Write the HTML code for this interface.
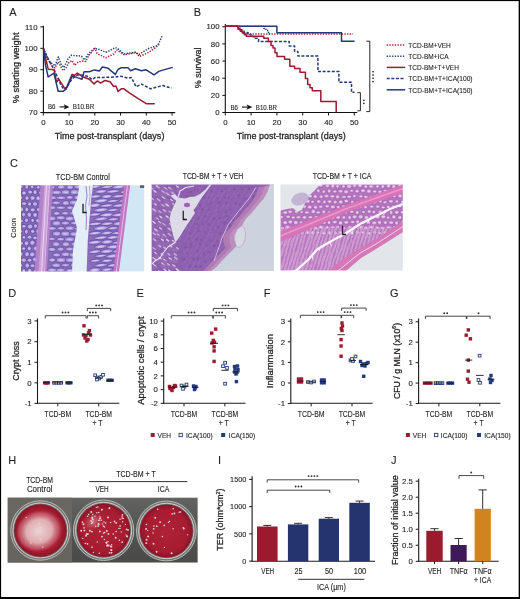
<!DOCTYPE html>
<html><head><meta charset="utf-8"><style>html,body{margin:0;padding:0;background:#fff;}svg{display:block;}</style></head>
<body><svg style="will-change:transform" width="520" height="599" viewBox="0 0 520 599" font-family='"Liberation Sans", sans-serif'>
<style>text{stroke:#231f20;stroke-width:0.12px;}</style>
<rect x="0" y="0" width="520" height="599" fill="#fff"/>
<text x="9.20" y="16.10" font-size="11" text-anchor="start" fill="#231f20" style="stroke-width:0.1px">A</text>
<text x="193.80" y="16.30" font-size="11" text-anchor="start" fill="#231f20" style="stroke-width:0.1px">B</text>
<text x="10.10" y="166.70" font-size="11" text-anchor="start" fill="#231f20" style="stroke-width:0.1px">C</text>
<text x="8.20" y="296.90" font-size="11" text-anchor="start" fill="#231f20" style="stroke-width:0.1px">D</text>
<text x="136.60" y="296.90" font-size="11" text-anchor="start" fill="#231f20" style="stroke-width:0.1px">E</text>
<text x="263.80" y="296.90" font-size="11" text-anchor="start" fill="#231f20" style="stroke-width:0.1px">F</text>
<text x="390.00" y="296.80" font-size="11" text-anchor="start" fill="#231f20" style="stroke-width:0.1px">G</text>
<text x="8.30" y="463.80" font-size="11" text-anchor="start" fill="#231f20" style="stroke-width:0.1px">H</text>
<text x="218.00" y="463.90" font-size="11" text-anchor="start" fill="#231f20" style="stroke-width:0.1px">I</text>
<text x="391.10" y="463.70" font-size="11" text-anchor="start" fill="#231f20" style="stroke-width:0.1px">J</text>
<line x1="43.40" y1="25.80" x2="43.40" y2="113.10" stroke="#111" stroke-width="1.1"/>
<line x1="42.90" y1="112.60" x2="175.20" y2="112.60" stroke="#111" stroke-width="1.1"/>
<line x1="40.30" y1="26.90" x2="43.40" y2="26.90" stroke="#111" stroke-width="1"/>
<text x="37.50" y="29.60" font-size="7.8" text-anchor="end" fill="#231f20">110</text>
<line x1="40.30" y1="48.30" x2="43.40" y2="48.30" stroke="#111" stroke-width="1"/>
<text x="37.50" y="51.00" font-size="7.8" text-anchor="end" fill="#231f20">100</text>
<line x1="40.30" y1="69.70" x2="43.40" y2="69.70" stroke="#111" stroke-width="1"/>
<text x="37.50" y="72.40" font-size="7.8" text-anchor="end" fill="#231f20">90</text>
<line x1="40.30" y1="91.10" x2="43.40" y2="91.10" stroke="#111" stroke-width="1"/>
<text x="37.50" y="93.80" font-size="7.8" text-anchor="end" fill="#231f20">80</text>
<line x1="40.30" y1="112.50" x2="43.40" y2="112.50" stroke="#111" stroke-width="1"/>
<text x="37.50" y="115.20" font-size="7.8" text-anchor="end" fill="#231f20">70</text>
<line x1="43.30" y1="112.60" x2="43.30" y2="115.60" stroke="#111" stroke-width="1"/>
<text x="43.30" y="125.40" font-size="7.8" text-anchor="middle" fill="#231f20">0</text>
<line x1="69.05" y1="112.60" x2="69.05" y2="115.60" stroke="#111" stroke-width="1"/>
<text x="69.05" y="125.40" font-size="7.8" text-anchor="middle" fill="#231f20">10</text>
<line x1="94.80" y1="112.60" x2="94.80" y2="115.60" stroke="#111" stroke-width="1"/>
<text x="94.80" y="125.40" font-size="7.8" text-anchor="middle" fill="#231f20">20</text>
<line x1="120.55" y1="112.60" x2="120.55" y2="115.60" stroke="#111" stroke-width="1"/>
<text x="120.55" y="125.40" font-size="7.8" text-anchor="middle" fill="#231f20">30</text>
<line x1="146.30" y1="112.60" x2="146.30" y2="115.60" stroke="#111" stroke-width="1"/>
<text x="146.30" y="125.40" font-size="7.8" text-anchor="middle" fill="#231f20">40</text>
<line x1="172.05" y1="112.60" x2="172.05" y2="115.60" stroke="#111" stroke-width="1"/>
<text x="172.05" y="125.40" font-size="7.8" text-anchor="middle" fill="#231f20">50</text>
<text x="109.60" y="138.70" font-size="9.4" text-anchor="middle" fill="#231f20" textLength="109.60" lengthAdjust="spacingAndGlyphs" style="stroke-width:0.28px">Time post-transplant (days)</text>
<text transform="translate(19.00,67.90) rotate(-90)" font-size="9.4" text-anchor="middle" fill="#231f20" textLength="70.80" lengthAdjust="spacingAndGlyphs" style="stroke-width:0.28px">% starting weight</text>
<text x="48.00" y="109.30" font-size="7.2" text-anchor="start" fill="#231f20" textLength="7.50" lengthAdjust="spacingAndGlyphs">B6</text>
<path d="M59.6,106.9 H65" stroke="#111" stroke-width="1.1"/><path d="M63.8,104.2 L69.3,106.9 L63.8,109.6 L65,106.9 Z" fill="#111"/>
<text x="72.80" y="109.30" font-size="7.2" text-anchor="start" fill="#231f20" textLength="21.40" lengthAdjust="spacingAndGlyphs">B10.BR</text>
<polyline points="43.50,48.80 47.00,58.00 52.00,66.00 55.00,68.00 58.20,62.00 63.00,70.50 66.00,68.00 69.10,62.20 72.10,60.50 74.70,65.30 78.00,62.20 83.20,60.90 85.80,61.40 88.40,56.20 91.90,51.80 94.90,48.30 97.10,53.50 105.80,57.90 113.60,54.00 117.00,50.00 124.00,54.70 136.00,52.70 139.40,56.50 146.70,53.40 156.10,47.40 160.10,43.40" fill="none" stroke="#9e1a30" stroke-width="1.5" stroke-dasharray="1.3,1.4" stroke-linejoin="round"/>
<polyline points="43.50,48.80 47.00,57.00 50.00,62.00 53.00,64.00 55.00,66.00 58.30,57.00 61.00,64.00 64.00,67.50 68.00,59.00 71.00,55.30 75.00,55.60 78.00,55.70 81.50,56.20 84.10,60.00 88.40,54.00 94.50,48.30 99.70,49.60 105.80,52.20 110.10,50.50 115.30,47.50 118.00,48.80 124.00,54.00 136.00,52.00 138.70,54.70 148.10,48.70 156.10,46.00 158.80,43.40 162.10,36.00" fill="none" stroke="#223a7a" stroke-width="1.5" stroke-dasharray="1.3,1.4" stroke-linejoin="round"/>
<polyline points="43.50,48.80 48.70,60.00 53.90,69.20 57.00,76.00 61.00,85.00 64.00,89.50 67.00,87.00 72.00,79.00 75.00,76.50 78.00,74.80 83.20,75.30 88.40,76.60 91.90,79.60 95.40,77.40 104.00,77.40 115.30,77.00 120.00,76.10 128.00,78.10 131.40,77.40 136.00,86.80 141.40,84.10 150.70,88.80 162.80,85.50 171.50,88.10" fill="none" stroke="#223a7a" stroke-width="1.5" stroke-dasharray="3,1.6" stroke-linejoin="round"/>
<polyline points="43.50,48.80 47.00,64.00 48.20,69.20 52.60,69.60 54.30,70.50 56.50,82.20 58.70,79.20 64.70,88.30 66.50,87.80 72.10,74.40 74.70,75.30 77.30,73.10 83.20,77.00 89.30,79.20 94.00,83.90 97.50,80.90 100.60,83.10 104.90,80.50 110.10,81.80 113.60,86.50 116.00,86.10 118.00,91.50 121.30,88.80 124.00,88.80 129.40,92.80 137.40,98.20 146.70,103.80 154.80,103.80" fill="none" stroke="#9e1a30" stroke-width="1.5" stroke-linejoin="round"/>
<polyline points="43.50,48.80 45.60,65.70 48.20,77.00 53.90,73.10 58.20,91.30 63.00,91.30 66.00,89.10 72.10,76.10 74.70,76.60 78.00,77.90 81.90,79.20 84.10,71.80 89.30,71.80 94.50,69.90 99.30,71.10 102.30,67.00 107.50,67.90 115.30,74.40 118.00,69.50 121.30,67.70 128.00,67.70 130.70,70.80 135.40,68.80 141.40,70.80 146.10,69.80 154.10,74.80 158.80,71.40 165.40,69.40 172.80,67.40" fill="none" stroke="#223a7a" stroke-width="1.5" stroke-linejoin="round"/>
<line x1="225.30" y1="24.00" x2="225.30" y2="113.00" stroke="#111" stroke-width="1.1"/>
<line x1="224.80" y1="112.50" x2="357.30" y2="112.50" stroke="#111" stroke-width="1.1"/>
<line x1="222.30" y1="26.75" x2="225.30" y2="26.75" stroke="#111" stroke-width="1"/>
<text x="219.50" y="29.45" font-size="7.8" text-anchor="end" fill="#231f20">100</text>
<line x1="222.30" y1="43.90" x2="225.30" y2="43.90" stroke="#111" stroke-width="1"/>
<text x="219.50" y="46.60" font-size="7.8" text-anchor="end" fill="#231f20">80</text>
<line x1="222.30" y1="61.05" x2="225.30" y2="61.05" stroke="#111" stroke-width="1"/>
<text x="219.50" y="63.75" font-size="7.8" text-anchor="end" fill="#231f20">60</text>
<line x1="222.30" y1="78.20" x2="225.30" y2="78.20" stroke="#111" stroke-width="1"/>
<text x="219.50" y="80.90" font-size="7.8" text-anchor="end" fill="#231f20">40</text>
<line x1="222.30" y1="95.35" x2="225.30" y2="95.35" stroke="#111" stroke-width="1"/>
<text x="219.50" y="98.05" font-size="7.8" text-anchor="end" fill="#231f20">20</text>
<line x1="222.30" y1="112.50" x2="225.30" y2="112.50" stroke="#111" stroke-width="1"/>
<text x="219.50" y="115.20" font-size="7.8" text-anchor="end" fill="#231f20">0</text>
<line x1="225.30" y1="112.50" x2="225.30" y2="115.50" stroke="#111" stroke-width="1"/>
<text x="225.30" y="125.40" font-size="7.8" text-anchor="middle" fill="#231f20">0</text>
<line x1="251.10" y1="112.50" x2="251.10" y2="115.50" stroke="#111" stroke-width="1"/>
<text x="251.10" y="125.40" font-size="7.8" text-anchor="middle" fill="#231f20">10</text>
<line x1="276.90" y1="112.50" x2="276.90" y2="115.50" stroke="#111" stroke-width="1"/>
<text x="276.90" y="125.40" font-size="7.8" text-anchor="middle" fill="#231f20">20</text>
<line x1="302.70" y1="112.50" x2="302.70" y2="115.50" stroke="#111" stroke-width="1"/>
<text x="302.70" y="125.40" font-size="7.8" text-anchor="middle" fill="#231f20">30</text>
<line x1="328.50" y1="112.50" x2="328.50" y2="115.50" stroke="#111" stroke-width="1"/>
<text x="328.50" y="125.40" font-size="7.8" text-anchor="middle" fill="#231f20">40</text>
<line x1="354.30" y1="112.50" x2="354.30" y2="115.50" stroke="#111" stroke-width="1"/>
<text x="354.30" y="125.40" font-size="7.8" text-anchor="middle" fill="#231f20">50</text>
<text x="291.30" y="138.70" font-size="9.4" text-anchor="middle" fill="#231f20" textLength="109.00" lengthAdjust="spacingAndGlyphs" style="stroke-width:0.28px">Time post-transplant (days)</text>
<text transform="translate(200.50,67.90) rotate(-90)" font-size="9.4" text-anchor="middle" fill="#231f20" textLength="40.80" lengthAdjust="spacingAndGlyphs" style="stroke-width:0.28px">% survival</text>
<text x="230.40" y="109.80" font-size="7.2" text-anchor="start" fill="#231f20" textLength="7.50" lengthAdjust="spacingAndGlyphs">B6</text>
<path d="M242,107.1 H247.5" stroke="#111" stroke-width="1.1"/><path d="M246.5,104.4 L252.3,107.1 L246.5,109.8 L247.7,107.1 Z" fill="#111"/>
<text x="255.80" y="109.80" font-size="7.2" text-anchor="start" fill="#231f20" textLength="21.10" lengthAdjust="spacingAndGlyphs">B10.BR</text>
<polyline points="225.30,26.30 263.80,26.30 263.80,28.50 266.00,28.50 266.00,30.50 268.50,30.50 268.50,34.10 271.00,34.10" fill="none" stroke="#223a7a" stroke-width="1.5" stroke-dasharray="1.3,1.4" stroke-linejoin="round" stroke-linejoin="miter"/>
<polyline points="225.30,26.30 238.30,26.30 238.30,28.00 240.00,28.00 240.00,29.70 242.00,29.70 242.00,31.40 244.00,31.40 244.00,33.00 246.00,33.00 246.00,34.10 353.00,34.10" fill="none" stroke="#9e1a30" stroke-width="1.5" stroke-dasharray="1.3,1.4" stroke-linejoin="round"/>
<polyline points="225.30,26.30 238.30,26.30 238.30,28.50 241.00,28.50 241.00,30.50 244.00,30.50 244.00,32.50 248.00,32.50 248.00,34.50 251.00,34.50 251.00,36.50 254.00,36.50 254.00,38.30 258.60,38.30 258.60,41.60 289.20,41.60 289.20,45.90 294.60,45.90 294.60,51.40 297.90,51.40 297.90,56.00 317.90,56.00 317.90,71.60 338.90,71.60 338.90,82.30 351.50,82.30 351.50,92.30 354.50,92.30" fill="none" stroke="#223a7a" stroke-width="1.5" stroke-dasharray="3,1.6" stroke-linejoin="round"/>
<polyline points="225.30,26.30 276.90,26.30 276.90,32.80 341.50,32.80 341.50,41.20 354.60,41.20" fill="none" stroke="#223a7a" stroke-width="1.5" stroke-linejoin="round"/>
<polyline points="225.30,26.30 238.30,26.30 238.30,29.60 240.30,29.60 240.30,31.30 242.30,31.30 242.30,33.00 244.30,33.00 244.30,34.70 246.30,34.70 246.30,36.30 263.80,36.30 263.80,38.20 268.40,38.20 268.40,41.60 271.00,41.60 271.00,45.50 273.00,45.50 273.00,48.10 275.00,48.10 275.00,52.70 277.00,52.70 277.00,56.60 284.60,56.60 284.60,59.20 289.80,59.20 289.80,66.20 294.60,66.20 294.60,68.50 300.00,68.50 300.00,72.30 305.40,72.30 305.40,78.50 307.70,78.50 307.70,84.60 310.00,84.60 310.00,87.70 312.30,87.70 312.30,90.80 320.80,90.80 320.80,101.50 336.20,101.50 336.20,112.50" fill="none" stroke="#9e1a30" stroke-width="1.5" stroke-linejoin="round"/>
<path d="M357.3,92.7 H360.4 V110.8 H357.3" fill="none" stroke="#111" stroke-width="0.9"/>
<rect x="363.1" y="99.7" width="1.5" height="1.4" fill="#222"/>
<rect x="363.1" y="102.7" width="1.5" height="1.4" fill="#222"/>
<path d="M366.3,41.2 H369.8 V111.6 H366.3" fill="none" stroke="#111" stroke-width="0.9"/>
<rect x="372.3" y="71.0" width="1.5" height="1.4" fill="#222"/>
<rect x="372.3" y="74.3" width="1.5" height="1.4" fill="#222"/>
<rect x="372.3" y="77.6" width="1.5" height="1.4" fill="#222"/>
<rect x="372.3" y="80.89999999999999" width="1.5" height="1.4" fill="#222"/>
<polyline points="386.70,45.00 405.20,45.00" fill="none" stroke="#9e1a30" stroke-width="1.5" stroke-dasharray="1.3,1.4" stroke-linejoin="round"/>
<text x="408.30" y="47.80" font-size="8" text-anchor="start" fill="#231f20" textLength="42.50" lengthAdjust="spacingAndGlyphs">TCD-BM+VEH</text>
<polyline points="386.70,56.20 405.20,56.20" fill="none" stroke="#223a7a" stroke-width="1.5" stroke-dasharray="1.3,1.4" stroke-linejoin="round"/>
<text x="408.30" y="59.00" font-size="8" text-anchor="start" fill="#231f20" textLength="40.30" lengthAdjust="spacingAndGlyphs">TCD-BM+ICA</text>
<polyline points="386.70,67.40 405.20,67.40" fill="none" stroke="#9e1a30" stroke-width="1.5" stroke-linejoin="round"/>
<text x="408.30" y="70.20" font-size="8" text-anchor="start" fill="#231f20" textLength="50.60" lengthAdjust="spacingAndGlyphs">TCD-BM+T+VEH</text>
<polyline points="386.70,78.60 405.20,78.60" fill="none" stroke="#223a7a" stroke-width="1.5" stroke-dasharray="3,1.6" stroke-linejoin="round"/>
<text x="408.30" y="81.40" font-size="8" text-anchor="start" fill="#231f20" textLength="64.30" lengthAdjust="spacingAndGlyphs">TCD-BM+T+ICA(100)</text>
<polyline points="386.70,89.80 405.20,89.80" fill="none" stroke="#223a7a" stroke-width="1.5" stroke-linejoin="round"/>
<text x="408.30" y="92.60" font-size="8" text-anchor="start" fill="#231f20" textLength="64.30" lengthAdjust="spacingAndGlyphs">TCD-BM+T+ICA(150)</text>
<text x="82.80" y="179.50" font-size="8.4" text-anchor="middle" fill="#231f20" textLength="54.00" lengthAdjust="spacingAndGlyphs">TCD-BM Control</text>
<text x="213.00" y="179.40" font-size="8.4" text-anchor="middle" fill="#231f20" textLength="60.60" lengthAdjust="spacingAndGlyphs">TCD-BM + T + VEH</text>
<text x="342.10" y="179.40" font-size="8.4" text-anchor="middle" fill="#231f20" textLength="58.80" lengthAdjust="spacingAndGlyphs">TCD-BM + T + ICA</text>
<text transform="translate(16.00,228.00) rotate(-90)" font-size="7.8" text-anchor="middle" fill="#231f20" textLength="20.00" lengthAdjust="spacingAndGlyphs">Colon</text>
<defs>
<clipPath id="c1"><rect x="21" y="185.2" width="123.2" height="86.4"/></clipPath>
<clipPath id="c2"><rect x="151.6" y="184.6" width="122.3" height="86.5"/></clipPath>
<clipPath id="c3"><rect x="280.4" y="184.6" width="122.4" height="86"/></clipPath>
<clipPath id="c1a"><polygon points="21,185 42,185 36,272 21,272"/></clipPath>
<clipPath id="c1b"><polygon points="52,185 80,185 78,200 73,210 78,215 77,228 74,245 72,272 46,272"/></clipPath>
<clipPath id="c1c"><polygon points="93,185 124.5,185 113.5,272 86.5,272 87.5,240 90,212"/></clipPath>
<filter id="bl" x="-0.05" y="-0.05" width="1.1" height="1.1"><feGaussianBlur stdDeviation="0.45"/></filter>
</defs>
<g clip-path="url(#c1)"><g filter="url(#bl)">
<rect x="18" y="182" width="130" height="93" fill="#8a6cb8"/>
<g clip-path="url(#c1a)"><ellipse cx="20.8" cy="186.7" rx="2.5" ry="1.9" fill="#aca4e2" opacity="1" stroke="#5a3a98" stroke-width="0.7"/>
<ellipse cx="20.8" cy="186.7" rx="1.4" ry="0.8" fill="#cac6f2" opacity="0.8"/>
<ellipse cx="26.8" cy="186.9" rx="2.0" ry="2.3" fill="#aca4e2" opacity="1" stroke="#5a3a98" stroke-width="0.7"/>
<ellipse cx="26.8" cy="186.9" rx="1.1" ry="0.9" fill="#cac6f2" opacity="0.8"/>
<ellipse cx="32.1" cy="186.9" rx="2.0" ry="1.9" fill="#aca4e2" opacity="1" stroke="#5a3a98" stroke-width="0.7"/>
<ellipse cx="32.1" cy="186.9" rx="1.1" ry="0.8" fill="#cac6f2" opacity="0.8"/>
<ellipse cx="38.3" cy="187.3" rx="2.0" ry="2.0" fill="#aca4e2" opacity="1" stroke="#5a3a98" stroke-width="0.7"/>
<ellipse cx="38.3" cy="187.3" rx="1.1" ry="0.8" fill="#cac6f2" opacity="0.8"/>
<ellipse cx="24.0" cy="193.0" rx="2.5" ry="2.2" fill="#aca4e2" opacity="1" stroke="#5a3a98" stroke-width="0.7"/>
<ellipse cx="24.0" cy="193.0" rx="1.4" ry="0.9" fill="#cac6f2" opacity="0.8"/>
<ellipse cx="30.2" cy="192.1" rx="2.7" ry="2.1" fill="#aca4e2" opacity="1" stroke="#5a3a98" stroke-width="0.7"/>
<ellipse cx="30.2" cy="192.1" rx="1.5" ry="0.8" fill="#cac6f2" opacity="0.8"/>
<ellipse cx="35.1" cy="192.2" rx="2.2" ry="2.6" fill="#aca4e2" opacity="1" stroke="#5a3a98" stroke-width="0.7"/>
<ellipse cx="35.1" cy="192.2" rx="1.2" ry="1.0" fill="#cac6f2" opacity="0.8"/>
<ellipse cx="41.0" cy="192.7" rx="2.5" ry="2.2" fill="#aca4e2" opacity="1" stroke="#5a3a98" stroke-width="0.7"/>
<ellipse cx="41.0" cy="192.7" rx="1.4" ry="0.9" fill="#cac6f2" opacity="0.8"/>
<ellipse cx="21.0" cy="197.8" rx="2.0" ry="2.0" fill="#aca4e2" opacity="1" stroke="#5a3a98" stroke-width="0.7"/>
<ellipse cx="21.0" cy="197.8" rx="1.1" ry="0.8" fill="#cac6f2" opacity="0.8"/>
<ellipse cx="27.0" cy="198.1" rx="2.2" ry="2.4" fill="#aca4e2" opacity="1" stroke="#5a3a98" stroke-width="0.7"/>
<ellipse cx="27.0" cy="198.1" rx="1.2" ry="1.0" fill="#cac6f2" opacity="0.8"/>
<ellipse cx="32.6" cy="198.0" rx="2.7" ry="2.5" fill="#aca4e2" opacity="1" stroke="#5a3a98" stroke-width="0.7"/>
<ellipse cx="32.6" cy="198.0" rx="1.5" ry="1.0" fill="#cac6f2" opacity="0.8"/>
<ellipse cx="38.1" cy="198.3" rx="2.4" ry="2.6" fill="#aca4e2" opacity="1" stroke="#5a3a98" stroke-width="0.7"/>
<ellipse cx="38.1" cy="198.3" rx="1.3" ry="1.1" fill="#cac6f2" opacity="0.8"/>
<ellipse cx="24.1" cy="203.6" rx="2.9" ry="1.9" fill="#aca4e2" opacity="1" stroke="#5a3a98" stroke-width="0.7"/>
<ellipse cx="24.1" cy="203.6" rx="1.6" ry="0.8" fill="#cac6f2" opacity="0.8"/>
<ellipse cx="29.6" cy="204.1" rx="2.1" ry="2.3" fill="#aca4e2" opacity="1" stroke="#5a3a98" stroke-width="0.7"/>
<ellipse cx="29.6" cy="204.1" rx="1.1" ry="0.9" fill="#cac6f2" opacity="0.8"/>
<ellipse cx="35.0" cy="204.0" rx="2.7" ry="2.4" fill="#aca4e2" opacity="1" stroke="#5a3a98" stroke-width="0.7"/>
<ellipse cx="35.0" cy="204.0" rx="1.5" ry="0.9" fill="#cac6f2" opacity="0.8"/>
<ellipse cx="41.7" cy="203.6" rx="2.6" ry="2.4" fill="#aca4e2" opacity="1" stroke="#5a3a98" stroke-width="0.7"/>
<ellipse cx="41.7" cy="203.6" rx="1.4" ry="1.0" fill="#cac6f2" opacity="0.8"/>
<ellipse cx="21.1" cy="209.4" rx="2.7" ry="2.7" fill="#aca4e2" opacity="1" stroke="#5a3a98" stroke-width="0.7"/>
<ellipse cx="21.1" cy="209.4" rx="1.5" ry="1.1" fill="#cac6f2" opacity="0.8"/>
<ellipse cx="26.8" cy="209.6" rx="2.0" ry="2.5" fill="#aca4e2" opacity="1" stroke="#5a3a98" stroke-width="0.7"/>
<ellipse cx="26.8" cy="209.6" rx="1.1" ry="1.0" fill="#cac6f2" opacity="0.8"/>
<ellipse cx="32.7" cy="209.9" rx="2.7" ry="2.1" fill="#aca4e2" opacity="1" stroke="#5a3a98" stroke-width="0.7"/>
<ellipse cx="32.7" cy="209.9" rx="1.5" ry="0.8" fill="#cac6f2" opacity="0.8"/>
<ellipse cx="38.3" cy="209.6" rx="1.9" ry="2.3" fill="#aca4e2" opacity="1" stroke="#5a3a98" stroke-width="0.7"/>
<ellipse cx="38.3" cy="209.6" rx="1.1" ry="0.9" fill="#cac6f2" opacity="0.8"/>
<ellipse cx="23.6" cy="214.6" rx="2.0" ry="2.5" fill="#aca4e2" opacity="1" stroke="#5a3a98" stroke-width="0.7"/>
<ellipse cx="23.6" cy="214.6" rx="1.1" ry="1.0" fill="#cac6f2" opacity="0.8"/>
<ellipse cx="29.3" cy="214.7" rx="2.3" ry="2.6" fill="#aca4e2" opacity="1" stroke="#5a3a98" stroke-width="0.7"/>
<ellipse cx="29.3" cy="214.7" rx="1.3" ry="1.1" fill="#cac6f2" opacity="0.8"/>
<ellipse cx="35.1" cy="214.9" rx="2.4" ry="2.7" fill="#aca4e2" opacity="1" stroke="#5a3a98" stroke-width="0.7"/>
<ellipse cx="35.1" cy="214.9" rx="1.3" ry="1.1" fill="#cac6f2" opacity="0.8"/>
<ellipse cx="41.6" cy="215.4" rx="2.2" ry="2.2" fill="#aca4e2" opacity="1" stroke="#5a3a98" stroke-width="0.7"/>
<ellipse cx="41.6" cy="215.4" rx="1.2" ry="0.9" fill="#cac6f2" opacity="0.8"/>
<ellipse cx="20.9" cy="221.0" rx="2.8" ry="2.0" fill="#aca4e2" opacity="1" stroke="#5a3a98" stroke-width="0.7"/>
<ellipse cx="20.9" cy="221.0" rx="1.6" ry="0.8" fill="#cac6f2" opacity="0.8"/>
<ellipse cx="26.5" cy="220.3" rx="2.1" ry="2.3" fill="#aca4e2" opacity="1" stroke="#5a3a98" stroke-width="0.7"/>
<ellipse cx="26.5" cy="220.3" rx="1.2" ry="0.9" fill="#cac6f2" opacity="0.8"/>
<ellipse cx="32.7" cy="220.4" rx="1.9" ry="2.2" fill="#aca4e2" opacity="1" stroke="#5a3a98" stroke-width="0.7"/>
<ellipse cx="32.7" cy="220.4" rx="1.1" ry="0.9" fill="#cac6f2" opacity="0.8"/>
<ellipse cx="38.3" cy="220.7" rx="2.8" ry="2.5" fill="#aca4e2" opacity="1" stroke="#5a3a98" stroke-width="0.7"/>
<ellipse cx="38.3" cy="220.7" rx="1.6" ry="1.0" fill="#cac6f2" opacity="0.8"/>
<ellipse cx="23.9" cy="226.3" rx="2.6" ry="1.9" fill="#aca4e2" opacity="1" stroke="#5a3a98" stroke-width="0.7"/>
<ellipse cx="23.9" cy="226.3" rx="1.4" ry="0.8" fill="#cac6f2" opacity="0.8"/>
<ellipse cx="30.1" cy="226.5" rx="2.8" ry="2.6" fill="#aca4e2" opacity="1" stroke="#5a3a98" stroke-width="0.7"/>
<ellipse cx="30.1" cy="226.5" rx="1.5" ry="1.0" fill="#cac6f2" opacity="0.8"/>
<ellipse cx="35.4" cy="226.1" rx="2.0" ry="2.4" fill="#aca4e2" opacity="1" stroke="#5a3a98" stroke-width="0.7"/>
<ellipse cx="35.4" cy="226.1" rx="1.1" ry="1.0" fill="#cac6f2" opacity="0.8"/>
<ellipse cx="40.9" cy="225.8" rx="2.1" ry="2.0" fill="#aca4e2" opacity="1" stroke="#5a3a98" stroke-width="0.7"/>
<ellipse cx="40.9" cy="225.8" rx="1.2" ry="0.8" fill="#cac6f2" opacity="0.8"/>
<ellipse cx="20.8" cy="231.4" rx="1.9" ry="2.0" fill="#aca4e2" opacity="1" stroke="#5a3a98" stroke-width="0.7"/>
<ellipse cx="20.8" cy="231.4" rx="1.1" ry="0.8" fill="#cac6f2" opacity="0.8"/>
<ellipse cx="26.4" cy="231.7" rx="1.9" ry="2.6" fill="#aca4e2" opacity="1" stroke="#5a3a98" stroke-width="0.7"/>
<ellipse cx="26.4" cy="231.7" rx="1.1" ry="1.1" fill="#cac6f2" opacity="0.8"/>
<ellipse cx="32.7" cy="231.4" rx="2.2" ry="2.2" fill="#aca4e2" opacity="1" stroke="#5a3a98" stroke-width="0.7"/>
<ellipse cx="32.7" cy="231.4" rx="1.2" ry="0.9" fill="#cac6f2" opacity="0.8"/>
<ellipse cx="38.3" cy="231.4" rx="2.7" ry="2.8" fill="#aca4e2" opacity="1" stroke="#5a3a98" stroke-width="0.7"/>
<ellipse cx="38.3" cy="231.4" rx="1.5" ry="1.1" fill="#cac6f2" opacity="0.8"/>
<ellipse cx="23.9" cy="237.4" rx="2.0" ry="1.9" fill="#aca4e2" opacity="1" stroke="#5a3a98" stroke-width="0.7"/>
<ellipse cx="23.9" cy="237.4" rx="1.1" ry="0.8" fill="#cac6f2" opacity="0.8"/>
<ellipse cx="29.5" cy="237.2" rx="2.7" ry="2.0" fill="#aca4e2" opacity="1" stroke="#5a3a98" stroke-width="0.7"/>
<ellipse cx="29.5" cy="237.2" rx="1.5" ry="0.8" fill="#cac6f2" opacity="0.8"/>
<ellipse cx="35.0" cy="237.9" rx="2.4" ry="2.0" fill="#aca4e2" opacity="1" stroke="#5a3a98" stroke-width="0.7"/>
<ellipse cx="35.0" cy="237.9" rx="1.3" ry="0.8" fill="#cac6f2" opacity="0.8"/>
<ellipse cx="41.3" cy="236.9" rx="2.4" ry="2.7" fill="#aca4e2" opacity="1" stroke="#5a3a98" stroke-width="0.7"/>
<ellipse cx="41.3" cy="236.9" rx="1.3" ry="1.1" fill="#cac6f2" opacity="0.8"/>
<ellipse cx="21.4" cy="243.2" rx="2.2" ry="2.2" fill="#aca4e2" opacity="1" stroke="#5a3a98" stroke-width="0.7"/>
<ellipse cx="21.4" cy="243.2" rx="1.2" ry="0.9" fill="#cac6f2" opacity="0.8"/>
<ellipse cx="26.5" cy="243.3" rx="2.4" ry="2.6" fill="#aca4e2" opacity="1" stroke="#5a3a98" stroke-width="0.7"/>
<ellipse cx="26.5" cy="243.3" rx="1.3" ry="1.0" fill="#cac6f2" opacity="0.8"/>
<ellipse cx="32.4" cy="242.7" rx="2.7" ry="2.7" fill="#aca4e2" opacity="1" stroke="#5a3a98" stroke-width="0.7"/>
<ellipse cx="32.4" cy="242.7" rx="1.5" ry="1.1" fill="#cac6f2" opacity="0.8"/>
<ellipse cx="38.8" cy="243.3" rx="2.7" ry="2.5" fill="#aca4e2" opacity="1" stroke="#5a3a98" stroke-width="0.7"/>
<ellipse cx="38.8" cy="243.3" rx="1.5" ry="1.0" fill="#cac6f2" opacity="0.8"/>
<ellipse cx="23.6" cy="248.6" rx="2.3" ry="1.9" fill="#aca4e2" opacity="1" stroke="#5a3a98" stroke-width="0.7"/>
<ellipse cx="23.6" cy="248.6" rx="1.2" ry="0.7" fill="#cac6f2" opacity="0.8"/>
<ellipse cx="29.2" cy="248.4" rx="2.2" ry="2.5" fill="#aca4e2" opacity="1" stroke="#5a3a98" stroke-width="0.7"/>
<ellipse cx="29.2" cy="248.4" rx="1.2" ry="1.0" fill="#cac6f2" opacity="0.8"/>
<ellipse cx="36.0" cy="248.5" rx="2.8" ry="2.7" fill="#aca4e2" opacity="1" stroke="#5a3a98" stroke-width="0.7"/>
<ellipse cx="36.0" cy="248.5" rx="1.6" ry="1.1" fill="#cac6f2" opacity="0.8"/>
<ellipse cx="41.8" cy="248.5" rx="2.1" ry="2.0" fill="#aca4e2" opacity="1" stroke="#5a3a98" stroke-width="0.7"/>
<ellipse cx="41.8" cy="248.5" rx="1.2" ry="0.8" fill="#cac6f2" opacity="0.8"/>
<ellipse cx="20.7" cy="253.9" rx="2.5" ry="2.7" fill="#aca4e2" opacity="1" stroke="#5a3a98" stroke-width="0.7"/>
<ellipse cx="20.7" cy="253.9" rx="1.4" ry="1.1" fill="#cac6f2" opacity="0.8"/>
<ellipse cx="27.1" cy="254.2" rx="2.5" ry="2.6" fill="#aca4e2" opacity="1" stroke="#5a3a98" stroke-width="0.7"/>
<ellipse cx="27.1" cy="254.2" rx="1.4" ry="1.0" fill="#cac6f2" opacity="0.8"/>
<ellipse cx="32.2" cy="254.4" rx="2.8" ry="2.6" fill="#aca4e2" opacity="1" stroke="#5a3a98" stroke-width="0.7"/>
<ellipse cx="32.2" cy="254.4" rx="1.5" ry="1.0" fill="#cac6f2" opacity="0.8"/>
<ellipse cx="38.7" cy="254.2" rx="2.1" ry="2.6" fill="#aca4e2" opacity="1" stroke="#5a3a98" stroke-width="0.7"/>
<ellipse cx="38.7" cy="254.2" rx="1.2" ry="1.0" fill="#cac6f2" opacity="0.8"/>
<ellipse cx="23.7" cy="260.1" rx="2.9" ry="2.2" fill="#aca4e2" opacity="1" stroke="#5a3a98" stroke-width="0.7"/>
<ellipse cx="23.7" cy="260.1" rx="1.6" ry="0.9" fill="#cac6f2" opacity="0.8"/>
<ellipse cx="29.6" cy="260.2" rx="2.6" ry="2.0" fill="#aca4e2" opacity="1" stroke="#5a3a98" stroke-width="0.7"/>
<ellipse cx="29.6" cy="260.2" rx="1.4" ry="0.8" fill="#cac6f2" opacity="0.8"/>
<ellipse cx="35.1" cy="259.5" rx="2.8" ry="2.6" fill="#aca4e2" opacity="1" stroke="#5a3a98" stroke-width="0.7"/>
<ellipse cx="35.1" cy="259.5" rx="1.5" ry="1.0" fill="#cac6f2" opacity="0.8"/>
<ellipse cx="40.9" cy="260.1" rx="2.9" ry="2.4" fill="#aca4e2" opacity="1" stroke="#5a3a98" stroke-width="0.7"/>
<ellipse cx="40.9" cy="260.1" rx="1.6" ry="1.0" fill="#cac6f2" opacity="0.8"/>
<ellipse cx="20.9" cy="265.4" rx="2.0" ry="1.9" fill="#aca4e2" opacity="1" stroke="#5a3a98" stroke-width="0.7"/>
<ellipse cx="20.9" cy="265.4" rx="1.1" ry="0.7" fill="#cac6f2" opacity="0.8"/>
<ellipse cx="27.3" cy="265.5" rx="2.4" ry="2.7" fill="#aca4e2" opacity="1" stroke="#5a3a98" stroke-width="0.7"/>
<ellipse cx="27.3" cy="265.5" rx="1.3" ry="1.1" fill="#cac6f2" opacity="0.8"/>
<ellipse cx="32.5" cy="265.8" rx="2.7" ry="2.0" fill="#aca4e2" opacity="1" stroke="#5a3a98" stroke-width="0.7"/>
<ellipse cx="32.5" cy="265.8" rx="1.5" ry="0.8" fill="#cac6f2" opacity="0.8"/>
<ellipse cx="38.2" cy="265.2" rx="2.2" ry="2.4" fill="#aca4e2" opacity="1" stroke="#5a3a98" stroke-width="0.7"/>
<ellipse cx="38.2" cy="265.2" rx="1.2" ry="1.0" fill="#cac6f2" opacity="0.8"/>
<ellipse cx="23.7" cy="270.9" rx="2.0" ry="2.7" fill="#aca4e2" opacity="1" stroke="#5a3a98" stroke-width="0.7"/>
<ellipse cx="23.7" cy="270.9" rx="1.1" ry="1.1" fill="#cac6f2" opacity="0.8"/>
<ellipse cx="29.6" cy="271.0" rx="2.5" ry="2.7" fill="#aca4e2" opacity="1" stroke="#5a3a98" stroke-width="0.7"/>
<ellipse cx="29.6" cy="271.0" rx="1.4" ry="1.1" fill="#cac6f2" opacity="0.8"/>
<ellipse cx="35.4" cy="271.4" rx="2.4" ry="2.3" fill="#aca4e2" opacity="1" stroke="#5a3a98" stroke-width="0.7"/>
<ellipse cx="35.4" cy="271.4" rx="1.3" ry="0.9" fill="#cac6f2" opacity="0.8"/>
<ellipse cx="41.3" cy="270.5" rx="2.3" ry="2.0" fill="#aca4e2" opacity="1" stroke="#5a3a98" stroke-width="0.7"/>
<ellipse cx="41.3" cy="270.5" rx="1.3" ry="0.8" fill="#cac6f2" opacity="0.8"/></g>
<g clip-path="url(#c1b)"><ellipse cx="51.6" cy="187.2" rx="3.7" ry="2.2" fill="#aea4e0" opacity="0.85" stroke="#5e3e9e" stroke-width="0.7"/>
<ellipse cx="51.6" cy="187.2" rx="2.1" ry="0.9" fill="#ccc6f0" opacity="0.8"/>
<ellipse cx="61.2" cy="187.0" rx="4.0" ry="2.2" fill="#aea4e0" opacity="0.85" stroke="#5e3e9e" stroke-width="0.7"/>
<ellipse cx="61.2" cy="187.0" rx="2.2" ry="0.9" fill="#ccc6f0" opacity="0.8"/>
<ellipse cx="70.0" cy="187.2" rx="3.6" ry="2.3" fill="#aea4e0" opacity="0.85" stroke="#5e3e9e" stroke-width="0.7"/>
<ellipse cx="70.0" cy="187.2" rx="2.0" ry="0.9" fill="#ccc6f0" opacity="0.8"/>
<ellipse cx="78.8" cy="186.8" rx="4.8" ry="2.2" fill="#aea4e0" opacity="0.85" stroke="#5e3e9e" stroke-width="0.7"/>
<ellipse cx="78.8" cy="186.8" rx="2.6" ry="0.9" fill="#ccc6f0" opacity="0.8"/>
<ellipse cx="56.5" cy="192.4" rx="5.0" ry="2.2" fill="#aea4e0" opacity="0.85" stroke="#5e3e9e" stroke-width="0.7"/>
<ellipse cx="56.5" cy="192.4" rx="2.8" ry="0.9" fill="#ccc6f0" opacity="0.8"/>
<ellipse cx="65.6" cy="192.2" rx="4.3" ry="2.4" fill="#aea4e0" opacity="0.85" stroke="#5e3e9e" stroke-width="0.7"/>
<ellipse cx="65.6" cy="192.2" rx="2.4" ry="0.9" fill="#ccc6f0" opacity="0.8"/>
<ellipse cx="74.5" cy="192.2" rx="4.3" ry="2.6" fill="#aea4e0" opacity="0.85" stroke="#5e3e9e" stroke-width="0.7"/>
<ellipse cx="74.5" cy="192.2" rx="2.3" ry="1.0" fill="#ccc6f0" opacity="0.8"/>
<ellipse cx="52.2" cy="197.7" rx="5.1" ry="2.0" fill="#aea4e0" opacity="0.85" stroke="#5e3e9e" stroke-width="0.7"/>
<ellipse cx="52.2" cy="197.7" rx="2.8" ry="0.8" fill="#ccc6f0" opacity="0.8"/>
<ellipse cx="61.0" cy="197.8" rx="4.9" ry="1.9" fill="#aea4e0" opacity="0.85" stroke="#5e3e9e" stroke-width="0.7"/>
<ellipse cx="61.0" cy="197.8" rx="2.7" ry="0.8" fill="#ccc6f0" opacity="0.8"/>
<ellipse cx="69.7" cy="197.4" rx="3.6" ry="2.0" fill="#aea4e0" opacity="0.85" stroke="#5e3e9e" stroke-width="0.7"/>
<ellipse cx="69.7" cy="197.4" rx="2.0" ry="0.8" fill="#ccc6f0" opacity="0.8"/>
<ellipse cx="78.7" cy="197.5" rx="4.8" ry="2.5" fill="#aea4e0" opacity="0.85" stroke="#5e3e9e" stroke-width="0.7"/>
<ellipse cx="78.7" cy="197.5" rx="2.6" ry="1.0" fill="#ccc6f0" opacity="0.8"/>
<ellipse cx="56.2" cy="202.8" rx="4.6" ry="1.9" fill="#aea4e0" opacity="0.85" stroke="#5e3e9e" stroke-width="0.7"/>
<ellipse cx="56.2" cy="202.8" rx="2.5" ry="0.8" fill="#ccc6f0" opacity="0.8"/>
<ellipse cx="65.8" cy="203.0" rx="3.8" ry="2.6" fill="#aea4e0" opacity="0.85" stroke="#5e3e9e" stroke-width="0.7"/>
<ellipse cx="65.8" cy="203.0" rx="2.1" ry="1.0" fill="#ccc6f0" opacity="0.8"/>
<ellipse cx="74.4" cy="202.6" rx="5.1" ry="2.5" fill="#aea4e0" opacity="0.85" stroke="#5e3e9e" stroke-width="0.7"/>
<ellipse cx="74.4" cy="202.6" rx="2.8" ry="1.0" fill="#ccc6f0" opacity="0.8"/>
<ellipse cx="51.7" cy="207.7" rx="4.3" ry="2.1" fill="#aea4e0" opacity="0.85" stroke="#5e3e9e" stroke-width="0.7"/>
<ellipse cx="51.7" cy="207.7" rx="2.4" ry="0.8" fill="#ccc6f0" opacity="0.8"/>
<ellipse cx="60.8" cy="207.7" rx="4.7" ry="1.8" fill="#aea4e0" opacity="0.85" stroke="#5e3e9e" stroke-width="0.7"/>
<ellipse cx="60.8" cy="207.7" rx="2.6" ry="0.7" fill="#ccc6f0" opacity="0.8"/>
<ellipse cx="70.0" cy="207.8" rx="3.5" ry="2.1" fill="#aea4e0" opacity="0.85" stroke="#5e3e9e" stroke-width="0.7"/>
<ellipse cx="70.0" cy="207.8" rx="1.9" ry="0.8" fill="#ccc6f0" opacity="0.8"/>
<ellipse cx="79.1" cy="207.8" rx="3.6" ry="2.6" fill="#aea4e0" opacity="0.85" stroke="#5e3e9e" stroke-width="0.7"/>
<ellipse cx="79.1" cy="207.8" rx="2.0" ry="1.1" fill="#ccc6f0" opacity="0.8"/>
<ellipse cx="56.7" cy="213.4" rx="3.6" ry="2.0" fill="#aea4e0" opacity="0.85" stroke="#5e3e9e" stroke-width="0.7"/>
<ellipse cx="56.7" cy="213.4" rx="2.0" ry="0.8" fill="#ccc6f0" opacity="0.8"/>
<ellipse cx="65.1" cy="213.2" rx="3.9" ry="1.9" fill="#aea4e0" opacity="0.85" stroke="#5e3e9e" stroke-width="0.7"/>
<ellipse cx="65.1" cy="213.2" rx="2.1" ry="0.7" fill="#ccc6f0" opacity="0.8"/>
<ellipse cx="74.4" cy="213.3" rx="4.8" ry="2.0" fill="#aea4e0" opacity="0.85" stroke="#5e3e9e" stroke-width="0.7"/>
<ellipse cx="74.4" cy="213.3" rx="2.7" ry="0.8" fill="#ccc6f0" opacity="0.8"/>
<ellipse cx="51.7" cy="218.5" rx="4.4" ry="2.4" fill="#aea4e0" opacity="0.85" stroke="#5e3e9e" stroke-width="0.7"/>
<ellipse cx="51.7" cy="218.5" rx="2.4" ry="1.0" fill="#ccc6f0" opacity="0.8"/>
<ellipse cx="60.7" cy="217.8" rx="4.6" ry="2.1" fill="#aea4e0" opacity="0.85" stroke="#5e3e9e" stroke-width="0.7"/>
<ellipse cx="60.7" cy="217.8" rx="2.5" ry="0.9" fill="#ccc6f0" opacity="0.8"/>
<ellipse cx="69.7" cy="218.6" rx="4.5" ry="2.5" fill="#aea4e0" opacity="0.85" stroke="#5e3e9e" stroke-width="0.7"/>
<ellipse cx="69.7" cy="218.6" rx="2.5" ry="1.0" fill="#ccc6f0" opacity="0.8"/>
<ellipse cx="78.7" cy="218.5" rx="3.6" ry="2.5" fill="#aea4e0" opacity="0.85" stroke="#5e3e9e" stroke-width="0.7"/>
<ellipse cx="78.7" cy="218.5" rx="2.0" ry="1.0" fill="#ccc6f0" opacity="0.8"/>
<ellipse cx="56.5" cy="223.3" rx="4.4" ry="2.6" fill="#aea4e0" opacity="0.85" stroke="#5e3e9e" stroke-width="0.7"/>
<ellipse cx="56.5" cy="223.3" rx="2.4" ry="1.0" fill="#ccc6f0" opacity="0.8"/>
<ellipse cx="65.3" cy="223.1" rx="4.3" ry="2.0" fill="#aea4e0" opacity="0.85" stroke="#5e3e9e" stroke-width="0.7"/>
<ellipse cx="65.3" cy="223.1" rx="2.4" ry="0.8" fill="#ccc6f0" opacity="0.8"/>
<ellipse cx="74.2" cy="223.1" rx="3.5" ry="1.9" fill="#aea4e0" opacity="0.85" stroke="#5e3e9e" stroke-width="0.7"/>
<ellipse cx="74.2" cy="223.1" rx="1.9" ry="0.8" fill="#ccc6f0" opacity="0.8"/>
<ellipse cx="51.8" cy="228.4" rx="4.7" ry="2.0" fill="#aea4e0" opacity="0.85" stroke="#5e3e9e" stroke-width="0.7"/>
<ellipse cx="51.8" cy="228.4" rx="2.6" ry="0.8" fill="#ccc6f0" opacity="0.8"/>
<ellipse cx="61.0" cy="228.3" rx="4.0" ry="1.8" fill="#aea4e0" opacity="0.85" stroke="#5e3e9e" stroke-width="0.7"/>
<ellipse cx="61.0" cy="228.3" rx="2.2" ry="0.7" fill="#ccc6f0" opacity="0.8"/>
<ellipse cx="69.8" cy="228.2" rx="4.7" ry="2.2" fill="#aea4e0" opacity="0.85" stroke="#5e3e9e" stroke-width="0.7"/>
<ellipse cx="69.8" cy="228.2" rx="2.6" ry="0.9" fill="#ccc6f0" opacity="0.8"/>
<ellipse cx="78.8" cy="228.6" rx="5.0" ry="1.9" fill="#aea4e0" opacity="0.85" stroke="#5e3e9e" stroke-width="0.7"/>
<ellipse cx="78.8" cy="228.6" rx="2.8" ry="0.7" fill="#ccc6f0" opacity="0.8"/>
<ellipse cx="56.8" cy="233.7" rx="4.3" ry="2.5" fill="#aea4e0" opacity="0.85" stroke="#5e3e9e" stroke-width="0.7"/>
<ellipse cx="56.8" cy="233.7" rx="2.4" ry="1.0" fill="#ccc6f0" opacity="0.8"/>
<ellipse cx="65.4" cy="233.8" rx="4.6" ry="2.6" fill="#aea4e0" opacity="0.85" stroke="#5e3e9e" stroke-width="0.7"/>
<ellipse cx="65.4" cy="233.8" rx="2.5" ry="1.0" fill="#ccc6f0" opacity="0.8"/>
<ellipse cx="74.4" cy="234.1" rx="4.7" ry="2.3" fill="#aea4e0" opacity="0.85" stroke="#5e3e9e" stroke-width="0.7"/>
<ellipse cx="74.4" cy="234.1" rx="2.6" ry="0.9" fill="#ccc6f0" opacity="0.8"/>
<ellipse cx="51.9" cy="238.9" rx="3.5" ry="1.9" fill="#aea4e0" opacity="0.85" stroke="#5e3e9e" stroke-width="0.7"/>
<ellipse cx="51.9" cy="238.9" rx="1.9" ry="0.7" fill="#ccc6f0" opacity="0.8"/>
<ellipse cx="60.7" cy="239.2" rx="3.9" ry="1.9" fill="#aea4e0" opacity="0.85" stroke="#5e3e9e" stroke-width="0.7"/>
<ellipse cx="60.7" cy="239.2" rx="2.1" ry="0.8" fill="#ccc6f0" opacity="0.8"/>
<ellipse cx="69.7" cy="239.3" rx="4.9" ry="2.4" fill="#aea4e0" opacity="0.85" stroke="#5e3e9e" stroke-width="0.7"/>
<ellipse cx="69.7" cy="239.3" rx="2.7" ry="0.9" fill="#ccc6f0" opacity="0.8"/>
<ellipse cx="78.8" cy="238.8" rx="3.9" ry="2.2" fill="#aea4e0" opacity="0.85" stroke="#5e3e9e" stroke-width="0.7"/>
<ellipse cx="78.8" cy="238.8" rx="2.2" ry="0.9" fill="#ccc6f0" opacity="0.8"/>
<ellipse cx="56.2" cy="244.2" rx="3.9" ry="2.6" fill="#aea4e0" opacity="0.85" stroke="#5e3e9e" stroke-width="0.7"/>
<ellipse cx="56.2" cy="244.2" rx="2.1" ry="1.0" fill="#ccc6f0" opacity="0.8"/>
<ellipse cx="65.9" cy="244.2" rx="3.9" ry="2.6" fill="#aea4e0" opacity="0.85" stroke="#5e3e9e" stroke-width="0.7"/>
<ellipse cx="65.9" cy="244.2" rx="2.1" ry="1.0" fill="#ccc6f0" opacity="0.8"/>
<ellipse cx="74.3" cy="244.1" rx="3.4" ry="2.1" fill="#aea4e0" opacity="0.85" stroke="#5e3e9e" stroke-width="0.7"/>
<ellipse cx="74.3" cy="244.1" rx="1.9" ry="0.8" fill="#ccc6f0" opacity="0.8"/>
<ellipse cx="52.0" cy="249.4" rx="3.8" ry="2.2" fill="#aea4e0" opacity="0.85" stroke="#5e3e9e" stroke-width="0.7"/>
<ellipse cx="52.0" cy="249.4" rx="2.1" ry="0.9" fill="#ccc6f0" opacity="0.8"/>
<ellipse cx="60.6" cy="249.2" rx="3.6" ry="2.1" fill="#aea4e0" opacity="0.85" stroke="#5e3e9e" stroke-width="0.7"/>
<ellipse cx="60.6" cy="249.2" rx="2.0" ry="0.8" fill="#ccc6f0" opacity="0.8"/>
<ellipse cx="69.6" cy="249.0" rx="4.0" ry="2.0" fill="#aea4e0" opacity="0.85" stroke="#5e3e9e" stroke-width="0.7"/>
<ellipse cx="69.6" cy="249.0" rx="2.2" ry="0.8" fill="#ccc6f0" opacity="0.8"/>
<ellipse cx="79.1" cy="249.4" rx="4.7" ry="2.3" fill="#aea4e0" opacity="0.85" stroke="#5e3e9e" stroke-width="0.7"/>
<ellipse cx="79.1" cy="249.4" rx="2.6" ry="0.9" fill="#ccc6f0" opacity="0.8"/>
<ellipse cx="56.7" cy="254.9" rx="4.1" ry="2.0" fill="#aea4e0" opacity="0.85" stroke="#5e3e9e" stroke-width="0.7"/>
<ellipse cx="56.7" cy="254.9" rx="2.3" ry="0.8" fill="#ccc6f0" opacity="0.8"/>
<ellipse cx="65.9" cy="254.3" rx="4.7" ry="2.3" fill="#aea4e0" opacity="0.85" stroke="#5e3e9e" stroke-width="0.7"/>
<ellipse cx="65.9" cy="254.3" rx="2.6" ry="0.9" fill="#ccc6f0" opacity="0.8"/>
<ellipse cx="74.1" cy="254.9" rx="5.0" ry="2.3" fill="#aea4e0" opacity="0.85" stroke="#5e3e9e" stroke-width="0.7"/>
<ellipse cx="74.1" cy="254.9" rx="2.7" ry="0.9" fill="#ccc6f0" opacity="0.8"/>
<ellipse cx="52.2" cy="260.0" rx="3.7" ry="2.2" fill="#aea4e0" opacity="0.85" stroke="#5e3e9e" stroke-width="0.7"/>
<ellipse cx="52.2" cy="260.0" rx="2.0" ry="0.9" fill="#ccc6f0" opacity="0.8"/>
<ellipse cx="61.0" cy="260.1" rx="4.8" ry="2.5" fill="#aea4e0" opacity="0.85" stroke="#5e3e9e" stroke-width="0.7"/>
<ellipse cx="61.0" cy="260.1" rx="2.7" ry="1.0" fill="#ccc6f0" opacity="0.8"/>
<ellipse cx="70.1" cy="260.1" rx="4.6" ry="2.4" fill="#aea4e0" opacity="0.85" stroke="#5e3e9e" stroke-width="0.7"/>
<ellipse cx="70.1" cy="260.1" rx="2.5" ry="0.9" fill="#ccc6f0" opacity="0.8"/>
<ellipse cx="78.8" cy="259.4" rx="3.7" ry="2.1" fill="#aea4e0" opacity="0.85" stroke="#5e3e9e" stroke-width="0.7"/>
<ellipse cx="78.8" cy="259.4" rx="2.0" ry="0.8" fill="#ccc6f0" opacity="0.8"/>
<ellipse cx="56.2" cy="265.3" rx="4.4" ry="2.3" fill="#aea4e0" opacity="0.85" stroke="#5e3e9e" stroke-width="0.7"/>
<ellipse cx="56.2" cy="265.3" rx="2.4" ry="0.9" fill="#ccc6f0" opacity="0.8"/>
<ellipse cx="65.6" cy="265.1" rx="4.3" ry="1.8" fill="#aea4e0" opacity="0.85" stroke="#5e3e9e" stroke-width="0.7"/>
<ellipse cx="65.6" cy="265.1" rx="2.4" ry="0.7" fill="#ccc6f0" opacity="0.8"/>
<ellipse cx="74.7" cy="265.2" rx="4.3" ry="2.2" fill="#aea4e0" opacity="0.85" stroke="#5e3e9e" stroke-width="0.7"/>
<ellipse cx="74.7" cy="265.2" rx="2.4" ry="0.9" fill="#ccc6f0" opacity="0.8"/>
<ellipse cx="52.1" cy="269.9" rx="4.7" ry="2.0" fill="#aea4e0" opacity="0.85" stroke="#5e3e9e" stroke-width="0.7"/>
<ellipse cx="52.1" cy="269.9" rx="2.6" ry="0.8" fill="#ccc6f0" opacity="0.8"/>
<ellipse cx="60.7" cy="270.0" rx="4.7" ry="1.9" fill="#aea4e0" opacity="0.85" stroke="#5e3e9e" stroke-width="0.7"/>
<ellipse cx="60.7" cy="270.0" rx="2.6" ry="0.8" fill="#ccc6f0" opacity="0.8"/>
<ellipse cx="70.2" cy="270.6" rx="4.3" ry="2.1" fill="#aea4e0" opacity="0.85" stroke="#5e3e9e" stroke-width="0.7"/>
<ellipse cx="70.2" cy="270.6" rx="2.4" ry="0.8" fill="#ccc6f0" opacity="0.8"/>
<ellipse cx="79.0" cy="270.3" rx="4.8" ry="2.3" fill="#aea4e0" opacity="0.85" stroke="#5e3e9e" stroke-width="0.7"/>
<ellipse cx="79.0" cy="270.3" rx="2.6" ry="0.9" fill="#ccc6f0" opacity="0.8"/></g>
<g clip-path="url(#c1c)"><ellipse cx="95.1" cy="186.7" rx="5.3" ry="1.7" fill="#b4aae4" opacity="0.85" stroke="#5e3e9e" stroke-width="0.7" transform="rotate(-6 95.1 186.7)"/>
<ellipse cx="95.1" cy="186.7" rx="2.9" ry="0.7" fill="#d8d4f4" opacity="0.8" transform="rotate(-6 95.1 186.7)"/>
<ellipse cx="107.1" cy="186.9" rx="6.4" ry="1.5" fill="#b4aae4" opacity="0.85" stroke="#5e3e9e" stroke-width="0.7" transform="rotate(-6 107.1 186.9)"/>
<ellipse cx="107.1" cy="186.9" rx="3.5" ry="0.6" fill="#d8d4f4" opacity="0.8" transform="rotate(-6 107.1 186.9)"/>
<ellipse cx="118.7" cy="186.9" rx="6.6" ry="2.0" fill="#b4aae4" opacity="0.85" stroke="#5e3e9e" stroke-width="0.7" transform="rotate(-6 118.7 186.9)"/>
<ellipse cx="118.7" cy="186.9" rx="3.6" ry="0.8" fill="#d8d4f4" opacity="0.8" transform="rotate(-6 118.7 186.9)"/>
<ellipse cx="101.1" cy="191.5" rx="6.2" ry="1.9" fill="#b4aae4" opacity="0.85" stroke="#5e3e9e" stroke-width="0.7" transform="rotate(-6 101.1 191.5)"/>
<ellipse cx="101.1" cy="191.5" rx="3.4" ry="0.7" fill="#d8d4f4" opacity="0.8" transform="rotate(-6 101.1 191.5)"/>
<ellipse cx="113.0" cy="191.4" rx="7.2" ry="1.7" fill="#b4aae4" opacity="0.85" stroke="#5e3e9e" stroke-width="0.7" transform="rotate(-6 113.0 191.4)"/>
<ellipse cx="113.0" cy="191.4" rx="3.9" ry="0.7" fill="#d8d4f4" opacity="0.8" transform="rotate(-6 113.0 191.4)"/>
<ellipse cx="125.3" cy="191.9" rx="5.0" ry="1.9" fill="#b4aae4" opacity="0.85" stroke="#5e3e9e" stroke-width="0.7" transform="rotate(-6 125.3 191.9)"/>
<ellipse cx="125.3" cy="191.9" rx="2.8" ry="0.7" fill="#d8d4f4" opacity="0.8" transform="rotate(-6 125.3 191.9)"/>
<ellipse cx="95.2" cy="196.5" rx="6.1" ry="1.7" fill="#b4aae4" opacity="0.85" stroke="#5e3e9e" stroke-width="0.7" transform="rotate(-6 95.2 196.5)"/>
<ellipse cx="95.2" cy="196.5" rx="3.3" ry="0.7" fill="#d8d4f4" opacity="0.8" transform="rotate(-6 95.2 196.5)"/>
<ellipse cx="106.8" cy="196.5" rx="5.5" ry="2.0" fill="#b4aae4" opacity="0.85" stroke="#5e3e9e" stroke-width="0.7" transform="rotate(-6 106.8 196.5)"/>
<ellipse cx="106.8" cy="196.5" rx="3.0" ry="0.8" fill="#d8d4f4" opacity="0.8" transform="rotate(-6 106.8 196.5)"/>
<ellipse cx="118.8" cy="196.2" rx="7.3" ry="1.6" fill="#b4aae4" opacity="0.85" stroke="#5e3e9e" stroke-width="0.7" transform="rotate(-6 118.8 196.2)"/>
<ellipse cx="118.8" cy="196.2" rx="4.0" ry="0.6" fill="#d8d4f4" opacity="0.8" transform="rotate(-6 118.8 196.2)"/>
<ellipse cx="101.2" cy="200.8" rx="7.2" ry="2.1" fill="#b4aae4" opacity="0.85" stroke="#5e3e9e" stroke-width="0.7" transform="rotate(-6 101.2 200.8)"/>
<ellipse cx="101.2" cy="200.8" rx="3.9" ry="0.8" fill="#d8d4f4" opacity="0.8" transform="rotate(-6 101.2 200.8)"/>
<ellipse cx="112.8" cy="201.0" rx="6.2" ry="1.5" fill="#b4aae4" opacity="0.85" stroke="#5e3e9e" stroke-width="0.7" transform="rotate(-6 112.8 201.0)"/>
<ellipse cx="112.8" cy="201.0" rx="3.4" ry="0.6" fill="#d8d4f4" opacity="0.8" transform="rotate(-6 112.8 201.0)"/>
<ellipse cx="124.7" cy="200.8" rx="6.1" ry="1.7" fill="#b4aae4" opacity="0.85" stroke="#5e3e9e" stroke-width="0.7" transform="rotate(-6 124.7 200.8)"/>
<ellipse cx="124.7" cy="200.8" rx="3.3" ry="0.7" fill="#d8d4f4" opacity="0.8" transform="rotate(-6 124.7 200.8)"/>
<ellipse cx="94.8" cy="205.3" rx="5.7" ry="2.2" fill="#b4aae4" opacity="0.85" stroke="#5e3e9e" stroke-width="0.7" transform="rotate(-6 94.8 205.3)"/>
<ellipse cx="94.8" cy="205.3" rx="3.2" ry="0.9" fill="#d8d4f4" opacity="0.8" transform="rotate(-6 94.8 205.3)"/>
<ellipse cx="106.7" cy="205.6" rx="7.0" ry="1.6" fill="#b4aae4" opacity="0.85" stroke="#5e3e9e" stroke-width="0.7" transform="rotate(-6 106.7 205.6)"/>
<ellipse cx="106.7" cy="205.6" rx="3.9" ry="0.6" fill="#d8d4f4" opacity="0.8" transform="rotate(-6 106.7 205.6)"/>
<ellipse cx="119.3" cy="205.5" rx="7.2" ry="1.7" fill="#b4aae4" opacity="0.85" stroke="#5e3e9e" stroke-width="0.7" transform="rotate(-6 119.3 205.5)"/>
<ellipse cx="119.3" cy="205.5" rx="4.0" ry="0.7" fill="#d8d4f4" opacity="0.8" transform="rotate(-6 119.3 205.5)"/>
<ellipse cx="100.9" cy="209.9" rx="7.4" ry="2.0" fill="#b4aae4" opacity="0.85" stroke="#5e3e9e" stroke-width="0.7" transform="rotate(-6 100.9 209.9)"/>
<ellipse cx="100.9" cy="209.9" rx="4.1" ry="0.8" fill="#d8d4f4" opacity="0.8" transform="rotate(-6 100.9 209.9)"/>
<ellipse cx="112.9" cy="210.0" rx="5.6" ry="1.6" fill="#b4aae4" opacity="0.85" stroke="#5e3e9e" stroke-width="0.7" transform="rotate(-6 112.9 210.0)"/>
<ellipse cx="112.9" cy="210.0" rx="3.1" ry="0.6" fill="#d8d4f4" opacity="0.8" transform="rotate(-6 112.9 210.0)"/>
<ellipse cx="124.8" cy="210.2" rx="5.7" ry="2.2" fill="#b4aae4" opacity="0.85" stroke="#5e3e9e" stroke-width="0.7" transform="rotate(-6 124.8 210.2)"/>
<ellipse cx="124.8" cy="210.2" rx="3.1" ry="0.9" fill="#d8d4f4" opacity="0.8" transform="rotate(-6 124.8 210.2)"/>
<ellipse cx="94.8" cy="214.5" rx="6.2" ry="1.7" fill="#b4aae4" opacity="0.85" stroke="#5e3e9e" stroke-width="0.7" transform="rotate(-6 94.8 214.5)"/>
<ellipse cx="94.8" cy="214.5" rx="3.4" ry="0.7" fill="#d8d4f4" opacity="0.8" transform="rotate(-6 94.8 214.5)"/>
<ellipse cx="106.9" cy="214.9" rx="7.2" ry="2.1" fill="#b4aae4" opacity="0.85" stroke="#5e3e9e" stroke-width="0.7" transform="rotate(-6 106.9 214.9)"/>
<ellipse cx="106.9" cy="214.9" rx="3.9" ry="0.9" fill="#d8d4f4" opacity="0.8" transform="rotate(-6 106.9 214.9)"/>
<ellipse cx="119.1" cy="214.8" rx="7.3" ry="1.9" fill="#b4aae4" opacity="0.85" stroke="#5e3e9e" stroke-width="0.7" transform="rotate(-6 119.1 214.8)"/>
<ellipse cx="119.1" cy="214.8" rx="4.0" ry="0.8" fill="#d8d4f4" opacity="0.8" transform="rotate(-6 119.1 214.8)"/>
<ellipse cx="101.1" cy="218.9" rx="6.8" ry="1.9" fill="#b4aae4" opacity="0.85" stroke="#5e3e9e" stroke-width="0.7" transform="rotate(-6 101.1 218.9)"/>
<ellipse cx="101.1" cy="218.9" rx="3.7" ry="0.7" fill="#d8d4f4" opacity="0.8" transform="rotate(-6 101.1 218.9)"/>
<ellipse cx="113.2" cy="219.3" rx="5.7" ry="1.6" fill="#b4aae4" opacity="0.85" stroke="#5e3e9e" stroke-width="0.7" transform="rotate(-6 113.2 219.3)"/>
<ellipse cx="113.2" cy="219.3" rx="3.1" ry="0.6" fill="#d8d4f4" opacity="0.8" transform="rotate(-6 113.2 219.3)"/>
<ellipse cx="125.3" cy="219.0" rx="6.1" ry="1.8" fill="#b4aae4" opacity="0.85" stroke="#5e3e9e" stroke-width="0.7" transform="rotate(-6 125.3 219.0)"/>
<ellipse cx="125.3" cy="219.0" rx="3.4" ry="0.7" fill="#d8d4f4" opacity="0.8" transform="rotate(-6 125.3 219.0)"/>
<ellipse cx="94.9" cy="223.9" rx="7.4" ry="1.7" fill="#b4aae4" opacity="0.85" stroke="#5e3e9e" stroke-width="0.7" transform="rotate(-6 94.9 223.9)"/>
<ellipse cx="94.9" cy="223.9" rx="4.1" ry="0.7" fill="#d8d4f4" opacity="0.8" transform="rotate(-6 94.9 223.9)"/>
<ellipse cx="107.1" cy="223.7" rx="6.3" ry="1.8" fill="#b4aae4" opacity="0.85" stroke="#5e3e9e" stroke-width="0.7" transform="rotate(-6 107.1 223.7)"/>
<ellipse cx="107.1" cy="223.7" rx="3.5" ry="0.7" fill="#d8d4f4" opacity="0.8" transform="rotate(-6 107.1 223.7)"/>
<ellipse cx="118.8" cy="223.6" rx="5.5" ry="2.2" fill="#b4aae4" opacity="0.85" stroke="#5e3e9e" stroke-width="0.7" transform="rotate(-6 118.8 223.6)"/>
<ellipse cx="118.8" cy="223.6" rx="3.0" ry="0.9" fill="#d8d4f4" opacity="0.8" transform="rotate(-6 118.8 223.6)"/>
<ellipse cx="101.0" cy="228.2" rx="7.2" ry="2.3" fill="#b4aae4" opacity="0.85" stroke="#5e3e9e" stroke-width="0.7" transform="rotate(-6 101.0 228.2)"/>
<ellipse cx="101.0" cy="228.2" rx="4.0" ry="0.9" fill="#d8d4f4" opacity="0.8" transform="rotate(-6 101.0 228.2)"/>
<ellipse cx="113.0" cy="228.2" rx="5.4" ry="1.6" fill="#b4aae4" opacity="0.85" stroke="#5e3e9e" stroke-width="0.7" transform="rotate(-6 113.0 228.2)"/>
<ellipse cx="113.0" cy="228.2" rx="3.0" ry="0.6" fill="#d8d4f4" opacity="0.8" transform="rotate(-6 113.0 228.2)"/>
<ellipse cx="124.9" cy="228.2" rx="5.6" ry="1.7" fill="#b4aae4" opacity="0.85" stroke="#5e3e9e" stroke-width="0.7" transform="rotate(-6 124.9 228.2)"/>
<ellipse cx="124.9" cy="228.2" rx="3.1" ry="0.7" fill="#d8d4f4" opacity="0.8" transform="rotate(-6 124.9 228.2)"/>
<ellipse cx="95.0" cy="233.2" rx="6.8" ry="1.8" fill="#b4aae4" opacity="0.85" stroke="#5e3e9e" stroke-width="0.7" transform="rotate(-6 95.0 233.2)"/>
<ellipse cx="95.0" cy="233.2" rx="3.8" ry="0.7" fill="#d8d4f4" opacity="0.8" transform="rotate(-6 95.0 233.2)"/>
<ellipse cx="106.9" cy="233.0" rx="5.9" ry="1.8" fill="#b4aae4" opacity="0.85" stroke="#5e3e9e" stroke-width="0.7" transform="rotate(-6 106.9 233.0)"/>
<ellipse cx="106.9" cy="233.0" rx="3.2" ry="0.7" fill="#d8d4f4" opacity="0.8" transform="rotate(-6 106.9 233.0)"/>
<ellipse cx="118.7" cy="232.9" rx="7.4" ry="1.6" fill="#b4aae4" opacity="0.85" stroke="#5e3e9e" stroke-width="0.7" transform="rotate(-6 118.7 232.9)"/>
<ellipse cx="118.7" cy="232.9" rx="4.0" ry="0.6" fill="#d8d4f4" opacity="0.8" transform="rotate(-6 118.7 232.9)"/>
<ellipse cx="101.0" cy="237.7" rx="7.1" ry="1.7" fill="#b4aae4" opacity="0.85" stroke="#5e3e9e" stroke-width="0.7" transform="rotate(-6 101.0 237.7)"/>
<ellipse cx="101.0" cy="237.7" rx="3.9" ry="0.7" fill="#d8d4f4" opacity="0.8" transform="rotate(-6 101.0 237.7)"/>
<ellipse cx="112.9" cy="237.4" rx="6.0" ry="1.9" fill="#b4aae4" opacity="0.85" stroke="#5e3e9e" stroke-width="0.7" transform="rotate(-6 112.9 237.4)"/>
<ellipse cx="112.9" cy="237.4" rx="3.3" ry="0.7" fill="#d8d4f4" opacity="0.8" transform="rotate(-6 112.9 237.4)"/>
<ellipse cx="125.3" cy="237.8" rx="7.1" ry="1.5" fill="#b4aae4" opacity="0.85" stroke="#5e3e9e" stroke-width="0.7" transform="rotate(-6 125.3 237.8)"/>
<ellipse cx="125.3" cy="237.8" rx="3.9" ry="0.6" fill="#d8d4f4" opacity="0.8" transform="rotate(-6 125.3 237.8)"/>
<ellipse cx="94.7" cy="242.3" rx="7.2" ry="1.9" fill="#b4aae4" opacity="0.85" stroke="#5e3e9e" stroke-width="0.7" transform="rotate(-6 94.7 242.3)"/>
<ellipse cx="94.7" cy="242.3" rx="3.9" ry="0.8" fill="#d8d4f4" opacity="0.8" transform="rotate(-6 94.7 242.3)"/>
<ellipse cx="107.1" cy="241.9" rx="5.9" ry="2.2" fill="#b4aae4" opacity="0.85" stroke="#5e3e9e" stroke-width="0.7" transform="rotate(-6 107.1 241.9)"/>
<ellipse cx="107.1" cy="241.9" rx="3.3" ry="0.9" fill="#d8d4f4" opacity="0.8" transform="rotate(-6 107.1 241.9)"/>
<ellipse cx="119.2" cy="242.4" rx="7.4" ry="1.7" fill="#b4aae4" opacity="0.85" stroke="#5e3e9e" stroke-width="0.7" transform="rotate(-6 119.2 242.4)"/>
<ellipse cx="119.2" cy="242.4" rx="4.1" ry="0.7" fill="#d8d4f4" opacity="0.8" transform="rotate(-6 119.2 242.4)"/>
<ellipse cx="100.8" cy="246.6" rx="6.3" ry="2.0" fill="#b4aae4" opacity="0.85" stroke="#5e3e9e" stroke-width="0.7" transform="rotate(-6 100.8 246.6)"/>
<ellipse cx="100.8" cy="246.6" rx="3.4" ry="0.8" fill="#d8d4f4" opacity="0.8" transform="rotate(-6 100.8 246.6)"/>
<ellipse cx="113.3" cy="246.9" rx="6.6" ry="2.1" fill="#b4aae4" opacity="0.85" stroke="#5e3e9e" stroke-width="0.7" transform="rotate(-6 113.3 246.9)"/>
<ellipse cx="113.3" cy="246.9" rx="3.6" ry="0.8" fill="#d8d4f4" opacity="0.8" transform="rotate(-6 113.3 246.9)"/>
<ellipse cx="125.0" cy="246.8" rx="5.1" ry="2.1" fill="#b4aae4" opacity="0.85" stroke="#5e3e9e" stroke-width="0.7" transform="rotate(-6 125.0 246.8)"/>
<ellipse cx="125.0" cy="246.8" rx="2.8" ry="0.8" fill="#d8d4f4" opacity="0.8" transform="rotate(-6 125.0 246.8)"/>
<ellipse cx="94.8" cy="251.7" rx="6.6" ry="1.8" fill="#b4aae4" opacity="0.85" stroke="#5e3e9e" stroke-width="0.7" transform="rotate(-6 94.8 251.7)"/>
<ellipse cx="94.8" cy="251.7" rx="3.6" ry="0.7" fill="#d8d4f4" opacity="0.8" transform="rotate(-6 94.8 251.7)"/>
<ellipse cx="106.8" cy="251.3" rx="6.5" ry="2.1" fill="#b4aae4" opacity="0.85" stroke="#5e3e9e" stroke-width="0.7" transform="rotate(-6 106.8 251.3)"/>
<ellipse cx="106.8" cy="251.3" rx="3.6" ry="0.8" fill="#d8d4f4" opacity="0.8" transform="rotate(-6 106.8 251.3)"/>
<ellipse cx="118.8" cy="251.1" rx="6.3" ry="2.0" fill="#b4aae4" opacity="0.85" stroke="#5e3e9e" stroke-width="0.7" transform="rotate(-6 118.8 251.1)"/>
<ellipse cx="118.8" cy="251.1" rx="3.4" ry="0.8" fill="#d8d4f4" opacity="0.8" transform="rotate(-6 118.8 251.1)"/>
<ellipse cx="100.9" cy="255.8" rx="6.5" ry="1.5" fill="#b4aae4" opacity="0.85" stroke="#5e3e9e" stroke-width="0.7" transform="rotate(-6 100.9 255.8)"/>
<ellipse cx="100.9" cy="255.8" rx="3.5" ry="0.6" fill="#d8d4f4" opacity="0.8" transform="rotate(-6 100.9 255.8)"/>
<ellipse cx="112.9" cy="256.0" rx="7.3" ry="2.0" fill="#b4aae4" opacity="0.85" stroke="#5e3e9e" stroke-width="0.7" transform="rotate(-6 112.9 256.0)"/>
<ellipse cx="112.9" cy="256.0" rx="4.0" ry="0.8" fill="#d8d4f4" opacity="0.8" transform="rotate(-6 112.9 256.0)"/>
<ellipse cx="125.2" cy="256.0" rx="5.5" ry="1.7" fill="#b4aae4" opacity="0.85" stroke="#5e3e9e" stroke-width="0.7" transform="rotate(-6 125.2 256.0)"/>
<ellipse cx="125.2" cy="256.0" rx="3.0" ry="0.7" fill="#d8d4f4" opacity="0.8" transform="rotate(-6 125.2 256.0)"/>
<ellipse cx="95.3" cy="260.7" rx="5.7" ry="1.5" fill="#b4aae4" opacity="0.85" stroke="#5e3e9e" stroke-width="0.7" transform="rotate(-6 95.3 260.7)"/>
<ellipse cx="95.3" cy="260.7" rx="3.1" ry="0.6" fill="#d8d4f4" opacity="0.8" transform="rotate(-6 95.3 260.7)"/>
<ellipse cx="107.0" cy="260.7" rx="6.0" ry="1.7" fill="#b4aae4" opacity="0.85" stroke="#5e3e9e" stroke-width="0.7" transform="rotate(-6 107.0 260.7)"/>
<ellipse cx="107.0" cy="260.7" rx="3.3" ry="0.7" fill="#d8d4f4" opacity="0.8" transform="rotate(-6 107.0 260.7)"/>
<ellipse cx="119.1" cy="260.9" rx="5.5" ry="1.5" fill="#b4aae4" opacity="0.85" stroke="#5e3e9e" stroke-width="0.7" transform="rotate(-6 119.1 260.9)"/>
<ellipse cx="119.1" cy="260.9" rx="3.0" ry="0.6" fill="#d8d4f4" opacity="0.8" transform="rotate(-6 119.1 260.9)"/>
<ellipse cx="100.9" cy="265.2" rx="6.7" ry="1.7" fill="#b4aae4" opacity="0.85" stroke="#5e3e9e" stroke-width="0.7" transform="rotate(-6 100.9 265.2)"/>
<ellipse cx="100.9" cy="265.2" rx="3.7" ry="0.7" fill="#d8d4f4" opacity="0.8" transform="rotate(-6 100.9 265.2)"/>
<ellipse cx="113.2" cy="265.3" rx="6.2" ry="1.7" fill="#b4aae4" opacity="0.85" stroke="#5e3e9e" stroke-width="0.7" transform="rotate(-6 113.2 265.3)"/>
<ellipse cx="113.2" cy="265.3" rx="3.4" ry="0.7" fill="#d8d4f4" opacity="0.8" transform="rotate(-6 113.2 265.3)"/>
<ellipse cx="125.3" cy="265.1" rx="7.0" ry="1.7" fill="#b4aae4" opacity="0.85" stroke="#5e3e9e" stroke-width="0.7" transform="rotate(-6 125.3 265.1)"/>
<ellipse cx="125.3" cy="265.1" rx="3.8" ry="0.7" fill="#d8d4f4" opacity="0.8" transform="rotate(-6 125.3 265.1)"/>
<ellipse cx="94.8" cy="270.0" rx="5.7" ry="2.2" fill="#b4aae4" opacity="0.85" stroke="#5e3e9e" stroke-width="0.7" transform="rotate(-6 94.8 270.0)"/>
<ellipse cx="94.8" cy="270.0" rx="3.1" ry="0.9" fill="#d8d4f4" opacity="0.8" transform="rotate(-6 94.8 270.0)"/>
<ellipse cx="107.0" cy="269.6" rx="5.5" ry="1.8" fill="#b4aae4" opacity="0.85" stroke="#5e3e9e" stroke-width="0.7" transform="rotate(-6 107.0 269.6)"/>
<ellipse cx="107.0" cy="269.6" rx="3.0" ry="0.7" fill="#d8d4f4" opacity="0.8" transform="rotate(-6 107.0 269.6)"/>
<ellipse cx="119.1" cy="270.1" rx="5.3" ry="1.8" fill="#b4aae4" opacity="0.85" stroke="#5e3e9e" stroke-width="0.7" transform="rotate(-6 119.1 270.1)"/>
<ellipse cx="119.1" cy="270.1" rx="2.9" ry="0.7" fill="#d8d4f4" opacity="0.8" transform="rotate(-6 119.1 270.1)"/></g>
<polygon points="40.5,185.0 53.0,185.0 46.8,272.0 34.5,272.0" fill="#b884cc" opacity="0.9"/>
<polygon points="44.5,185.0 50.0,185.0 43.5,272.0 38.5,272.0" fill="#d4b0e0" opacity="0.7"/>
<polyline points="46.50,185.00 41.50,272.00" fill="none" stroke="#eee0f4" stroke-width="0.9" stroke-linejoin="round"/>
<polyline points="49.50,185.00 44.50,272.00" fill="none" stroke="#e8d4f0" stroke-width="0.7" stroke-linejoin="round"/>
<polygon points="79.4,185.0 93.0,185.0 91.0,200.0 90.3,210.0 89.0,225.0 87.8,240.0 86.6,272.0 72.0,272.0 73.0,250.0 77.0,228.0 72.0,210.7 77.0,200.0" fill="#e4eef8"/>
<polyline points="86.00,186.00 87.00,196.00 85.50,206.00 86.50,218.00 86.00,230.00" fill="none" stroke="#a888cc" stroke-width="1.1" stroke-linejoin="round"/>
<polyline points="89.50,186.00 90.00,196.00 88.80,206.00" fill="none" stroke="#b49ad4" stroke-width="0.9" stroke-linejoin="round"/>
<polygon points="124.2,185.0 131.0,185.0 119.0,272.0 113.3,272.0" fill="#c276c4"/>
<polyline points="127.50,185.00 116.30,272.00" fill="none" stroke="#f0dcf0" stroke-width="0.7" stroke-linejoin="round"/>
<polygon points="130.2,185.0 145.0,185.0 145.0,272.0 118.9,272.0" fill="#d2e7f6"/>
<rect x="140" y="185" width="5" height="3" fill="#3a4048" opacity="0.8"/>
</g></g>
<text x="81.90" y="213.40" font-size="13" text-anchor="start" fill="#111" textLength="4.60" lengthAdjust="spacingAndGlyphs" style="stroke-width:0.7px">L</text>
<g clip-path="url(#c2)"><g filter="url(#bl)">
<rect x="148" y="181" width="130" height="94" fill="#8c60ae"/>
<g><ellipse cx="152.1" cy="188.4" rx="1.9" ry="0.7" fill="#e6dcef" opacity="0.85" transform="rotate(35 152.1 188.4)"/>
<ellipse cx="157.7" cy="186.7" rx="2.6" ry="0.9" fill="#e6dcef" opacity="0.85" transform="rotate(35 157.7 186.7)"/>
<ellipse cx="165.7" cy="188.5" rx="2.6" ry="0.7" fill="#e6dcef" opacity="0.85" transform="rotate(35 165.7 188.5)"/>
<ellipse cx="170.1" cy="188.3" rx="2.4" ry="0.7" fill="#e6dcef" opacity="0.85" transform="rotate(35 170.1 188.3)"/>
<ellipse cx="177.5" cy="186.6" rx="2.1" ry="0.7" fill="#e6dcef" opacity="0.85" transform="rotate(35 177.5 186.6)"/>
<ellipse cx="155.0" cy="191.5" rx="2.0" ry="0.8" fill="#e6dcef" opacity="0.85" transform="rotate(35 155.0 191.5)"/>
<ellipse cx="163.4" cy="191.9" rx="2.6" ry="0.7" fill="#e6dcef" opacity="0.85" transform="rotate(35 163.4 191.9)"/>
<ellipse cx="167.6" cy="194.0" rx="2.5" ry="0.8" fill="#e6dcef" opacity="0.85" transform="rotate(35 167.6 194.0)"/>
<ellipse cx="172.6" cy="192.9" rx="2.1" ry="0.9" fill="#e6dcef" opacity="0.85" transform="rotate(35 172.6 192.9)"/>
<ellipse cx="152.1" cy="198.6" rx="2.5" ry="0.6" fill="#e6dcef" opacity="0.85" transform="rotate(35 152.1 198.6)"/>
<ellipse cx="158.7" cy="199.9" rx="2.4" ry="0.7" fill="#e6dcef" opacity="0.85" transform="rotate(35 158.7 199.9)"/>
<ellipse cx="163.6" cy="197.7" rx="2.6" ry="0.7" fill="#e6dcef" opacity="0.85" transform="rotate(35 163.6 197.7)"/>
<ellipse cx="171.7" cy="200.2" rx="2.1" ry="0.7" fill="#e6dcef" opacity="0.85" transform="rotate(35 171.7 200.2)"/>
<ellipse cx="178.4" cy="199.4" rx="2.0" ry="0.9" fill="#e6dcef" opacity="0.85" transform="rotate(35 178.4 199.4)"/>
<ellipse cx="155.4" cy="204.3" rx="1.8" ry="0.9" fill="#e6dcef" opacity="0.85" transform="rotate(35 155.4 204.3)"/>
<ellipse cx="163.2" cy="205.4" rx="2.6" ry="0.6" fill="#e6dcef" opacity="0.85" transform="rotate(35 163.2 205.4)"/>
<ellipse cx="167.2" cy="204.9" rx="2.6" ry="0.9" fill="#e6dcef" opacity="0.85" transform="rotate(35 167.2 204.9)"/>
<ellipse cx="173.7" cy="204.3" rx="2.1" ry="0.8" fill="#e6dcef" opacity="0.85" transform="rotate(35 173.7 204.3)"/>
<ellipse cx="154.3" cy="210.0" rx="2.5" ry="0.9" fill="#e6dcef" opacity="0.85" transform="rotate(35 154.3 210.0)"/>
<ellipse cx="160.0" cy="211.8" rx="2.3" ry="0.7" fill="#e6dcef" opacity="0.85" transform="rotate(35 160.0 211.8)"/>
<ellipse cx="164.5" cy="210.6" rx="2.4" ry="0.7" fill="#e6dcef" opacity="0.85" transform="rotate(35 164.5 210.6)"/>
<ellipse cx="170.1" cy="211.8" rx="2.0" ry="0.7" fill="#e6dcef" opacity="0.85" transform="rotate(35 170.1 211.8)"/>
<ellipse cx="175.6" cy="211.2" rx="2.0" ry="1.0" fill="#e6dcef" opacity="0.85" transform="rotate(35 175.6 211.2)"/>
<ellipse cx="157.2" cy="218.5" rx="2.0" ry="0.7" fill="#e6dcef" opacity="0.85" transform="rotate(35 157.2 218.5)"/>
<ellipse cx="160.8" cy="217.0" rx="2.4" ry="0.8" fill="#e6dcef" opacity="0.85" transform="rotate(35 160.8 217.0)"/>
<ellipse cx="167.2" cy="216.8" rx="2.3" ry="0.9" fill="#e6dcef" opacity="0.85" transform="rotate(35 167.2 216.8)"/>
<ellipse cx="174.7" cy="218.0" rx="2.3" ry="0.7" fill="#e6dcef" opacity="0.85" transform="rotate(35 174.7 218.0)"/>
<ellipse cx="154.0" cy="222.4" rx="2.3" ry="0.8" fill="#e6dcef" opacity="0.85" transform="rotate(35 154.0 222.4)"/>
<ellipse cx="159.7" cy="222.1" rx="2.0" ry="0.7" fill="#e6dcef" opacity="0.85" transform="rotate(35 159.7 222.1)"/>
<ellipse cx="164.0" cy="224.2" rx="2.3" ry="0.7" fill="#e6dcef" opacity="0.85" transform="rotate(35 164.0 224.2)"/>
<ellipse cx="170.7" cy="224.5" rx="2.2" ry="0.7" fill="#e6dcef" opacity="0.85" transform="rotate(35 170.7 224.5)"/>
<ellipse cx="177.9" cy="223.5" rx="2.6" ry="0.7" fill="#e6dcef" opacity="0.85" transform="rotate(35 177.9 223.5)"/>
<ellipse cx="155.9" cy="230.0" rx="2.5" ry="0.9" fill="#e6dcef" opacity="0.85" transform="rotate(35 155.9 230.0)"/>
<ellipse cx="160.6" cy="228.4" rx="1.9" ry="0.7" fill="#e6dcef" opacity="0.85" transform="rotate(35 160.6 228.4)"/>
<ellipse cx="169.4" cy="229.2" rx="2.6" ry="0.8" fill="#e6dcef" opacity="0.85" transform="rotate(35 169.4 229.2)"/>
<ellipse cx="175.1" cy="228.8" rx="2.0" ry="0.9" fill="#e6dcef" opacity="0.85" transform="rotate(35 175.1 228.8)"/>
<ellipse cx="154.3" cy="233.8" rx="2.3" ry="0.8" fill="#e6dcef" opacity="0.85" transform="rotate(35 154.3 233.8)"/>
<ellipse cx="158.2" cy="234.6" rx="1.9" ry="0.7" fill="#e6dcef" opacity="0.85" transform="rotate(35 158.2 234.6)"/>
<ellipse cx="164.3" cy="235.3" rx="2.3" ry="0.7" fill="#e6dcef" opacity="0.85" transform="rotate(35 164.3 235.3)"/>
<ellipse cx="169.5" cy="234.5" rx="2.4" ry="0.7" fill="#e6dcef" opacity="0.85" transform="rotate(35 169.5 234.5)"/>
<ellipse cx="176.4" cy="234.1" rx="2.5" ry="0.8" fill="#e6dcef" opacity="0.85" transform="rotate(35 176.4 234.1)"/>
<ellipse cx="154.7" cy="239.8" rx="2.1" ry="0.8" fill="#e6dcef" opacity="0.85" transform="rotate(35 154.7 239.8)"/>
<ellipse cx="162.4" cy="239.8" rx="1.9" ry="0.9" fill="#e6dcef" opacity="0.85" transform="rotate(35 162.4 239.8)"/>
<ellipse cx="167.7" cy="240.3" rx="2.0" ry="0.9" fill="#e6dcef" opacity="0.85" transform="rotate(35 167.7 240.3)"/>
<ellipse cx="173.4" cy="241.2" rx="2.1" ry="0.8" fill="#e6dcef" opacity="0.85" transform="rotate(35 173.4 241.2)"/>
<ellipse cx="154.1" cy="248.5" rx="2.1" ry="0.7" fill="#e6dcef" opacity="0.85" transform="rotate(35 154.1 248.5)"/>
<ellipse cx="159.7" cy="246.1" rx="1.8" ry="0.9" fill="#e6dcef" opacity="0.85" transform="rotate(35 159.7 246.1)"/>
<ellipse cx="164.8" cy="248.0" rx="2.1" ry="0.9" fill="#e6dcef" opacity="0.85" transform="rotate(35 164.8 248.0)"/>
<ellipse cx="170.9" cy="246.0" rx="1.8" ry="0.8" fill="#e6dcef" opacity="0.85" transform="rotate(35 170.9 246.0)"/>
<ellipse cx="177.4" cy="248.2" rx="1.8" ry="0.8" fill="#e6dcef" opacity="0.85" transform="rotate(35 177.4 248.2)"/>
<ellipse cx="155.6" cy="253.0" rx="1.9" ry="0.7" fill="#e6dcef" opacity="0.85" transform="rotate(35 155.6 253.0)"/>
<ellipse cx="162.1" cy="254.3" rx="1.9" ry="0.8" fill="#e6dcef" opacity="0.85" transform="rotate(35 162.1 254.3)"/>
<ellipse cx="168.9" cy="254.4" rx="1.9" ry="0.7" fill="#e6dcef" opacity="0.85" transform="rotate(35 168.9 254.4)"/>
<ellipse cx="175.3" cy="254.4" rx="2.2" ry="0.7" fill="#e6dcef" opacity="0.85" transform="rotate(35 175.3 254.4)"/>
<ellipse cx="154.3" cy="258.7" rx="2.6" ry="0.8" fill="#e6dcef" opacity="0.85" transform="rotate(35 154.3 258.7)"/>
<ellipse cx="160.0" cy="258.0" rx="2.5" ry="0.7" fill="#e6dcef" opacity="0.85" transform="rotate(35 160.0 258.0)"/>
<ellipse cx="164.7" cy="260.0" rx="2.5" ry="0.7" fill="#e6dcef" opacity="0.85" transform="rotate(35 164.7 260.0)"/>
<ellipse cx="170.2" cy="258.7" rx="2.2" ry="0.8" fill="#e6dcef" opacity="0.85" transform="rotate(35 170.2 258.7)"/>
<ellipse cx="175.9" cy="258.2" rx="2.4" ry="0.9" fill="#e6dcef" opacity="0.85" transform="rotate(35 175.9 258.2)"/>
<ellipse cx="154.6" cy="265.2" rx="2.4" ry="0.7" fill="#e6dcef" opacity="0.85" transform="rotate(35 154.6 265.2)"/>
<ellipse cx="163.0" cy="263.9" rx="2.3" ry="0.8" fill="#e6dcef" opacity="0.85" transform="rotate(35 163.0 263.9)"/>
<ellipse cx="168.4" cy="264.4" rx="2.1" ry="0.8" fill="#e6dcef" opacity="0.85" transform="rotate(35 168.4 264.4)"/>
<ellipse cx="173.8" cy="265.5" rx="2.2" ry="0.8" fill="#e6dcef" opacity="0.85" transform="rotate(35 173.8 265.5)"/>
<ellipse cx="151.6" cy="271.4" rx="2.2" ry="0.7" fill="#e6dcef" opacity="0.85" transform="rotate(35 151.6 271.4)"/>
<ellipse cx="159.8" cy="271.8" rx="2.2" ry="0.7" fill="#e6dcef" opacity="0.85" transform="rotate(35 159.8 271.8)"/>
<ellipse cx="164.9" cy="269.8" rx="1.9" ry="0.8" fill="#e6dcef" opacity="0.85" transform="rotate(35 164.9 269.8)"/>
<ellipse cx="169.8" cy="270.8" rx="2.2" ry="0.7" fill="#e6dcef" opacity="0.85" transform="rotate(35 169.8 270.8)"/>
<ellipse cx="177.4" cy="269.7" rx="2.4" ry="0.9" fill="#e6dcef" opacity="0.85" transform="rotate(35 177.4 269.7)"/></g>
<g><ellipse cx="153.0" cy="187.7" rx="3.0" ry="2.3" fill="#a47cbe" opacity="0.35"/>
<ellipse cx="160.4" cy="187.9" rx="3.4" ry="2.9" fill="#a47cbe" opacity="0.35"/>
<ellipse cx="165.7" cy="189.9" rx="2.6" ry="2.9" fill="#a47cbe" opacity="0.35"/>
<ellipse cx="171.0" cy="190.4" rx="3.5" ry="2.1" fill="#a47cbe" opacity="0.35"/>
<ellipse cx="177.9" cy="190.3" rx="2.5" ry="2.3" fill="#a47cbe" opacity="0.35"/>
<ellipse cx="156.8" cy="194.0" rx="3.5" ry="2.2" fill="#a47cbe" opacity="0.35"/>
<ellipse cx="162.9" cy="193.9" rx="3.0" ry="2.8" fill="#a47cbe" opacity="0.35"/>
<ellipse cx="167.1" cy="194.3" rx="3.0" ry="2.2" fill="#a47cbe" opacity="0.35"/>
<ellipse cx="172.6" cy="194.0" rx="2.6" ry="2.8" fill="#a47cbe" opacity="0.35"/>
<ellipse cx="153.5" cy="202.2" rx="2.6" ry="2.7" fill="#a47cbe" opacity="0.35"/>
<ellipse cx="157.8" cy="201.1" rx="3.2" ry="2.3" fill="#a47cbe" opacity="0.35"/>
<ellipse cx="166.1" cy="201.2" rx="3.1" ry="2.8" fill="#a47cbe" opacity="0.35"/>
<ellipse cx="169.8" cy="202.5" rx="3.2" ry="2.3" fill="#a47cbe" opacity="0.35"/>
<ellipse cx="177.9" cy="200.3" rx="3.6" ry="2.5" fill="#a47cbe" opacity="0.35"/>
<ellipse cx="155.6" cy="207.8" rx="2.9" ry="2.1" fill="#a47cbe" opacity="0.35"/>
<ellipse cx="162.7" cy="205.6" rx="3.4" ry="2.2" fill="#a47cbe" opacity="0.35"/>
<ellipse cx="168.4" cy="208.5" rx="3.1" ry="2.6" fill="#a47cbe" opacity="0.35"/>
<ellipse cx="173.4" cy="205.5" rx="2.4" ry="2.1" fill="#a47cbe" opacity="0.35"/>
<ellipse cx="153.3" cy="212.8" rx="3.0" ry="2.8" fill="#a47cbe" opacity="0.35"/>
<ellipse cx="157.9" cy="212.2" rx="3.2" ry="1.9" fill="#a47cbe" opacity="0.35"/>
<ellipse cx="163.5" cy="212.6" rx="2.5" ry="2.3" fill="#a47cbe" opacity="0.35"/>
<ellipse cx="170.2" cy="213.3" rx="3.1" ry="2.1" fill="#a47cbe" opacity="0.35"/>
<ellipse cx="177.4" cy="212.9" rx="2.6" ry="2.8" fill="#a47cbe" opacity="0.35"/>
<ellipse cx="155.2" cy="217.9" rx="2.5" ry="2.5" fill="#a47cbe" opacity="0.35"/>
<ellipse cx="163.1" cy="219.8" rx="2.9" ry="2.2" fill="#a47cbe" opacity="0.35"/>
<ellipse cx="166.5" cy="219.4" rx="3.1" ry="2.3" fill="#a47cbe" opacity="0.35"/>
<ellipse cx="174.4" cy="218.8" rx="3.5" ry="2.6" fill="#a47cbe" opacity="0.35"/>
<ellipse cx="152.2" cy="226.2" rx="2.5" ry="2.4" fill="#a47cbe" opacity="0.35"/>
<ellipse cx="158.7" cy="224.2" rx="2.5" ry="2.7" fill="#a47cbe" opacity="0.35"/>
<ellipse cx="163.5" cy="225.2" rx="3.5" ry="2.1" fill="#a47cbe" opacity="0.35"/>
<ellipse cx="170.1" cy="225.3" rx="3.0" ry="2.5" fill="#a47cbe" opacity="0.35"/>
<ellipse cx="177.9" cy="224.0" rx="2.8" ry="2.2" fill="#a47cbe" opacity="0.35"/>
<ellipse cx="154.6" cy="232.2" rx="3.3" ry="2.6" fill="#a47cbe" opacity="0.35"/>
<ellipse cx="160.5" cy="232.0" rx="3.3" ry="2.4" fill="#a47cbe" opacity="0.35"/>
<ellipse cx="168.7" cy="230.9" rx="2.7" ry="2.0" fill="#a47cbe" opacity="0.35"/>
<ellipse cx="173.2" cy="229.6" rx="2.8" ry="2.6" fill="#a47cbe" opacity="0.35"/>
<ellipse cx="153.6" cy="238.0" rx="3.3" ry="2.2" fill="#a47cbe" opacity="0.35"/>
<ellipse cx="159.2" cy="236.8" rx="3.3" ry="2.4" fill="#a47cbe" opacity="0.35"/>
<ellipse cx="164.3" cy="237.4" rx="3.6" ry="2.1" fill="#a47cbe" opacity="0.35"/>
<ellipse cx="172.1" cy="235.5" rx="2.7" ry="2.1" fill="#a47cbe" opacity="0.35"/>
<ellipse cx="177.7" cy="238.3" rx="3.3" ry="2.2" fill="#a47cbe" opacity="0.35"/>
<ellipse cx="157.1" cy="242.5" rx="2.7" ry="2.8" fill="#a47cbe" opacity="0.35"/>
<ellipse cx="162.4" cy="243.6" rx="3.2" ry="2.9" fill="#a47cbe" opacity="0.35"/>
<ellipse cx="167.9" cy="244.0" rx="3.2" ry="2.7" fill="#a47cbe" opacity="0.35"/>
<ellipse cx="173.8" cy="243.7" rx="3.1" ry="2.2" fill="#a47cbe" opacity="0.35"/>
<ellipse cx="152.1" cy="249.4" rx="2.5" ry="2.8" fill="#a47cbe" opacity="0.35"/>
<ellipse cx="157.9" cy="247.6" rx="2.5" ry="2.8" fill="#a47cbe" opacity="0.35"/>
<ellipse cx="164.5" cy="247.9" rx="2.4" ry="2.0" fill="#a47cbe" opacity="0.35"/>
<ellipse cx="171.6" cy="249.4" rx="3.2" ry="2.6" fill="#a47cbe" opacity="0.35"/>
<ellipse cx="175.7" cy="249.3" rx="2.8" ry="2.7" fill="#a47cbe" opacity="0.35"/>
<ellipse cx="157.0" cy="256.2" rx="2.5" ry="2.8" fill="#a47cbe" opacity="0.35"/>
<ellipse cx="163.2" cy="256.3" rx="2.5" ry="2.1" fill="#a47cbe" opacity="0.35"/>
<ellipse cx="166.8" cy="253.6" rx="3.4" ry="2.7" fill="#a47cbe" opacity="0.35"/>
<ellipse cx="174.4" cy="256.0" rx="3.2" ry="2.2" fill="#a47cbe" opacity="0.35"/>
<ellipse cx="151.8" cy="259.8" rx="3.3" ry="2.1" fill="#a47cbe" opacity="0.35"/>
<ellipse cx="158.5" cy="260.8" rx="2.4" ry="2.2" fill="#a47cbe" opacity="0.35"/>
<ellipse cx="164.3" cy="261.6" rx="2.8" ry="2.2" fill="#a47cbe" opacity="0.35"/>
<ellipse cx="172.4" cy="261.0" rx="3.4" ry="2.5" fill="#a47cbe" opacity="0.35"/>
<ellipse cx="175.6" cy="260.7" rx="2.9" ry="2.7" fill="#a47cbe" opacity="0.35"/>
<ellipse cx="155.5" cy="267.6" rx="3.0" ry="2.1" fill="#a47cbe" opacity="0.35"/>
<ellipse cx="163.1" cy="265.8" rx="3.4" ry="2.1" fill="#a47cbe" opacity="0.35"/>
<ellipse cx="166.5" cy="266.1" rx="3.3" ry="2.9" fill="#a47cbe" opacity="0.35"/>
<ellipse cx="172.5" cy="267.0" rx="3.0" ry="2.7" fill="#a47cbe" opacity="0.35"/></g>
<ellipse cx="184.2" cy="190.0" rx="3.0" ry="1.1" fill="#9a6cb8" opacity="0.55" transform="rotate(-50 184.2 190.0)"/>
<ellipse cx="189.4" cy="191.1" rx="2.9" ry="0.9" fill="#9a6cb8" opacity="0.55" transform="rotate(-50 189.4 191.1)"/>
<ellipse cx="195.5" cy="190.0" rx="2.7" ry="1.1" fill="#9a6cb8" opacity="0.55" transform="rotate(-50 195.5 190.0)"/>
<ellipse cx="199.0" cy="190.7" rx="3.5" ry="1.1" fill="#9a6cb8" opacity="0.55" transform="rotate(-50 199.0 190.7)"/>
<ellipse cx="205.3" cy="189.7" rx="3.1" ry="1.0" fill="#9a6cb8" opacity="0.55" transform="rotate(-50 205.3 189.7)"/>
<ellipse cx="210.9" cy="189.0" rx="3.7" ry="0.8" fill="#9a6cb8" opacity="0.55" transform="rotate(-50 210.9 189.0)"/>
<ellipse cx="214.3" cy="189.4" rx="3.7" ry="1.0" fill="#9a6cb8" opacity="0.55" transform="rotate(-50 214.3 189.4)"/>
<ellipse cx="219.7" cy="190.9" rx="2.9" ry="1.0" fill="#9a6cb8" opacity="0.55" transform="rotate(-50 219.7 190.9)"/>
<ellipse cx="225.1" cy="190.6" rx="3.5" ry="1.1" fill="#9a6cb8" opacity="0.55" transform="rotate(-50 225.1 190.6)"/>
<ellipse cx="229.6" cy="189.6" rx="2.8" ry="1.1" fill="#9a6cb8" opacity="0.55" transform="rotate(-50 229.6 189.6)"/>
<ellipse cx="235.4" cy="190.6" rx="2.8" ry="1.0" fill="#9a6cb8" opacity="0.55" transform="rotate(-50 235.4 190.6)"/>
<ellipse cx="240.7" cy="190.2" rx="2.7" ry="1.0" fill="#9a6cb8" opacity="0.55" transform="rotate(-50 240.7 190.2)"/>
<ellipse cx="245.9" cy="189.4" rx="2.8" ry="0.9" fill="#9a6cb8" opacity="0.55" transform="rotate(-50 245.9 189.4)"/>
<ellipse cx="250.5" cy="190.8" rx="2.8" ry="0.9" fill="#9a6cb8" opacity="0.55" transform="rotate(-50 250.5 190.8)"/>
<ellipse cx="254.4" cy="189.6" rx="3.2" ry="0.9" fill="#9a6cb8" opacity="0.55" transform="rotate(-50 254.4 189.6)"/>
<ellipse cx="259.6" cy="189.3" rx="3.8" ry="1.1" fill="#9a6cb8" opacity="0.55" transform="rotate(-50 259.6 189.3)"/>
<ellipse cx="186.5" cy="196.1" rx="2.7" ry="1.0" fill="#9a6cb8" opacity="0.55" transform="rotate(-50 186.5 196.1)"/>
<ellipse cx="193.7" cy="195.7" rx="3.5" ry="1.0" fill="#9a6cb8" opacity="0.55" transform="rotate(-50 193.7 195.7)"/>
<ellipse cx="196.8" cy="195.3" rx="2.7" ry="0.9" fill="#9a6cb8" opacity="0.55" transform="rotate(-50 196.8 195.3)"/>
<ellipse cx="202.2" cy="193.9" rx="3.1" ry="1.1" fill="#9a6cb8" opacity="0.55" transform="rotate(-50 202.2 193.9)"/>
<ellipse cx="208.0" cy="195.0" rx="3.4" ry="1.0" fill="#9a6cb8" opacity="0.55" transform="rotate(-50 208.0 195.0)"/>
<ellipse cx="211.6" cy="195.2" rx="3.1" ry="1.1" fill="#9a6cb8" opacity="0.55" transform="rotate(-50 211.6 195.2)"/>
<ellipse cx="218.5" cy="194.8" rx="3.3" ry="1.1" fill="#9a6cb8" opacity="0.55" transform="rotate(-50 218.5 194.8)"/>
<ellipse cx="222.3" cy="194.3" rx="3.5" ry="1.2" fill="#9a6cb8" opacity="0.55" transform="rotate(-50 222.3 194.3)"/>
<ellipse cx="228.2" cy="195.5" rx="3.7" ry="1.1" fill="#9a6cb8" opacity="0.55" transform="rotate(-50 228.2 195.5)"/>
<ellipse cx="232.8" cy="194.9" rx="3.0" ry="1.1" fill="#9a6cb8" opacity="0.55" transform="rotate(-50 232.8 194.9)"/>
<ellipse cx="236.5" cy="194.8" rx="3.6" ry="1.1" fill="#9a6cb8" opacity="0.55" transform="rotate(-50 236.5 194.8)"/>
<ellipse cx="242.8" cy="194.4" rx="3.1" ry="1.0" fill="#9a6cb8" opacity="0.55" transform="rotate(-50 242.8 194.4)"/>
<ellipse cx="247.8" cy="194.8" rx="3.4" ry="1.2" fill="#9a6cb8" opacity="0.55" transform="rotate(-50 247.8 194.8)"/>
<ellipse cx="251.7" cy="195.4" rx="3.6" ry="1.0" fill="#9a6cb8" opacity="0.55" transform="rotate(-50 251.7 195.4)"/>
<ellipse cx="257.5" cy="196.1" rx="2.6" ry="1.0" fill="#9a6cb8" opacity="0.55" transform="rotate(-50 257.5 196.1)"/>
<ellipse cx="184.2" cy="200.7" rx="3.8" ry="1.0" fill="#9a6cb8" opacity="0.55" transform="rotate(-50 184.2 200.7)"/>
<ellipse cx="189.0" cy="200.2" rx="3.3" ry="1.1" fill="#9a6cb8" opacity="0.55" transform="rotate(-50 189.0 200.2)"/>
<ellipse cx="195.0" cy="200.3" rx="3.6" ry="1.0" fill="#9a6cb8" opacity="0.55" transform="rotate(-50 195.0 200.3)"/>
<ellipse cx="199.8" cy="201.1" rx="2.8" ry="1.1" fill="#9a6cb8" opacity="0.55" transform="rotate(-50 199.8 201.1)"/>
<ellipse cx="204.7" cy="200.6" rx="2.7" ry="1.2" fill="#9a6cb8" opacity="0.55" transform="rotate(-50 204.7 200.6)"/>
<ellipse cx="209.7" cy="198.9" rx="2.9" ry="1.0" fill="#9a6cb8" opacity="0.55" transform="rotate(-50 209.7 198.9)"/>
<ellipse cx="213.8" cy="199.8" rx="3.1" ry="1.1" fill="#9a6cb8" opacity="0.55" transform="rotate(-50 213.8 199.8)"/>
<ellipse cx="219.6" cy="199.4" rx="2.8" ry="1.1" fill="#9a6cb8" opacity="0.55" transform="rotate(-50 219.6 199.4)"/>
<ellipse cx="226.1" cy="200.1" rx="2.8" ry="1.1" fill="#9a6cb8" opacity="0.55" transform="rotate(-50 226.1 200.1)"/>
<ellipse cx="229.7" cy="199.3" rx="2.7" ry="1.1" fill="#9a6cb8" opacity="0.55" transform="rotate(-50 229.7 199.3)"/>
<ellipse cx="235.7" cy="200.3" rx="3.2" ry="1.0" fill="#9a6cb8" opacity="0.55" transform="rotate(-50 235.7 200.3)"/>
<ellipse cx="239.3" cy="201.1" rx="3.0" ry="1.1" fill="#9a6cb8" opacity="0.55" transform="rotate(-50 239.3 201.1)"/>
<ellipse cx="245.8" cy="200.8" rx="3.2" ry="0.9" fill="#9a6cb8" opacity="0.55" transform="rotate(-50 245.8 200.8)"/>
<ellipse cx="250.1" cy="199.1" rx="3.6" ry="0.9" fill="#9a6cb8" opacity="0.55" transform="rotate(-50 250.1 199.1)"/>
<ellipse cx="255.8" cy="199.4" rx="3.0" ry="0.9" fill="#9a6cb8" opacity="0.55" transform="rotate(-50 255.8 199.4)"/>
<ellipse cx="259.8" cy="199.2" rx="2.6" ry="1.1" fill="#9a6cb8" opacity="0.55" transform="rotate(-50 259.8 199.2)"/>
<ellipse cx="187.0" cy="204.4" rx="2.9" ry="1.0" fill="#9a6cb8" opacity="0.55" transform="rotate(-50 187.0 204.4)"/>
<ellipse cx="192.3" cy="205.3" rx="3.4" ry="0.9" fill="#9a6cb8" opacity="0.55" transform="rotate(-50 192.3 205.3)"/>
<ellipse cx="198.5" cy="205.9" rx="2.6" ry="1.1" fill="#9a6cb8" opacity="0.55" transform="rotate(-50 198.5 205.9)"/>
<ellipse cx="203.5" cy="205.7" rx="2.7" ry="1.1" fill="#9a6cb8" opacity="0.55" transform="rotate(-50 203.5 205.7)"/>
<ellipse cx="207.8" cy="203.8" rx="2.6" ry="1.2" fill="#9a6cb8" opacity="0.55" transform="rotate(-50 207.8 203.8)"/>
<ellipse cx="212.9" cy="204.4" rx="2.7" ry="0.9" fill="#9a6cb8" opacity="0.55" transform="rotate(-50 212.9 204.4)"/>
<ellipse cx="216.9" cy="205.7" rx="3.0" ry="0.9" fill="#9a6cb8" opacity="0.55" transform="rotate(-50 216.9 205.7)"/>
<ellipse cx="223.5" cy="205.7" rx="2.8" ry="1.2" fill="#9a6cb8" opacity="0.55" transform="rotate(-50 223.5 205.7)"/>
<ellipse cx="227.8" cy="205.7" rx="3.4" ry="1.2" fill="#9a6cb8" opacity="0.55" transform="rotate(-50 227.8 205.7)"/>
<ellipse cx="233.2" cy="205.8" rx="2.8" ry="1.1" fill="#9a6cb8" opacity="0.55" transform="rotate(-50 233.2 205.8)"/>
<ellipse cx="237.6" cy="205.6" rx="3.1" ry="1.2" fill="#9a6cb8" opacity="0.55" transform="rotate(-50 237.6 205.6)"/>
<ellipse cx="242.6" cy="204.4" rx="2.9" ry="0.9" fill="#9a6cb8" opacity="0.55" transform="rotate(-50 242.6 204.4)"/>
<ellipse cx="247.5" cy="203.9" rx="3.2" ry="0.9" fill="#9a6cb8" opacity="0.55" transform="rotate(-50 247.5 203.9)"/>
<ellipse cx="252.5" cy="205.0" rx="3.3" ry="1.1" fill="#9a6cb8" opacity="0.55" transform="rotate(-50 252.5 205.0)"/>
<ellipse cx="256.3" cy="205.8" rx="3.2" ry="1.0" fill="#9a6cb8" opacity="0.55" transform="rotate(-50 256.3 205.8)"/>
<ellipse cx="185.4" cy="210.8" rx="3.0" ry="1.0" fill="#9a6cb8" opacity="0.55" transform="rotate(-50 185.4 210.8)"/>
<ellipse cx="191.1" cy="209.0" rx="3.4" ry="1.1" fill="#9a6cb8" opacity="0.55" transform="rotate(-50 191.1 209.0)"/>
<ellipse cx="193.9" cy="210.3" rx="3.4" ry="1.2" fill="#9a6cb8" opacity="0.55" transform="rotate(-50 193.9 210.3)"/>
<ellipse cx="199.6" cy="211.2" rx="3.2" ry="1.0" fill="#9a6cb8" opacity="0.55" transform="rotate(-50 199.6 211.2)"/>
<ellipse cx="206.0" cy="208.9" rx="3.5" ry="1.1" fill="#9a6cb8" opacity="0.55" transform="rotate(-50 206.0 208.9)"/>
<ellipse cx="209.6" cy="210.9" rx="3.0" ry="1.0" fill="#9a6cb8" opacity="0.55" transform="rotate(-50 209.6 210.9)"/>
<ellipse cx="215.1" cy="210.6" rx="2.8" ry="1.0" fill="#9a6cb8" opacity="0.55" transform="rotate(-50 215.1 210.6)"/>
<ellipse cx="219.8" cy="210.1" rx="3.6" ry="0.9" fill="#9a6cb8" opacity="0.55" transform="rotate(-50 219.8 210.1)"/>
<ellipse cx="225.8" cy="209.8" rx="3.2" ry="0.9" fill="#9a6cb8" opacity="0.55" transform="rotate(-50 225.8 209.8)"/>
<ellipse cx="230.0" cy="211.1" rx="3.4" ry="1.1" fill="#9a6cb8" opacity="0.55" transform="rotate(-50 230.0 211.1)"/>
<ellipse cx="234.6" cy="209.6" rx="2.9" ry="1.0" fill="#9a6cb8" opacity="0.55" transform="rotate(-50 234.6 209.6)"/>
<ellipse cx="240.3" cy="210.7" rx="2.6" ry="1.1" fill="#9a6cb8" opacity="0.55" transform="rotate(-50 240.3 210.7)"/>
<ellipse cx="245.9" cy="210.1" rx="2.6" ry="0.9" fill="#9a6cb8" opacity="0.55" transform="rotate(-50 245.9 210.1)"/>
<ellipse cx="248.8" cy="209.3" rx="3.7" ry="1.0" fill="#9a6cb8" opacity="0.55" transform="rotate(-50 248.8 209.3)"/>
<ellipse cx="255.4" cy="210.7" rx="3.7" ry="1.0" fill="#9a6cb8" opacity="0.55" transform="rotate(-50 255.4 210.7)"/>
<ellipse cx="260.3" cy="210.3" rx="3.5" ry="1.0" fill="#9a6cb8" opacity="0.55" transform="rotate(-50 260.3 210.3)"/>
<ellipse cx="187.9" cy="214.3" rx="3.4" ry="1.0" fill="#9a6cb8" opacity="0.55" transform="rotate(-50 187.9 214.3)"/>
<ellipse cx="193.1" cy="214.0" rx="2.8" ry="0.8" fill="#9a6cb8" opacity="0.55" transform="rotate(-50 193.1 214.0)"/>
<ellipse cx="198.2" cy="216.0" rx="3.4" ry="0.9" fill="#9a6cb8" opacity="0.55" transform="rotate(-50 198.2 216.0)"/>
<ellipse cx="203.3" cy="215.7" rx="3.3" ry="0.9" fill="#9a6cb8" opacity="0.55" transform="rotate(-50 203.3 215.7)"/>
<ellipse cx="207.0" cy="214.8" rx="3.0" ry="1.0" fill="#9a6cb8" opacity="0.55" transform="rotate(-50 207.0 214.8)"/>
<ellipse cx="212.8" cy="216.0" rx="2.6" ry="1.0" fill="#9a6cb8" opacity="0.55" transform="rotate(-50 212.8 216.0)"/>
<ellipse cx="216.4" cy="214.1" rx="3.6" ry="1.0" fill="#9a6cb8" opacity="0.55" transform="rotate(-50 216.4 214.1)"/>
<ellipse cx="223.5" cy="214.9" rx="2.6" ry="1.0" fill="#9a6cb8" opacity="0.55" transform="rotate(-50 223.5 214.9)"/>
<ellipse cx="227.7" cy="216.1" rx="3.8" ry="1.0" fill="#9a6cb8" opacity="0.55" transform="rotate(-50 227.7 216.1)"/>
<ellipse cx="232.3" cy="214.0" rx="3.4" ry="0.9" fill="#9a6cb8" opacity="0.55" transform="rotate(-50 232.3 214.0)"/>
<ellipse cx="236.7" cy="213.8" rx="2.6" ry="1.1" fill="#9a6cb8" opacity="0.55" transform="rotate(-50 236.7 213.8)"/>
<ellipse cx="241.6" cy="216.1" rx="2.7" ry="1.1" fill="#9a6cb8" opacity="0.55" transform="rotate(-50 241.6 216.1)"/>
<ellipse cx="246.6" cy="213.8" rx="3.5" ry="0.9" fill="#9a6cb8" opacity="0.55" transform="rotate(-50 246.6 213.8)"/>
<ellipse cx="253.1" cy="214.2" rx="2.6" ry="1.1" fill="#9a6cb8" opacity="0.55" transform="rotate(-50 253.1 214.2)"/>
<ellipse cx="258.0" cy="215.9" rx="3.5" ry="0.8" fill="#9a6cb8" opacity="0.55" transform="rotate(-50 258.0 215.9)"/>
<ellipse cx="185.3" cy="220.5" rx="3.1" ry="1.2" fill="#9a6cb8" opacity="0.55" transform="rotate(-50 185.3 220.5)"/>
<ellipse cx="189.4" cy="221.1" rx="3.5" ry="0.8" fill="#9a6cb8" opacity="0.55" transform="rotate(-50 189.4 221.1)"/>
<ellipse cx="193.8" cy="220.4" rx="3.6" ry="0.8" fill="#9a6cb8" opacity="0.55" transform="rotate(-50 193.8 220.4)"/>
<ellipse cx="199.5" cy="220.6" rx="2.8" ry="1.1" fill="#9a6cb8" opacity="0.55" transform="rotate(-50 199.5 220.6)"/>
<ellipse cx="205.0" cy="218.9" rx="3.0" ry="1.0" fill="#9a6cb8" opacity="0.55" transform="rotate(-50 205.0 218.9)"/>
<ellipse cx="209.9" cy="220.4" rx="2.7" ry="1.1" fill="#9a6cb8" opacity="0.55" transform="rotate(-50 209.9 220.4)"/>
<ellipse cx="214.7" cy="220.3" rx="3.4" ry="1.0" fill="#9a6cb8" opacity="0.55" transform="rotate(-50 214.7 220.3)"/>
<ellipse cx="219.7" cy="220.7" rx="3.8" ry="1.1" fill="#9a6cb8" opacity="0.55" transform="rotate(-50 219.7 220.7)"/>
<ellipse cx="225.2" cy="219.5" rx="2.6" ry="1.2" fill="#9a6cb8" opacity="0.55" transform="rotate(-50 225.2 219.5)"/>
<ellipse cx="230.5" cy="220.8" rx="3.0" ry="1.0" fill="#9a6cb8" opacity="0.55" transform="rotate(-50 230.5 220.8)"/>
<ellipse cx="236.1" cy="220.8" rx="3.3" ry="0.9" fill="#9a6cb8" opacity="0.55" transform="rotate(-50 236.1 220.8)"/>
<ellipse cx="239.8" cy="220.9" rx="3.0" ry="1.1" fill="#9a6cb8" opacity="0.55" transform="rotate(-50 239.8 220.9)"/>
<ellipse cx="245.2" cy="221.0" rx="3.6" ry="0.9" fill="#9a6cb8" opacity="0.55" transform="rotate(-50 245.2 221.0)"/>
<ellipse cx="248.8" cy="219.4" rx="3.1" ry="1.0" fill="#9a6cb8" opacity="0.55" transform="rotate(-50 248.8 219.4)"/>
<ellipse cx="255.8" cy="220.9" rx="2.6" ry="1.1" fill="#9a6cb8" opacity="0.55" transform="rotate(-50 255.8 220.9)"/>
<ellipse cx="260.7" cy="220.9" rx="3.3" ry="0.9" fill="#9a6cb8" opacity="0.55" transform="rotate(-50 260.7 220.9)"/>
<ellipse cx="188.3" cy="225.7" rx="3.4" ry="1.2" fill="#9a6cb8" opacity="0.55" transform="rotate(-50 188.3 225.7)"/>
<ellipse cx="192.1" cy="224.0" rx="3.3" ry="1.1" fill="#9a6cb8" opacity="0.55" transform="rotate(-50 192.1 224.0)"/>
<ellipse cx="196.8" cy="225.6" rx="3.8" ry="0.9" fill="#9a6cb8" opacity="0.55" transform="rotate(-50 196.8 225.6)"/>
<ellipse cx="202.8" cy="225.4" rx="3.2" ry="0.9" fill="#9a6cb8" opacity="0.55" transform="rotate(-50 202.8 225.4)"/>
<ellipse cx="206.9" cy="225.6" rx="3.6" ry="1.0" fill="#9a6cb8" opacity="0.55" transform="rotate(-50 206.9 225.6)"/>
<ellipse cx="211.5" cy="225.7" rx="3.5" ry="0.9" fill="#9a6cb8" opacity="0.55" transform="rotate(-50 211.5 225.7)"/>
<ellipse cx="217.7" cy="226.0" rx="3.7" ry="1.0" fill="#9a6cb8" opacity="0.55" transform="rotate(-50 217.7 226.0)"/>
<ellipse cx="222.4" cy="225.2" rx="2.8" ry="0.9" fill="#9a6cb8" opacity="0.55" transform="rotate(-50 222.4 225.2)"/>
<ellipse cx="226.7" cy="225.5" rx="3.0" ry="1.0" fill="#9a6cb8" opacity="0.55" transform="rotate(-50 226.7 225.5)"/>
<ellipse cx="232.3" cy="225.0" rx="2.8" ry="0.8" fill="#9a6cb8" opacity="0.55" transform="rotate(-50 232.3 225.0)"/>
<ellipse cx="238.7" cy="224.7" rx="2.7" ry="1.1" fill="#9a6cb8" opacity="0.55" transform="rotate(-50 238.7 224.7)"/>
<ellipse cx="243.2" cy="224.2" rx="3.3" ry="0.9" fill="#9a6cb8" opacity="0.55" transform="rotate(-50 243.2 224.2)"/>
<ellipse cx="247.5" cy="223.8" rx="2.6" ry="1.2" fill="#9a6cb8" opacity="0.55" transform="rotate(-50 247.5 223.8)"/>
<ellipse cx="253.4" cy="225.0" rx="3.3" ry="0.9" fill="#9a6cb8" opacity="0.55" transform="rotate(-50 253.4 225.0)"/>
<ellipse cx="258.2" cy="224.8" rx="3.8" ry="1.1" fill="#9a6cb8" opacity="0.55" transform="rotate(-50 258.2 224.8)"/>
<ellipse cx="185.8" cy="231.1" rx="2.9" ry="0.8" fill="#9a6cb8" opacity="0.55" transform="rotate(-50 185.8 231.1)"/>
<ellipse cx="189.3" cy="229.2" rx="2.7" ry="0.8" fill="#9a6cb8" opacity="0.55" transform="rotate(-50 189.3 229.2)"/>
<ellipse cx="195.1" cy="230.9" rx="3.1" ry="1.2" fill="#9a6cb8" opacity="0.55" transform="rotate(-50 195.1 230.9)"/>
<ellipse cx="201.0" cy="229.0" rx="3.3" ry="1.0" fill="#9a6cb8" opacity="0.55" transform="rotate(-50 201.0 229.0)"/>
<ellipse cx="204.1" cy="231.1" rx="2.9" ry="1.0" fill="#9a6cb8" opacity="0.55" transform="rotate(-50 204.1 231.1)"/>
<ellipse cx="210.3" cy="231.1" rx="3.4" ry="1.0" fill="#9a6cb8" opacity="0.55" transform="rotate(-50 210.3 231.1)"/>
<ellipse cx="214.9" cy="229.2" rx="3.8" ry="1.2" fill="#9a6cb8" opacity="0.55" transform="rotate(-50 214.9 229.2)"/>
<ellipse cx="219.3" cy="228.9" rx="2.9" ry="0.9" fill="#9a6cb8" opacity="0.55" transform="rotate(-50 219.3 228.9)"/>
<ellipse cx="226.0" cy="231.0" rx="3.6" ry="0.8" fill="#9a6cb8" opacity="0.55" transform="rotate(-50 226.0 231.0)"/>
<ellipse cx="230.7" cy="230.5" rx="3.4" ry="1.2" fill="#9a6cb8" opacity="0.55" transform="rotate(-50 230.7 230.5)"/>
<ellipse cx="233.9" cy="229.1" rx="3.5" ry="1.2" fill="#9a6cb8" opacity="0.55" transform="rotate(-50 233.9 229.1)"/>
<ellipse cx="240.4" cy="229.5" rx="3.3" ry="1.1" fill="#9a6cb8" opacity="0.55" transform="rotate(-50 240.4 229.5)"/>
<ellipse cx="244.1" cy="229.6" rx="2.9" ry="0.8" fill="#9a6cb8" opacity="0.55" transform="rotate(-50 244.1 229.6)"/>
<ellipse cx="250.0" cy="229.2" rx="2.9" ry="0.9" fill="#9a6cb8" opacity="0.55" transform="rotate(-50 250.0 229.2)"/>
<ellipse cx="255.4" cy="228.8" rx="3.5" ry="0.9" fill="#9a6cb8" opacity="0.55" transform="rotate(-50 255.4 228.8)"/>
<ellipse cx="258.9" cy="231.0" rx="2.8" ry="1.2" fill="#9a6cb8" opacity="0.55" transform="rotate(-50 258.9 231.0)"/>
<ellipse cx="188.4" cy="235.9" rx="2.7" ry="1.0" fill="#9a6cb8" opacity="0.55" transform="rotate(-50 188.4 235.9)"/>
<ellipse cx="191.5" cy="236.0" rx="3.6" ry="1.1" fill="#9a6cb8" opacity="0.55" transform="rotate(-50 191.5 236.0)"/>
<ellipse cx="197.4" cy="234.6" rx="3.6" ry="1.0" fill="#9a6cb8" opacity="0.55" transform="rotate(-50 197.4 234.6)"/>
<ellipse cx="202.8" cy="234.1" rx="2.8" ry="0.8" fill="#9a6cb8" opacity="0.55" transform="rotate(-50 202.8 234.1)"/>
<ellipse cx="208.0" cy="235.1" rx="2.7" ry="1.1" fill="#9a6cb8" opacity="0.55" transform="rotate(-50 208.0 235.1)"/>
<ellipse cx="211.9" cy="234.8" rx="2.8" ry="0.9" fill="#9a6cb8" opacity="0.55" transform="rotate(-50 211.9 234.8)"/>
<ellipse cx="218.3" cy="234.6" rx="2.8" ry="1.0" fill="#9a6cb8" opacity="0.55" transform="rotate(-50 218.3 234.6)"/>
<ellipse cx="222.1" cy="236.0" rx="2.7" ry="1.2" fill="#9a6cb8" opacity="0.55" transform="rotate(-50 222.1 236.0)"/>
<ellipse cx="226.4" cy="235.9" rx="3.4" ry="0.9" fill="#9a6cb8" opacity="0.55" transform="rotate(-50 226.4 235.9)"/>
<ellipse cx="232.4" cy="234.5" rx="2.9" ry="0.9" fill="#9a6cb8" opacity="0.55" transform="rotate(-50 232.4 234.5)"/>
<ellipse cx="237.2" cy="236.2" rx="3.8" ry="1.2" fill="#9a6cb8" opacity="0.55" transform="rotate(-50 237.2 236.2)"/>
<ellipse cx="241.5" cy="234.5" rx="3.7" ry="0.8" fill="#9a6cb8" opacity="0.55" transform="rotate(-50 241.5 234.5)"/>
<ellipse cx="248.0" cy="234.5" rx="3.8" ry="0.8" fill="#9a6cb8" opacity="0.55" transform="rotate(-50 248.0 234.5)"/>
<ellipse cx="253.2" cy="234.6" rx="2.7" ry="0.8" fill="#9a6cb8" opacity="0.55" transform="rotate(-50 253.2 234.6)"/>
<ellipse cx="258.3" cy="235.1" rx="2.8" ry="1.0" fill="#9a6cb8" opacity="0.55" transform="rotate(-50 258.3 235.1)"/>
<ellipse cx="186.0" cy="239.3" rx="3.3" ry="0.9" fill="#9a6cb8" opacity="0.55" transform="rotate(-50 186.0 239.3)"/>
<ellipse cx="189.2" cy="240.6" rx="3.5" ry="0.9" fill="#9a6cb8" opacity="0.55" transform="rotate(-50 189.2 240.6)"/>
<ellipse cx="194.0" cy="239.0" rx="3.3" ry="1.0" fill="#9a6cb8" opacity="0.55" transform="rotate(-50 194.0 239.0)"/>
<ellipse cx="199.5" cy="239.3" rx="3.3" ry="1.1" fill="#9a6cb8" opacity="0.55" transform="rotate(-50 199.5 239.3)"/>
<ellipse cx="205.7" cy="240.2" rx="2.8" ry="0.8" fill="#9a6cb8" opacity="0.55" transform="rotate(-50 205.7 240.2)"/>
<ellipse cx="210.6" cy="239.8" rx="3.5" ry="0.8" fill="#9a6cb8" opacity="0.55" transform="rotate(-50 210.6 239.8)"/>
<ellipse cx="215.7" cy="239.6" rx="3.6" ry="1.1" fill="#9a6cb8" opacity="0.55" transform="rotate(-50 215.7 239.6)"/>
<ellipse cx="220.0" cy="238.8" rx="3.7" ry="1.0" fill="#9a6cb8" opacity="0.55" transform="rotate(-50 220.0 238.8)"/>
<ellipse cx="225.9" cy="239.4" rx="2.8" ry="1.1" fill="#9a6cb8" opacity="0.55" transform="rotate(-50 225.9 239.4)"/>
<ellipse cx="229.7" cy="239.2" rx="3.0" ry="1.0" fill="#9a6cb8" opacity="0.55" transform="rotate(-50 229.7 239.2)"/>
<ellipse cx="233.8" cy="240.0" rx="3.1" ry="1.0" fill="#9a6cb8" opacity="0.55" transform="rotate(-50 233.8 240.0)"/>
<ellipse cx="239.1" cy="240.5" rx="3.6" ry="1.1" fill="#9a6cb8" opacity="0.55" transform="rotate(-50 239.1 240.5)"/>
<ellipse cx="244.6" cy="240.5" rx="3.0" ry="1.1" fill="#9a6cb8" opacity="0.55" transform="rotate(-50 244.6 240.5)"/>
<ellipse cx="248.9" cy="240.9" rx="3.8" ry="1.0" fill="#9a6cb8" opacity="0.55" transform="rotate(-50 248.9 240.9)"/>
<ellipse cx="255.0" cy="240.1" rx="3.2" ry="0.8" fill="#9a6cb8" opacity="0.55" transform="rotate(-50 255.0 240.1)"/>
<ellipse cx="261.1" cy="239.3" rx="2.8" ry="0.8" fill="#9a6cb8" opacity="0.55" transform="rotate(-50 261.1 239.3)"/>
<ellipse cx="186.9" cy="245.8" rx="2.6" ry="0.8" fill="#9a6cb8" opacity="0.55" transform="rotate(-50 186.9 245.8)"/>
<ellipse cx="193.0" cy="244.3" rx="2.6" ry="1.0" fill="#9a6cb8" opacity="0.55" transform="rotate(-50 193.0 244.3)"/>
<ellipse cx="197.7" cy="245.1" rx="3.5" ry="0.8" fill="#9a6cb8" opacity="0.55" transform="rotate(-50 197.7 245.1)"/>
<ellipse cx="203.4" cy="245.5" rx="2.6" ry="0.8" fill="#9a6cb8" opacity="0.55" transform="rotate(-50 203.4 245.5)"/>
<ellipse cx="207.5" cy="245.0" rx="2.9" ry="0.8" fill="#9a6cb8" opacity="0.55" transform="rotate(-50 207.5 245.0)"/>
<ellipse cx="212.3" cy="244.1" rx="3.3" ry="1.1" fill="#9a6cb8" opacity="0.55" transform="rotate(-50 212.3 244.1)"/>
<ellipse cx="216.7" cy="245.2" rx="3.5" ry="0.9" fill="#9a6cb8" opacity="0.55" transform="rotate(-50 216.7 245.2)"/>
<ellipse cx="223.3" cy="246.1" rx="3.1" ry="1.0" fill="#9a6cb8" opacity="0.55" transform="rotate(-50 223.3 246.1)"/>
<ellipse cx="228.3" cy="245.1" rx="3.1" ry="1.2" fill="#9a6cb8" opacity="0.55" transform="rotate(-50 228.3 245.1)"/>
<ellipse cx="233.2" cy="244.6" rx="2.9" ry="0.9" fill="#9a6cb8" opacity="0.55" transform="rotate(-50 233.2 244.6)"/>
<ellipse cx="237.3" cy="246.2" rx="3.6" ry="1.2" fill="#9a6cb8" opacity="0.55" transform="rotate(-50 237.3 246.2)"/>
<ellipse cx="243.3" cy="245.8" rx="2.6" ry="1.0" fill="#9a6cb8" opacity="0.55" transform="rotate(-50 243.3 245.8)"/>
<ellipse cx="248.6" cy="246.0" rx="2.9" ry="1.0" fill="#9a6cb8" opacity="0.55" transform="rotate(-50 248.6 246.0)"/>
<ellipse cx="252.8" cy="244.7" rx="3.2" ry="0.8" fill="#9a6cb8" opacity="0.55" transform="rotate(-50 252.8 244.7)"/>
<ellipse cx="257.3" cy="245.0" rx="2.6" ry="0.9" fill="#9a6cb8" opacity="0.55" transform="rotate(-50 257.3 245.0)"/>
<ellipse cx="186.1" cy="250.7" rx="3.8" ry="1.1" fill="#9a6cb8" opacity="0.55" transform="rotate(-50 186.1 250.7)"/>
<ellipse cx="190.7" cy="250.9" rx="3.7" ry="0.8" fill="#9a6cb8" opacity="0.55" transform="rotate(-50 190.7 250.9)"/>
<ellipse cx="195.3" cy="249.4" rx="3.4" ry="0.9" fill="#9a6cb8" opacity="0.55" transform="rotate(-50 195.3 249.4)"/>
<ellipse cx="200.1" cy="251.0" rx="3.4" ry="0.9" fill="#9a6cb8" opacity="0.55" transform="rotate(-50 200.1 251.0)"/>
<ellipse cx="205.0" cy="249.8" rx="3.8" ry="0.9" fill="#9a6cb8" opacity="0.55" transform="rotate(-50 205.0 249.8)"/>
<ellipse cx="209.5" cy="250.4" rx="2.7" ry="1.0" fill="#9a6cb8" opacity="0.55" transform="rotate(-50 209.5 250.4)"/>
<ellipse cx="216.1" cy="250.0" rx="2.9" ry="1.0" fill="#9a6cb8" opacity="0.55" transform="rotate(-50 216.1 250.0)"/>
<ellipse cx="220.1" cy="249.2" rx="2.7" ry="0.9" fill="#9a6cb8" opacity="0.55" transform="rotate(-50 220.1 249.2)"/>
<ellipse cx="224.5" cy="249.8" rx="2.9" ry="0.9" fill="#9a6cb8" opacity="0.55" transform="rotate(-50 224.5 249.8)"/>
<ellipse cx="229.0" cy="250.1" rx="3.6" ry="1.0" fill="#9a6cb8" opacity="0.55" transform="rotate(-50 229.0 250.1)"/>
<ellipse cx="235.2" cy="250.4" rx="2.8" ry="1.1" fill="#9a6cb8" opacity="0.55" transform="rotate(-50 235.2 250.4)"/>
<ellipse cx="239.9" cy="250.1" rx="3.3" ry="1.0" fill="#9a6cb8" opacity="0.55" transform="rotate(-50 239.9 250.1)"/>
<ellipse cx="244.5" cy="249.4" rx="2.8" ry="1.0" fill="#9a6cb8" opacity="0.55" transform="rotate(-50 244.5 249.4)"/>
<ellipse cx="249.7" cy="250.2" rx="2.6" ry="0.9" fill="#9a6cb8" opacity="0.55" transform="rotate(-50 249.7 250.2)"/>
<ellipse cx="255.9" cy="249.4" rx="3.3" ry="1.0" fill="#9a6cb8" opacity="0.55" transform="rotate(-50 255.9 249.4)"/>
<ellipse cx="259.5" cy="251.2" rx="2.9" ry="1.1" fill="#9a6cb8" opacity="0.55" transform="rotate(-50 259.5 251.2)"/>
<ellipse cx="186.7" cy="254.0" rx="3.7" ry="1.0" fill="#9a6cb8" opacity="0.55" transform="rotate(-50 186.7 254.0)"/>
<ellipse cx="191.4" cy="254.7" rx="3.1" ry="1.1" fill="#9a6cb8" opacity="0.55" transform="rotate(-50 191.4 254.7)"/>
<ellipse cx="196.6" cy="254.3" rx="3.8" ry="1.1" fill="#9a6cb8" opacity="0.55" transform="rotate(-50 196.6 254.3)"/>
<ellipse cx="201.7" cy="254.6" rx="3.0" ry="1.1" fill="#9a6cb8" opacity="0.55" transform="rotate(-50 201.7 254.6)"/>
<ellipse cx="207.8" cy="255.8" rx="3.6" ry="1.0" fill="#9a6cb8" opacity="0.55" transform="rotate(-50 207.8 255.8)"/>
<ellipse cx="213.1" cy="255.6" rx="3.5" ry="1.0" fill="#9a6cb8" opacity="0.55" transform="rotate(-50 213.1 255.6)"/>
<ellipse cx="218.2" cy="255.5" rx="3.7" ry="0.9" fill="#9a6cb8" opacity="0.55" transform="rotate(-50 218.2 255.5)"/>
<ellipse cx="223.4" cy="253.8" rx="3.5" ry="1.0" fill="#9a6cb8" opacity="0.55" transform="rotate(-50 223.4 253.8)"/>
<ellipse cx="227.5" cy="256.1" rx="3.3" ry="1.0" fill="#9a6cb8" opacity="0.55" transform="rotate(-50 227.5 256.1)"/>
<ellipse cx="233.2" cy="255.9" rx="3.3" ry="1.0" fill="#9a6cb8" opacity="0.55" transform="rotate(-50 233.2 255.9)"/>
<ellipse cx="237.4" cy="254.9" rx="3.5" ry="0.9" fill="#9a6cb8" opacity="0.55" transform="rotate(-50 237.4 254.9)"/>
<ellipse cx="242.2" cy="255.1" rx="3.1" ry="0.9" fill="#9a6cb8" opacity="0.55" transform="rotate(-50 242.2 255.1)"/>
<ellipse cx="248.2" cy="255.8" rx="3.2" ry="1.0" fill="#9a6cb8" opacity="0.55" transform="rotate(-50 248.2 255.8)"/>
<ellipse cx="251.7" cy="254.5" rx="2.7" ry="1.0" fill="#9a6cb8" opacity="0.55" transform="rotate(-50 251.7 254.5)"/>
<ellipse cx="257.7" cy="254.0" rx="3.7" ry="0.9" fill="#9a6cb8" opacity="0.55" transform="rotate(-50 257.7 254.0)"/>
<ellipse cx="185.8" cy="260.8" rx="3.8" ry="0.9" fill="#9a6cb8" opacity="0.55" transform="rotate(-50 185.8 260.8)"/>
<ellipse cx="189.8" cy="261.0" rx="2.6" ry="0.8" fill="#9a6cb8" opacity="0.55" transform="rotate(-50 189.8 261.0)"/>
<ellipse cx="195.2" cy="260.0" rx="3.7" ry="1.1" fill="#9a6cb8" opacity="0.55" transform="rotate(-50 195.2 260.0)"/>
<ellipse cx="200.1" cy="261.2" rx="3.2" ry="1.0" fill="#9a6cb8" opacity="0.55" transform="rotate(-50 200.1 261.2)"/>
<ellipse cx="205.4" cy="259.7" rx="3.0" ry="1.0" fill="#9a6cb8" opacity="0.55" transform="rotate(-50 205.4 259.7)"/>
<ellipse cx="209.6" cy="261.1" rx="3.4" ry="1.0" fill="#9a6cb8" opacity="0.55" transform="rotate(-50 209.6 261.1)"/>
<ellipse cx="214.0" cy="259.7" rx="3.1" ry="1.0" fill="#9a6cb8" opacity="0.55" transform="rotate(-50 214.0 259.7)"/>
<ellipse cx="220.2" cy="260.9" rx="3.8" ry="1.0" fill="#9a6cb8" opacity="0.55" transform="rotate(-50 220.2 260.9)"/>
<ellipse cx="224.9" cy="260.3" rx="3.8" ry="0.9" fill="#9a6cb8" opacity="0.55" transform="rotate(-50 224.9 260.3)"/>
<ellipse cx="230.1" cy="260.8" rx="2.8" ry="0.9" fill="#9a6cb8" opacity="0.55" transform="rotate(-50 230.1 260.8)"/>
<ellipse cx="236.1" cy="260.8" rx="3.2" ry="0.8" fill="#9a6cb8" opacity="0.55" transform="rotate(-50 236.1 260.8)"/>
<ellipse cx="240.9" cy="260.5" rx="3.6" ry="1.2" fill="#9a6cb8" opacity="0.55" transform="rotate(-50 240.9 260.5)"/>
<ellipse cx="245.9" cy="259.8" rx="2.8" ry="0.9" fill="#9a6cb8" opacity="0.55" transform="rotate(-50 245.9 259.8)"/>
<ellipse cx="250.0" cy="260.0" rx="2.8" ry="0.9" fill="#9a6cb8" opacity="0.55" transform="rotate(-50 250.0 260.0)"/>
<ellipse cx="255.3" cy="260.2" rx="3.0" ry="1.2" fill="#9a6cb8" opacity="0.55" transform="rotate(-50 255.3 260.2)"/>
<ellipse cx="260.3" cy="258.9" rx="3.1" ry="1.1" fill="#9a6cb8" opacity="0.55" transform="rotate(-50 260.3 258.9)"/>
<ellipse cx="187.0" cy="265.5" rx="2.6" ry="0.9" fill="#9a6cb8" opacity="0.55" transform="rotate(-50 187.0 265.5)"/>
<ellipse cx="193.3" cy="265.2" rx="3.4" ry="0.9" fill="#9a6cb8" opacity="0.55" transform="rotate(-50 193.3 265.2)"/>
<ellipse cx="197.5" cy="265.1" rx="2.9" ry="1.1" fill="#9a6cb8" opacity="0.55" transform="rotate(-50 197.5 265.1)"/>
<ellipse cx="202.6" cy="266.2" rx="3.3" ry="1.0" fill="#9a6cb8" opacity="0.55" transform="rotate(-50 202.6 266.2)"/>
<ellipse cx="206.6" cy="264.2" rx="3.5" ry="0.8" fill="#9a6cb8" opacity="0.55" transform="rotate(-50 206.6 264.2)"/>
<ellipse cx="211.5" cy="264.2" rx="3.2" ry="1.1" fill="#9a6cb8" opacity="0.55" transform="rotate(-50 211.5 264.2)"/>
<ellipse cx="217.8" cy="265.7" rx="2.6" ry="0.8" fill="#9a6cb8" opacity="0.55" transform="rotate(-50 217.8 265.7)"/>
<ellipse cx="223.1" cy="264.6" rx="3.5" ry="0.9" fill="#9a6cb8" opacity="0.55" transform="rotate(-50 223.1 264.6)"/>
<ellipse cx="226.7" cy="264.4" rx="2.7" ry="1.2" fill="#9a6cb8" opacity="0.55" transform="rotate(-50 226.7 264.4)"/>
<ellipse cx="232.7" cy="264.6" rx="3.1" ry="1.0" fill="#9a6cb8" opacity="0.55" transform="rotate(-50 232.7 264.6)"/>
<ellipse cx="236.4" cy="265.9" rx="3.3" ry="1.2" fill="#9a6cb8" opacity="0.55" transform="rotate(-50 236.4 265.9)"/>
<ellipse cx="242.4" cy="265.3" rx="2.9" ry="0.8" fill="#9a6cb8" opacity="0.55" transform="rotate(-50 242.4 265.3)"/>
<ellipse cx="248.5" cy="265.9" rx="3.0" ry="1.2" fill="#9a6cb8" opacity="0.55" transform="rotate(-50 248.5 265.9)"/>
<ellipse cx="253.3" cy="264.5" rx="3.3" ry="1.2" fill="#9a6cb8" opacity="0.55" transform="rotate(-50 253.3 264.5)"/>
<ellipse cx="257.5" cy="266.1" rx="2.9" ry="1.0" fill="#9a6cb8" opacity="0.55" transform="rotate(-50 257.5 266.1)"/>
<ellipse cx="185.5" cy="269.3" rx="3.0" ry="1.2" fill="#9a6cb8" opacity="0.55" transform="rotate(-50 185.5 269.3)"/>
<ellipse cx="190.0" cy="270.7" rx="2.9" ry="0.9" fill="#9a6cb8" opacity="0.55" transform="rotate(-50 190.0 270.7)"/>
<ellipse cx="194.7" cy="269.2" rx="3.8" ry="0.9" fill="#9a6cb8" opacity="0.55" transform="rotate(-50 194.7 269.2)"/>
<ellipse cx="200.1" cy="269.1" rx="3.2" ry="1.0" fill="#9a6cb8" opacity="0.55" transform="rotate(-50 200.1 269.1)"/>
<ellipse cx="204.8" cy="269.0" rx="2.7" ry="1.1" fill="#9a6cb8" opacity="0.55" transform="rotate(-50 204.8 269.0)"/>
<ellipse cx="209.6" cy="269.4" rx="2.8" ry="0.9" fill="#9a6cb8" opacity="0.55" transform="rotate(-50 209.6 269.4)"/>
<ellipse cx="214.4" cy="268.9" rx="3.4" ry="0.9" fill="#9a6cb8" opacity="0.55" transform="rotate(-50 214.4 268.9)"/>
<ellipse cx="219.2" cy="270.5" rx="2.7" ry="0.9" fill="#9a6cb8" opacity="0.55" transform="rotate(-50 219.2 270.5)"/>
<ellipse cx="225.8" cy="269.1" rx="3.1" ry="1.1" fill="#9a6cb8" opacity="0.55" transform="rotate(-50 225.8 269.1)"/>
<ellipse cx="230.7" cy="269.2" rx="3.0" ry="1.1" fill="#9a6cb8" opacity="0.55" transform="rotate(-50 230.7 269.2)"/>
<ellipse cx="234.7" cy="271.1" rx="2.8" ry="1.2" fill="#9a6cb8" opacity="0.55" transform="rotate(-50 234.7 271.1)"/>
<ellipse cx="240.0" cy="269.3" rx="3.1" ry="0.9" fill="#9a6cb8" opacity="0.55" transform="rotate(-50 240.0 269.3)"/>
<ellipse cx="245.5" cy="269.4" rx="3.7" ry="1.0" fill="#9a6cb8" opacity="0.55" transform="rotate(-50 245.5 269.4)"/>
<ellipse cx="249.7" cy="269.4" rx="3.3" ry="0.9" fill="#9a6cb8" opacity="0.55" transform="rotate(-50 249.7 269.4)"/>
<ellipse cx="255.9" cy="269.1" rx="3.2" ry="1.0" fill="#9a6cb8" opacity="0.55" transform="rotate(-50 255.9 269.1)"/>
<ellipse cx="259.4" cy="270.7" rx="3.1" ry="1.1" fill="#9a6cb8" opacity="0.55" transform="rotate(-50 259.4 270.7)"/>
<ellipse cx="185.3" cy="189.2" rx="1.4" ry="1.3" fill="#7a5098" opacity="0.5"/>
<ellipse cx="190.7" cy="191.4" rx="1.4" ry="1.6" fill="#7a5098" opacity="0.5"/>
<ellipse cx="197.4" cy="190.2" rx="1.4" ry="1.5" fill="#7a5098" opacity="0.5"/>
<ellipse cx="205.2" cy="188.3" rx="1.4" ry="1.3" fill="#7a5098" opacity="0.5"/>
<ellipse cx="211.5" cy="190.9" rx="1.4" ry="1.4" fill="#7a5098" opacity="0.5"/>
<ellipse cx="221.6" cy="191.1" rx="1.7" ry="1.7" fill="#7a5098" opacity="0.5"/>
<ellipse cx="225.5" cy="189.1" rx="1.2" ry="1.6" fill="#7a5098" opacity="0.5"/>
<ellipse cx="234.7" cy="189.4" rx="1.4" ry="1.6" fill="#7a5098" opacity="0.5"/>
<ellipse cx="241.8" cy="189.0" rx="1.7" ry="1.4" fill="#7a5098" opacity="0.5"/>
<ellipse cx="248.5" cy="188.7" rx="1.3" ry="1.7" fill="#7a5098" opacity="0.5"/>
<ellipse cx="255.9" cy="190.9" rx="1.2" ry="1.2" fill="#7a5098" opacity="0.5"/>
<ellipse cx="187.1" cy="195.8" rx="1.4" ry="1.4" fill="#7a5098" opacity="0.5"/>
<ellipse cx="193.7" cy="196.2" rx="1.6" ry="1.3" fill="#7a5098" opacity="0.5"/>
<ellipse cx="203.9" cy="197.3" rx="1.6" ry="1.4" fill="#7a5098" opacity="0.5"/>
<ellipse cx="209.2" cy="197.7" rx="1.4" ry="1.2" fill="#7a5098" opacity="0.5"/>
<ellipse cx="217.8" cy="198.1" rx="1.4" ry="1.2" fill="#7a5098" opacity="0.5"/>
<ellipse cx="224.9" cy="197.4" rx="1.2" ry="1.3" fill="#7a5098" opacity="0.5"/>
<ellipse cx="228.9" cy="198.2" rx="1.3" ry="1.7" fill="#7a5098" opacity="0.5"/>
<ellipse cx="238.5" cy="195.3" rx="1.6" ry="1.4" fill="#7a5098" opacity="0.5"/>
<ellipse cx="245.5" cy="198.3" rx="1.4" ry="1.3" fill="#7a5098" opacity="0.5"/>
<ellipse cx="253.3" cy="196.7" rx="1.8" ry="1.6" fill="#7a5098" opacity="0.5"/>
<ellipse cx="259.5" cy="198.3" rx="1.6" ry="1.5" fill="#7a5098" opacity="0.5"/>
<ellipse cx="183.2" cy="204.8" rx="1.5" ry="1.5" fill="#7a5098" opacity="0.5"/>
<ellipse cx="193.7" cy="202.5" rx="1.7" ry="1.2" fill="#7a5098" opacity="0.5"/>
<ellipse cx="199.8" cy="205.2" rx="1.4" ry="1.5" fill="#7a5098" opacity="0.5"/>
<ellipse cx="207.9" cy="204.6" rx="1.5" ry="1.3" fill="#7a5098" opacity="0.5"/>
<ellipse cx="211.2" cy="203.4" rx="1.4" ry="1.3" fill="#7a5098" opacity="0.5"/>
<ellipse cx="219.2" cy="202.5" rx="1.6" ry="1.6" fill="#7a5098" opacity="0.5"/>
<ellipse cx="226.0" cy="203.0" rx="1.5" ry="1.5" fill="#7a5098" opacity="0.5"/>
<ellipse cx="235.7" cy="203.4" rx="1.4" ry="1.7" fill="#7a5098" opacity="0.5"/>
<ellipse cx="239.6" cy="204.3" rx="1.4" ry="1.7" fill="#7a5098" opacity="0.5"/>
<ellipse cx="248.2" cy="205.0" rx="1.3" ry="1.6" fill="#7a5098" opacity="0.5"/>
<ellipse cx="255.4" cy="203.8" rx="1.7" ry="1.7" fill="#7a5098" opacity="0.5"/>
<ellipse cx="187.0" cy="210.2" rx="1.4" ry="1.3" fill="#7a5098" opacity="0.5"/>
<ellipse cx="193.7" cy="210.1" rx="1.3" ry="1.6" fill="#7a5098" opacity="0.5"/>
<ellipse cx="202.3" cy="209.5" rx="1.4" ry="1.5" fill="#7a5098" opacity="0.5"/>
<ellipse cx="209.0" cy="209.7" rx="1.2" ry="1.2" fill="#7a5098" opacity="0.5"/>
<ellipse cx="218.5" cy="212.0" rx="1.3" ry="1.6" fill="#7a5098" opacity="0.5"/>
<ellipse cx="225.4" cy="211.3" rx="1.3" ry="1.5" fill="#7a5098" opacity="0.5"/>
<ellipse cx="230.2" cy="209.8" rx="1.5" ry="1.2" fill="#7a5098" opacity="0.5"/>
<ellipse cx="239.2" cy="211.6" rx="1.6" ry="1.8" fill="#7a5098" opacity="0.5"/>
<ellipse cx="245.1" cy="210.0" rx="1.3" ry="1.3" fill="#7a5098" opacity="0.5"/>
<ellipse cx="249.6" cy="212.1" rx="1.7" ry="1.4" fill="#7a5098" opacity="0.5"/>
<ellipse cx="257.2" cy="211.6" rx="1.7" ry="1.8" fill="#7a5098" opacity="0.5"/>
<ellipse cx="183.7" cy="219.1" rx="1.7" ry="1.6" fill="#7a5098" opacity="0.5"/>
<ellipse cx="191.3" cy="216.7" rx="1.7" ry="1.4" fill="#7a5098" opacity="0.5"/>
<ellipse cx="198.5" cy="218.2" rx="1.4" ry="1.7" fill="#7a5098" opacity="0.5"/>
<ellipse cx="205.0" cy="216.2" rx="1.5" ry="1.6" fill="#7a5098" opacity="0.5"/>
<ellipse cx="214.3" cy="218.8" rx="1.7" ry="1.8" fill="#7a5098" opacity="0.5"/>
<ellipse cx="220.0" cy="218.0" rx="1.3" ry="1.4" fill="#7a5098" opacity="0.5"/>
<ellipse cx="227.3" cy="216.3" rx="1.6" ry="1.3" fill="#7a5098" opacity="0.5"/>
<ellipse cx="233.8" cy="219.9" rx="1.3" ry="1.2" fill="#7a5098" opacity="0.5"/>
<ellipse cx="240.8" cy="216.8" rx="1.6" ry="1.2" fill="#7a5098" opacity="0.5"/>
<ellipse cx="249.4" cy="219.4" rx="1.7" ry="1.5" fill="#7a5098" opacity="0.5"/>
<ellipse cx="254.1" cy="218.6" rx="1.5" ry="1.5" fill="#7a5098" opacity="0.5"/>
<ellipse cx="187.9" cy="224.8" rx="1.6" ry="1.7" fill="#7a5098" opacity="0.5"/>
<ellipse cx="197.1" cy="223.7" rx="1.4" ry="1.5" fill="#7a5098" opacity="0.5"/>
<ellipse cx="202.8" cy="224.4" rx="1.3" ry="1.3" fill="#7a5098" opacity="0.5"/>
<ellipse cx="208.8" cy="224.8" rx="1.8" ry="1.7" fill="#7a5098" opacity="0.5"/>
<ellipse cx="218.0" cy="226.9" rx="1.8" ry="1.6" fill="#7a5098" opacity="0.5"/>
<ellipse cx="224.7" cy="223.2" rx="1.6" ry="1.6" fill="#7a5098" opacity="0.5"/>
<ellipse cx="229.7" cy="225.3" rx="1.8" ry="1.5" fill="#7a5098" opacity="0.5"/>
<ellipse cx="238.1" cy="224.2" rx="1.4" ry="1.7" fill="#7a5098" opacity="0.5"/>
<ellipse cx="242.6" cy="223.8" rx="1.6" ry="1.5" fill="#7a5098" opacity="0.5"/>
<ellipse cx="249.8" cy="225.6" rx="1.4" ry="1.5" fill="#7a5098" opacity="0.5"/>
<ellipse cx="258.2" cy="225.1" rx="1.5" ry="1.4" fill="#7a5098" opacity="0.5"/>
<ellipse cx="183.5" cy="230.7" rx="1.7" ry="1.5" fill="#7a5098" opacity="0.5"/>
<ellipse cx="190.4" cy="233.4" rx="1.4" ry="1.3" fill="#7a5098" opacity="0.5"/>
<ellipse cx="199.1" cy="231.0" rx="1.5" ry="1.5" fill="#7a5098" opacity="0.5"/>
<ellipse cx="204.9" cy="232.3" rx="1.3" ry="1.5" fill="#7a5098" opacity="0.5"/>
<ellipse cx="213.4" cy="230.3" rx="1.4" ry="1.2" fill="#7a5098" opacity="0.5"/>
<ellipse cx="219.8" cy="233.5" rx="1.5" ry="1.6" fill="#7a5098" opacity="0.5"/>
<ellipse cx="228.0" cy="230.5" rx="1.8" ry="1.6" fill="#7a5098" opacity="0.5"/>
<ellipse cx="232.4" cy="233.3" rx="1.4" ry="1.3" fill="#7a5098" opacity="0.5"/>
<ellipse cx="242.8" cy="232.3" rx="1.7" ry="1.3" fill="#7a5098" opacity="0.5"/>
<ellipse cx="249.1" cy="230.2" rx="1.3" ry="1.4" fill="#7a5098" opacity="0.5"/>
<ellipse cx="253.1" cy="232.4" rx="1.3" ry="1.4" fill="#7a5098" opacity="0.5"/>
<ellipse cx="189.3" cy="238.7" rx="1.7" ry="1.6" fill="#7a5098" opacity="0.5"/>
<ellipse cx="197.0" cy="239.3" rx="1.8" ry="1.7" fill="#7a5098" opacity="0.5"/>
<ellipse cx="201.2" cy="240.0" rx="1.4" ry="1.7" fill="#7a5098" opacity="0.5"/>
<ellipse cx="210.2" cy="240.3" rx="1.3" ry="1.4" fill="#7a5098" opacity="0.5"/>
<ellipse cx="217.4" cy="240.8" rx="1.6" ry="1.2" fill="#7a5098" opacity="0.5"/>
<ellipse cx="223.9" cy="237.4" rx="1.5" ry="1.7" fill="#7a5098" opacity="0.5"/>
<ellipse cx="229.0" cy="240.7" rx="1.6" ry="1.4" fill="#7a5098" opacity="0.5"/>
<ellipse cx="236.3" cy="238.8" rx="1.7" ry="1.5" fill="#7a5098" opacity="0.5"/>
<ellipse cx="243.0" cy="237.1" rx="1.3" ry="1.7" fill="#7a5098" opacity="0.5"/>
<ellipse cx="250.2" cy="239.2" rx="1.4" ry="1.6" fill="#7a5098" opacity="0.5"/>
<ellipse cx="258.0" cy="237.6" rx="1.7" ry="1.5" fill="#7a5098" opacity="0.5"/>
<ellipse cx="185.8" cy="247.2" rx="1.8" ry="1.2" fill="#7a5098" opacity="0.5"/>
<ellipse cx="191.4" cy="244.6" rx="1.5" ry="1.7" fill="#7a5098" opacity="0.5"/>
<ellipse cx="200.2" cy="244.1" rx="1.3" ry="1.7" fill="#7a5098" opacity="0.5"/>
<ellipse cx="206.7" cy="245.6" rx="1.5" ry="1.3" fill="#7a5098" opacity="0.5"/>
<ellipse cx="214.4" cy="245.6" rx="1.7" ry="1.6" fill="#7a5098" opacity="0.5"/>
<ellipse cx="218.3" cy="245.3" rx="1.3" ry="1.7" fill="#7a5098" opacity="0.5"/>
<ellipse cx="227.4" cy="244.2" rx="1.3" ry="1.4" fill="#7a5098" opacity="0.5"/>
<ellipse cx="233.9" cy="246.3" rx="1.4" ry="1.4" fill="#7a5098" opacity="0.5"/>
<ellipse cx="239.0" cy="246.3" rx="1.4" ry="1.2" fill="#7a5098" opacity="0.5"/>
<ellipse cx="247.8" cy="247.9" rx="1.2" ry="1.3" fill="#7a5098" opacity="0.5"/>
<ellipse cx="255.7" cy="245.1" rx="1.4" ry="1.5" fill="#7a5098" opacity="0.5"/>
<ellipse cx="187.5" cy="253.3" rx="1.5" ry="1.8" fill="#7a5098" opacity="0.5"/>
<ellipse cx="197.5" cy="251.1" rx="1.5" ry="1.7" fill="#7a5098" opacity="0.5"/>
<ellipse cx="204.0" cy="254.1" rx="1.6" ry="1.6" fill="#7a5098" opacity="0.5"/>
<ellipse cx="209.0" cy="252.1" rx="1.7" ry="1.7" fill="#7a5098" opacity="0.5"/>
<ellipse cx="218.3" cy="253.7" rx="1.4" ry="1.7" fill="#7a5098" opacity="0.5"/>
<ellipse cx="224.5" cy="253.0" rx="1.6" ry="1.4" fill="#7a5098" opacity="0.5"/>
<ellipse cx="230.7" cy="252.6" rx="1.2" ry="1.4" fill="#7a5098" opacity="0.5"/>
<ellipse cx="236.8" cy="255.0" rx="1.5" ry="1.4" fill="#7a5098" opacity="0.5"/>
<ellipse cx="243.5" cy="251.9" rx="1.4" ry="1.3" fill="#7a5098" opacity="0.5"/>
<ellipse cx="249.5" cy="254.5" rx="1.5" ry="1.5" fill="#7a5098" opacity="0.5"/>
<ellipse cx="258.8" cy="252.2" rx="1.3" ry="1.2" fill="#7a5098" opacity="0.5"/>
<ellipse cx="184.2" cy="259.2" rx="1.6" ry="1.5" fill="#7a5098" opacity="0.5"/>
<ellipse cx="193.7" cy="259.4" rx="1.8" ry="1.6" fill="#7a5098" opacity="0.5"/>
<ellipse cx="197.3" cy="258.7" rx="1.5" ry="1.8" fill="#7a5098" opacity="0.5"/>
<ellipse cx="205.4" cy="261.1" rx="1.5" ry="1.7" fill="#7a5098" opacity="0.5"/>
<ellipse cx="211.3" cy="259.9" rx="1.7" ry="1.4" fill="#7a5098" opacity="0.5"/>
<ellipse cx="219.0" cy="258.1" rx="1.3" ry="1.4" fill="#7a5098" opacity="0.5"/>
<ellipse cx="227.8" cy="258.9" rx="1.4" ry="1.3" fill="#7a5098" opacity="0.5"/>
<ellipse cx="234.4" cy="261.5" rx="1.6" ry="1.3" fill="#7a5098" opacity="0.5"/>
<ellipse cx="241.9" cy="261.9" rx="1.6" ry="1.2" fill="#7a5098" opacity="0.5"/>
<ellipse cx="249.2" cy="261.5" rx="1.4" ry="1.3" fill="#7a5098" opacity="0.5"/>
<ellipse cx="253.8" cy="260.1" rx="1.7" ry="1.6" fill="#7a5098" opacity="0.5"/>
<ellipse cx="190.2" cy="265.8" rx="1.4" ry="1.6" fill="#7a5098" opacity="0.5"/>
<ellipse cx="196.1" cy="266.6" rx="1.6" ry="1.4" fill="#7a5098" opacity="0.5"/>
<ellipse cx="200.7" cy="266.7" rx="1.2" ry="1.6" fill="#7a5098" opacity="0.5"/>
<ellipse cx="208.8" cy="267.0" rx="1.6" ry="1.4" fill="#7a5098" opacity="0.5"/>
<ellipse cx="216.4" cy="265.1" rx="1.8" ry="1.5" fill="#7a5098" opacity="0.5"/>
<ellipse cx="225.5" cy="265.2" rx="1.6" ry="1.6" fill="#7a5098" opacity="0.5"/>
<ellipse cx="229.8" cy="265.4" rx="1.3" ry="1.3" fill="#7a5098" opacity="0.5"/>
<ellipse cx="238.6" cy="265.4" rx="1.7" ry="1.5" fill="#7a5098" opacity="0.5"/>
<ellipse cx="244.7" cy="267.4" rx="1.5" ry="1.6" fill="#7a5098" opacity="0.5"/>
<ellipse cx="251.9" cy="266.3" rx="1.6" ry="1.4" fill="#7a5098" opacity="0.5"/>
<ellipse cx="259.3" cy="268.1" rx="1.7" ry="1.4" fill="#7a5098" opacity="0.5"/>
<polygon points="269.6,185.3 267.3,192.0 263.6,198.8 257.6,205.5 251.5,213.0 245.5,219.0 241.8,225.8 237.3,229.5 234.3,234.8 234.3,240.0 236.5,246.0 232.0,250.6 227.5,255.0 221.5,261.0 216.3,267.0 211.0,271.2 200.0,273.2 205.3,269.0 210.5,263.0 216.5,257.0 221.0,252.6 225.5,248.0 223.3,242.0 223.3,236.8 226.3,231.5 230.8,227.8 234.5,221.0 240.5,215.0 246.6,207.5 252.6,200.8 256.3,194.0 258.6,187.3" fill="#b07ab4"/>
<polygon points="269.6,185.3 267.3,192.0 263.6,198.8 257.6,205.5 251.5,213.0 245.5,219.0 241.8,225.8 237.3,229.5 234.3,234.8 234.3,240.0 236.5,246.0 232.0,250.6 227.5,255.0 221.5,261.0 216.3,267.0 211.0,271.2 206.0,272.2 211.3,268.0 216.5,262.0 222.5,256.0 227.0,251.6 231.5,247.0 229.3,241.0 229.3,235.8 232.3,230.5 236.8,226.8 240.5,220.0 246.5,214.0 252.6,206.5 258.6,199.8 262.3,193.0 264.6,186.3" fill="#bf90c0" opacity="0.85"/>
<polyline points="256.00,187.50 248.00,200.00 238.00,212.00 228.00,225.00 222.00,238.00 218.00,250.00 214.00,261.00" fill="none" stroke="#ecd6ec" stroke-width="0.7" stroke-linejoin="round"/>
<polygon points="269.6,184.6 274.0,184.6 274.0,271.2 211.0,271.2 216.3,267.0 221.5,261.0 227.5,255.0 232.0,250.6 236.5,246.0 234.3,240.0 234.3,234.8 237.3,229.5 241.8,225.8 245.5,219.0 251.5,213.0 257.6,205.5 263.6,198.8 267.3,192.0 269.6,185.3" fill="#ccd3de"/>
<path d="M241.8,225.8 C247,228 246,240 243,244 C241,247 238,249 236.5,246 C234,241 234,235 237.3,229.5 Z" fill="#d4dae4" stroke="#d48cc6" stroke-width="0.6"/>
<polygon points="170.3,195.8 175.0,194.0 178.0,197.5 185.0,198.5 190.0,197.0 195.0,196.5 200.0,194.0 205.0,190.0 209.5,184.6 211.5,184.6 207.0,190.5 202.5,196.5 199.5,201.0 196.5,206.3 193.5,210.0 195.0,213.0 192.0,217.5 186.0,226.5 180.0,236.3 175.5,242.3 174.0,238.6 172.5,232.5 171.0,226.5 169.5,219.0 171.0,212.3 174.0,205.5 176.3,201.0" fill="#dedbe8"/>
<polyline points="175.50,242.30 168.00,247.00 163.00,253.00 160.00,258.00 155.00,261.00 152.00,264.00" fill="none" stroke="#e8e4ee" stroke-width="1.1" stroke-linejoin="round"/>
<polyline points="178.00,197.50 180.00,191.00 186.00,187.50 194.00,186.00" fill="none" stroke="#e4e0ec" stroke-width="1.2" stroke-linejoin="round"/>
<ellipse cx="186" cy="192" rx="3.5" ry="2.3" fill="#935ab2"/>
<ellipse cx="195" cy="190.5" rx="3" ry="2" fill="#935ab2"/>
<ellipse cx="187" cy="205" rx="3" ry="2.2" fill="#9a62b6"/>
</g></g>
<text x="182.30" y="219.60" font-size="13" text-anchor="start" fill="#111" textLength="4.60" lengthAdjust="spacingAndGlyphs" style="stroke-width:0.7px">L</text>
<g clip-path="url(#c3)"><g filter="url(#bl)">
<rect x="277" y="181" width="130" height="94" fill="#e2e5ea"/>
<polygon points="280.4,210.5 287.0,209.0 293.0,208.3 297.5,212.0 302.0,209.8 308.0,197.0 314.0,191.0 318.5,186.5 323.0,184.3 403.0,184.3 403.0,231.5 376.2,248.5 360.8,257.7 345.4,270.8 280.4,270.8" fill="#b878c0"/>
<clipPath id="c3b"><polygon points="280.4,210.5 287,209 293,208.3 297.5,212 302,209.8 308,197 314,191 318.5,186.5 323,184.3 403,184.3 403,231.5 376.2,248.5 360.8,257.7 345.4,270.8 280.4,270.8"/></clipPath>
<g clip-path="url(#c3b)">
<ellipse cx="282.3" cy="186.6" rx="2.4" ry="1.9" fill="#d4a8d8" opacity="0.85" stroke="#9a58ac" stroke-width="0.7"/>
<ellipse cx="282.3" cy="186.6" rx="1.3" ry="0.8" fill="#ecdcf0" opacity="0.8"/>
<ellipse cx="287.6" cy="186.5" rx="2.0" ry="1.7" fill="#d4a8d8" opacity="0.85" stroke="#9a58ac" stroke-width="0.7"/>
<ellipse cx="287.6" cy="186.5" rx="1.1" ry="0.7" fill="#ecdcf0" opacity="0.8"/>
<ellipse cx="293.2" cy="186.2" rx="2.7" ry="2.0" fill="#d4a8d8" opacity="0.85" stroke="#9a58ac" stroke-width="0.7"/>
<ellipse cx="293.2" cy="186.2" rx="1.5" ry="0.8" fill="#ecdcf0" opacity="0.8"/>
<ellipse cx="299.4" cy="185.7" rx="2.6" ry="1.8" fill="#d4a8d8" opacity="0.85" stroke="#9a58ac" stroke-width="0.7"/>
<ellipse cx="299.4" cy="185.7" rx="1.5" ry="0.7" fill="#ecdcf0" opacity="0.8"/>
<ellipse cx="303.8" cy="185.6" rx="2.0" ry="2.1" fill="#d4a8d8" opacity="0.85" stroke="#9a58ac" stroke-width="0.7"/>
<ellipse cx="303.8" cy="185.6" rx="1.1" ry="0.8" fill="#ecdcf0" opacity="0.8"/>
<ellipse cx="310.1" cy="185.6" rx="2.8" ry="2.0" fill="#d4a8d8" opacity="0.85" stroke="#9a58ac" stroke-width="0.7"/>
<ellipse cx="310.1" cy="185.6" rx="1.6" ry="0.8" fill="#ecdcf0" opacity="0.8"/>
<ellipse cx="315.2" cy="185.6" rx="2.6" ry="2.5" fill="#d4a8d8" opacity="0.85" stroke="#9a58ac" stroke-width="0.7"/>
<ellipse cx="315.2" cy="185.6" rx="1.4" ry="1.0" fill="#ecdcf0" opacity="0.8"/>
<ellipse cx="320.8" cy="185.4" rx="2.7" ry="1.9" fill="#d4a8d8" opacity="0.85" stroke="#9a58ac" stroke-width="0.7"/>
<ellipse cx="320.8" cy="185.4" rx="1.5" ry="0.8" fill="#ecdcf0" opacity="0.8"/>
<ellipse cx="327.4" cy="186.0" rx="2.5" ry="2.0" fill="#d4a8d8" opacity="0.85" stroke="#9a58ac" stroke-width="0.7"/>
<ellipse cx="327.4" cy="186.0" rx="1.4" ry="0.8" fill="#ecdcf0" opacity="0.8"/>
<ellipse cx="332.8" cy="186.0" rx="2.2" ry="2.4" fill="#d4a8d8" opacity="0.85" stroke="#9a58ac" stroke-width="0.7"/>
<ellipse cx="332.8" cy="186.0" rx="1.2" ry="1.0" fill="#ecdcf0" opacity="0.8"/>
<ellipse cx="337.5" cy="186.3" rx="2.0" ry="2.2" fill="#d4a8d8" opacity="0.85" stroke="#9a58ac" stroke-width="0.7"/>
<ellipse cx="337.5" cy="186.3" rx="1.1" ry="0.9" fill="#ecdcf0" opacity="0.8"/>
<ellipse cx="343.5" cy="186.4" rx="2.0" ry="2.2" fill="#d4a8d8" opacity="0.85" stroke="#9a58ac" stroke-width="0.7"/>
<ellipse cx="343.5" cy="186.4" rx="1.1" ry="0.9" fill="#ecdcf0" opacity="0.8"/>
<ellipse cx="349.1" cy="186.5" rx="2.8" ry="2.2" fill="#d4a8d8" opacity="0.85" stroke="#9a58ac" stroke-width="0.7"/>
<ellipse cx="349.1" cy="186.5" rx="1.6" ry="0.9" fill="#ecdcf0" opacity="0.8"/>
<ellipse cx="354.5" cy="185.7" rx="2.2" ry="2.0" fill="#d4a8d8" opacity="0.85" stroke="#9a58ac" stroke-width="0.7"/>
<ellipse cx="354.5" cy="185.7" rx="1.2" ry="0.8" fill="#ecdcf0" opacity="0.8"/>
<ellipse cx="360.1" cy="185.6" rx="2.6" ry="2.2" fill="#d4a8d8" opacity="0.85" stroke="#9a58ac" stroke-width="0.7"/>
<ellipse cx="360.1" cy="185.6" rx="1.5" ry="0.9" fill="#ecdcf0" opacity="0.8"/>
<ellipse cx="365.8" cy="186.6" rx="2.1" ry="2.2" fill="#d4a8d8" opacity="0.85" stroke="#9a58ac" stroke-width="0.7"/>
<ellipse cx="365.8" cy="186.6" rx="1.2" ry="0.9" fill="#ecdcf0" opacity="0.8"/>
<ellipse cx="371.2" cy="186.4" rx="2.8" ry="1.9" fill="#d4a8d8" opacity="0.85" stroke="#9a58ac" stroke-width="0.7"/>
<ellipse cx="371.2" cy="186.4" rx="1.5" ry="0.8" fill="#ecdcf0" opacity="0.8"/>
<ellipse cx="377.5" cy="186.4" rx="2.2" ry="2.0" fill="#d4a8d8" opacity="0.85" stroke="#9a58ac" stroke-width="0.7"/>
<ellipse cx="377.5" cy="186.4" rx="1.2" ry="0.8" fill="#ecdcf0" opacity="0.8"/>
<ellipse cx="382.8" cy="186.5" rx="2.1" ry="2.3" fill="#d4a8d8" opacity="0.85" stroke="#9a58ac" stroke-width="0.7"/>
<ellipse cx="382.8" cy="186.5" rx="1.1" ry="0.9" fill="#ecdcf0" opacity="0.8"/>
<ellipse cx="388.5" cy="185.9" rx="2.5" ry="2.4" fill="#d4a8d8" opacity="0.85" stroke="#9a58ac" stroke-width="0.7"/>
<ellipse cx="388.5" cy="185.9" rx="1.4" ry="1.0" fill="#ecdcf0" opacity="0.8"/>
<ellipse cx="393.7" cy="186.5" rx="2.3" ry="2.3" fill="#d4a8d8" opacity="0.85" stroke="#9a58ac" stroke-width="0.7"/>
<ellipse cx="393.7" cy="186.5" rx="1.2" ry="0.9" fill="#ecdcf0" opacity="0.8"/>
<ellipse cx="400.0" cy="185.6" rx="2.7" ry="2.5" fill="#d4a8d8" opacity="0.85" stroke="#9a58ac" stroke-width="0.7"/>
<ellipse cx="400.0" cy="185.6" rx="1.5" ry="1.0" fill="#ecdcf0" opacity="0.8"/>
<ellipse cx="284.6" cy="190.6" rx="2.0" ry="2.5" fill="#d4a8d8" opacity="0.85" stroke="#9a58ac" stroke-width="0.7"/>
<ellipse cx="284.6" cy="190.6" rx="1.1" ry="1.0" fill="#ecdcf0" opacity="0.8"/>
<ellipse cx="289.8" cy="191.7" rx="2.1" ry="2.3" fill="#d4a8d8" opacity="0.85" stroke="#9a58ac" stroke-width="0.7"/>
<ellipse cx="289.8" cy="191.7" rx="1.1" ry="0.9" fill="#ecdcf0" opacity="0.8"/>
<ellipse cx="295.5" cy="190.8" rx="2.6" ry="1.8" fill="#d4a8d8" opacity="0.85" stroke="#9a58ac" stroke-width="0.7"/>
<ellipse cx="295.5" cy="190.8" rx="1.4" ry="0.7" fill="#ecdcf0" opacity="0.8"/>
<ellipse cx="301.4" cy="191.7" rx="2.6" ry="2.4" fill="#d4a8d8" opacity="0.85" stroke="#9a58ac" stroke-width="0.7"/>
<ellipse cx="301.4" cy="191.7" rx="1.4" ry="1.0" fill="#ecdcf0" opacity="0.8"/>
<ellipse cx="307.8" cy="190.6" rx="2.1" ry="2.3" fill="#d4a8d8" opacity="0.85" stroke="#9a58ac" stroke-width="0.7"/>
<ellipse cx="307.8" cy="190.6" rx="1.2" ry="0.9" fill="#ecdcf0" opacity="0.8"/>
<ellipse cx="313.0" cy="190.6" rx="2.4" ry="1.9" fill="#d4a8d8" opacity="0.85" stroke="#9a58ac" stroke-width="0.7"/>
<ellipse cx="313.0" cy="190.6" rx="1.3" ry="0.7" fill="#ecdcf0" opacity="0.8"/>
<ellipse cx="318.3" cy="190.7" rx="1.9" ry="2.5" fill="#d4a8d8" opacity="0.85" stroke="#9a58ac" stroke-width="0.7"/>
<ellipse cx="318.3" cy="190.7" rx="1.1" ry="1.0" fill="#ecdcf0" opacity="0.8"/>
<ellipse cx="323.8" cy="191.7" rx="2.0" ry="2.1" fill="#d4a8d8" opacity="0.85" stroke="#9a58ac" stroke-width="0.7"/>
<ellipse cx="323.8" cy="191.7" rx="1.1" ry="0.8" fill="#ecdcf0" opacity="0.8"/>
<ellipse cx="329.2" cy="191.1" rx="2.1" ry="2.3" fill="#d4a8d8" opacity="0.85" stroke="#9a58ac" stroke-width="0.7"/>
<ellipse cx="329.2" cy="191.1" rx="1.2" ry="0.9" fill="#ecdcf0" opacity="0.8"/>
<ellipse cx="334.8" cy="191.5" rx="2.4" ry="1.8" fill="#d4a8d8" opacity="0.85" stroke="#9a58ac" stroke-width="0.7"/>
<ellipse cx="334.8" cy="191.5" rx="1.3" ry="0.7" fill="#ecdcf0" opacity="0.8"/>
<ellipse cx="340.6" cy="191.2" rx="2.8" ry="2.0" fill="#d4a8d8" opacity="0.85" stroke="#9a58ac" stroke-width="0.7"/>
<ellipse cx="340.6" cy="191.2" rx="1.5" ry="0.8" fill="#ecdcf0" opacity="0.8"/>
<ellipse cx="346.1" cy="191.8" rx="2.8" ry="2.3" fill="#d4a8d8" opacity="0.85" stroke="#9a58ac" stroke-width="0.7"/>
<ellipse cx="346.1" cy="191.8" rx="1.5" ry="0.9" fill="#ecdcf0" opacity="0.8"/>
<ellipse cx="351.7" cy="190.8" rx="2.2" ry="1.7" fill="#d4a8d8" opacity="0.85" stroke="#9a58ac" stroke-width="0.7"/>
<ellipse cx="351.7" cy="190.8" rx="1.2" ry="0.7" fill="#ecdcf0" opacity="0.8"/>
<ellipse cx="357.1" cy="191.2" rx="2.3" ry="2.1" fill="#d4a8d8" opacity="0.85" stroke="#9a58ac" stroke-width="0.7"/>
<ellipse cx="357.1" cy="191.2" rx="1.3" ry="0.9" fill="#ecdcf0" opacity="0.8"/>
<ellipse cx="363.0" cy="190.6" rx="2.6" ry="2.2" fill="#d4a8d8" opacity="0.85" stroke="#9a58ac" stroke-width="0.7"/>
<ellipse cx="363.0" cy="190.6" rx="1.4" ry="0.9" fill="#ecdcf0" opacity="0.8"/>
<ellipse cx="368.9" cy="191.3" rx="2.6" ry="2.5" fill="#d4a8d8" opacity="0.85" stroke="#9a58ac" stroke-width="0.7"/>
<ellipse cx="368.9" cy="191.3" rx="1.4" ry="1.0" fill="#ecdcf0" opacity="0.8"/>
<ellipse cx="374.8" cy="191.5" rx="2.3" ry="1.9" fill="#d4a8d8" opacity="0.85" stroke="#9a58ac" stroke-width="0.7"/>
<ellipse cx="374.8" cy="191.5" rx="1.3" ry="0.8" fill="#ecdcf0" opacity="0.8"/>
<ellipse cx="379.9" cy="191.8" rx="2.3" ry="2.0" fill="#d4a8d8" opacity="0.85" stroke="#9a58ac" stroke-width="0.7"/>
<ellipse cx="379.9" cy="191.8" rx="1.3" ry="0.8" fill="#ecdcf0" opacity="0.8"/>
<ellipse cx="385.5" cy="190.8" rx="2.9" ry="1.7" fill="#d4a8d8" opacity="0.85" stroke="#9a58ac" stroke-width="0.7"/>
<ellipse cx="385.5" cy="190.8" rx="1.6" ry="0.7" fill="#ecdcf0" opacity="0.8"/>
<ellipse cx="391.3" cy="191.7" rx="2.2" ry="2.2" fill="#d4a8d8" opacity="0.85" stroke="#9a58ac" stroke-width="0.7"/>
<ellipse cx="391.3" cy="191.7" rx="1.2" ry="0.9" fill="#ecdcf0" opacity="0.8"/>
<ellipse cx="396.7" cy="190.9" rx="2.1" ry="1.8" fill="#d4a8d8" opacity="0.85" stroke="#9a58ac" stroke-width="0.7"/>
<ellipse cx="396.7" cy="190.9" rx="1.2" ry="0.7" fill="#ecdcf0" opacity="0.8"/>
<ellipse cx="402.8" cy="191.5" rx="2.8" ry="1.7" fill="#d4a8d8" opacity="0.85" stroke="#9a58ac" stroke-width="0.7"/>
<ellipse cx="402.8" cy="191.5" rx="1.5" ry="0.7" fill="#ecdcf0" opacity="0.8"/>
<ellipse cx="282.2" cy="196.2" rx="2.5" ry="2.1" fill="#d4a8d8" opacity="0.85" stroke="#9a58ac" stroke-width="0.7"/>
<ellipse cx="282.2" cy="196.2" rx="1.4" ry="0.9" fill="#ecdcf0" opacity="0.8"/>
<ellipse cx="287.4" cy="197.0" rx="1.9" ry="2.3" fill="#d4a8d8" opacity="0.85" stroke="#9a58ac" stroke-width="0.7"/>
<ellipse cx="287.4" cy="197.0" rx="1.1" ry="0.9" fill="#ecdcf0" opacity="0.8"/>
<ellipse cx="293.6" cy="196.4" rx="2.5" ry="2.5" fill="#d4a8d8" opacity="0.85" stroke="#9a58ac" stroke-width="0.7"/>
<ellipse cx="293.6" cy="196.4" rx="1.4" ry="1.0" fill="#ecdcf0" opacity="0.8"/>
<ellipse cx="298.5" cy="196.6" rx="2.6" ry="2.0" fill="#d4a8d8" opacity="0.85" stroke="#9a58ac" stroke-width="0.7"/>
<ellipse cx="298.5" cy="196.6" rx="1.4" ry="0.8" fill="#ecdcf0" opacity="0.8"/>
<ellipse cx="304.7" cy="196.3" rx="2.4" ry="2.2" fill="#d4a8d8" opacity="0.85" stroke="#9a58ac" stroke-width="0.7"/>
<ellipse cx="304.7" cy="196.3" rx="1.3" ry="0.9" fill="#ecdcf0" opacity="0.8"/>
<ellipse cx="310.2" cy="196.2" rx="2.5" ry="2.1" fill="#d4a8d8" opacity="0.85" stroke="#9a58ac" stroke-width="0.7"/>
<ellipse cx="310.2" cy="196.2" rx="1.4" ry="0.9" fill="#ecdcf0" opacity="0.8"/>
<ellipse cx="315.3" cy="196.5" rx="2.2" ry="2.4" fill="#d4a8d8" opacity="0.85" stroke="#9a58ac" stroke-width="0.7"/>
<ellipse cx="315.3" cy="196.5" rx="1.2" ry="1.0" fill="#ecdcf0" opacity="0.8"/>
<ellipse cx="321.2" cy="196.7" rx="2.4" ry="2.1" fill="#d4a8d8" opacity="0.85" stroke="#9a58ac" stroke-width="0.7"/>
<ellipse cx="321.2" cy="196.7" rx="1.3" ry="0.8" fill="#ecdcf0" opacity="0.8"/>
<ellipse cx="326.5" cy="196.0" rx="2.8" ry="2.1" fill="#d4a8d8" opacity="0.85" stroke="#9a58ac" stroke-width="0.7"/>
<ellipse cx="326.5" cy="196.0" rx="1.5" ry="0.8" fill="#ecdcf0" opacity="0.8"/>
<ellipse cx="332.4" cy="196.4" rx="2.7" ry="1.9" fill="#d4a8d8" opacity="0.85" stroke="#9a58ac" stroke-width="0.7"/>
<ellipse cx="332.4" cy="196.4" rx="1.5" ry="0.8" fill="#ecdcf0" opacity="0.8"/>
<ellipse cx="337.6" cy="196.8" rx="2.4" ry="2.2" fill="#d4a8d8" opacity="0.85" stroke="#9a58ac" stroke-width="0.7"/>
<ellipse cx="337.6" cy="196.8" rx="1.3" ry="0.9" fill="#ecdcf0" opacity="0.8"/>
<ellipse cx="344.0" cy="196.9" rx="2.8" ry="1.7" fill="#d4a8d8" opacity="0.85" stroke="#9a58ac" stroke-width="0.7"/>
<ellipse cx="344.0" cy="196.9" rx="1.5" ry="0.7" fill="#ecdcf0" opacity="0.8"/>
<ellipse cx="349.1" cy="196.8" rx="2.7" ry="1.8" fill="#d4a8d8" opacity="0.85" stroke="#9a58ac" stroke-width="0.7"/>
<ellipse cx="349.1" cy="196.8" rx="1.5" ry="0.7" fill="#ecdcf0" opacity="0.8"/>
<ellipse cx="354.4" cy="196.1" rx="2.0" ry="2.0" fill="#d4a8d8" opacity="0.85" stroke="#9a58ac" stroke-width="0.7"/>
<ellipse cx="354.4" cy="196.1" rx="1.1" ry="0.8" fill="#ecdcf0" opacity="0.8"/>
<ellipse cx="360.8" cy="196.4" rx="2.4" ry="1.8" fill="#d4a8d8" opacity="0.85" stroke="#9a58ac" stroke-width="0.7"/>
<ellipse cx="360.8" cy="196.4" rx="1.3" ry="0.7" fill="#ecdcf0" opacity="0.8"/>
<ellipse cx="365.9" cy="197.0" rx="2.6" ry="2.1" fill="#d4a8d8" opacity="0.85" stroke="#9a58ac" stroke-width="0.7"/>
<ellipse cx="365.9" cy="197.0" rx="1.4" ry="0.8" fill="#ecdcf0" opacity="0.8"/>
<ellipse cx="371.6" cy="196.8" rx="2.6" ry="1.8" fill="#d4a8d8" opacity="0.85" stroke="#9a58ac" stroke-width="0.7"/>
<ellipse cx="371.6" cy="196.8" rx="1.5" ry="0.7" fill="#ecdcf0" opacity="0.8"/>
<ellipse cx="377.4" cy="196.2" rx="2.4" ry="1.9" fill="#d4a8d8" opacity="0.85" stroke="#9a58ac" stroke-width="0.7"/>
<ellipse cx="377.4" cy="196.2" rx="1.3" ry="0.8" fill="#ecdcf0" opacity="0.8"/>
<ellipse cx="382.6" cy="196.2" rx="2.3" ry="1.7" fill="#d4a8d8" opacity="0.85" stroke="#9a58ac" stroke-width="0.7"/>
<ellipse cx="382.6" cy="196.2" rx="1.3" ry="0.7" fill="#ecdcf0" opacity="0.8"/>
<ellipse cx="388.0" cy="196.5" rx="2.0" ry="1.8" fill="#d4a8d8" opacity="0.85" stroke="#9a58ac" stroke-width="0.7"/>
<ellipse cx="388.0" cy="196.5" rx="1.1" ry="0.7" fill="#ecdcf0" opacity="0.8"/>
<ellipse cx="394.3" cy="196.1" rx="2.2" ry="1.9" fill="#d4a8d8" opacity="0.85" stroke="#9a58ac" stroke-width="0.7"/>
<ellipse cx="394.3" cy="196.1" rx="1.2" ry="0.8" fill="#ecdcf0" opacity="0.8"/>
<ellipse cx="400.0" cy="195.9" rx="2.5" ry="2.4" fill="#d4a8d8" opacity="0.85" stroke="#9a58ac" stroke-width="0.7"/>
<ellipse cx="400.0" cy="195.9" rx="1.4" ry="1.0" fill="#ecdcf0" opacity="0.8"/>
<ellipse cx="284.4" cy="201.5" rx="2.7" ry="2.2" fill="#d4a8d8" opacity="0.85" stroke="#9a58ac" stroke-width="0.7"/>
<ellipse cx="284.4" cy="201.5" rx="1.5" ry="0.9" fill="#ecdcf0" opacity="0.8"/>
<ellipse cx="290.2" cy="201.1" rx="2.3" ry="2.0" fill="#d4a8d8" opacity="0.85" stroke="#9a58ac" stroke-width="0.7"/>
<ellipse cx="290.2" cy="201.1" rx="1.3" ry="0.8" fill="#ecdcf0" opacity="0.8"/>
<ellipse cx="296.3" cy="201.4" rx="2.3" ry="2.2" fill="#d4a8d8" opacity="0.85" stroke="#9a58ac" stroke-width="0.7"/>
<ellipse cx="296.3" cy="201.4" rx="1.3" ry="0.9" fill="#ecdcf0" opacity="0.8"/>
<ellipse cx="302.0" cy="201.4" rx="2.3" ry="2.2" fill="#d4a8d8" opacity="0.85" stroke="#9a58ac" stroke-width="0.7"/>
<ellipse cx="302.0" cy="201.4" rx="1.3" ry="0.9" fill="#ecdcf0" opacity="0.8"/>
<ellipse cx="307.7" cy="201.2" rx="2.9" ry="2.3" fill="#d4a8d8" opacity="0.85" stroke="#9a58ac" stroke-width="0.7"/>
<ellipse cx="307.7" cy="201.2" rx="1.6" ry="0.9" fill="#ecdcf0" opacity="0.8"/>
<ellipse cx="312.6" cy="201.8" rx="2.2" ry="1.7" fill="#d4a8d8" opacity="0.85" stroke="#9a58ac" stroke-width="0.7"/>
<ellipse cx="312.6" cy="201.8" rx="1.2" ry="0.7" fill="#ecdcf0" opacity="0.8"/>
<ellipse cx="318.7" cy="201.5" rx="2.4" ry="2.1" fill="#d4a8d8" opacity="0.85" stroke="#9a58ac" stroke-width="0.7"/>
<ellipse cx="318.7" cy="201.5" rx="1.3" ry="0.8" fill="#ecdcf0" opacity="0.8"/>
<ellipse cx="324.5" cy="201.9" rx="1.9" ry="2.2" fill="#d4a8d8" opacity="0.85" stroke="#9a58ac" stroke-width="0.7"/>
<ellipse cx="324.5" cy="201.9" rx="1.1" ry="0.9" fill="#ecdcf0" opacity="0.8"/>
<ellipse cx="329.6" cy="201.6" rx="2.7" ry="2.0" fill="#d4a8d8" opacity="0.85" stroke="#9a58ac" stroke-width="0.7"/>
<ellipse cx="329.6" cy="201.6" rx="1.5" ry="0.8" fill="#ecdcf0" opacity="0.8"/>
<ellipse cx="335.2" cy="202.1" rx="2.3" ry="2.1" fill="#d4a8d8" opacity="0.85" stroke="#9a58ac" stroke-width="0.7"/>
<ellipse cx="335.2" cy="202.1" rx="1.3" ry="0.8" fill="#ecdcf0" opacity="0.8"/>
<ellipse cx="340.8" cy="202.0" rx="2.6" ry="2.3" fill="#d4a8d8" opacity="0.85" stroke="#9a58ac" stroke-width="0.7"/>
<ellipse cx="340.8" cy="202.0" rx="1.4" ry="0.9" fill="#ecdcf0" opacity="0.8"/>
<ellipse cx="346.3" cy="201.0" rx="2.6" ry="2.1" fill="#d4a8d8" opacity="0.85" stroke="#9a58ac" stroke-width="0.7"/>
<ellipse cx="346.3" cy="201.0" rx="1.4" ry="0.9" fill="#ecdcf0" opacity="0.8"/>
<ellipse cx="352.3" cy="201.9" rx="2.0" ry="1.9" fill="#d4a8d8" opacity="0.85" stroke="#9a58ac" stroke-width="0.7"/>
<ellipse cx="352.3" cy="201.9" rx="1.1" ry="0.7" fill="#ecdcf0" opacity="0.8"/>
<ellipse cx="357.1" cy="202.0" rx="2.0" ry="1.8" fill="#d4a8d8" opacity="0.85" stroke="#9a58ac" stroke-width="0.7"/>
<ellipse cx="357.1" cy="202.0" rx="1.1" ry="0.7" fill="#ecdcf0" opacity="0.8"/>
<ellipse cx="363.5" cy="201.7" rx="2.0" ry="2.3" fill="#d4a8d8" opacity="0.85" stroke="#9a58ac" stroke-width="0.7"/>
<ellipse cx="363.5" cy="201.7" rx="1.1" ry="0.9" fill="#ecdcf0" opacity="0.8"/>
<ellipse cx="369.1" cy="201.6" rx="2.0" ry="2.3" fill="#d4a8d8" opacity="0.85" stroke="#9a58ac" stroke-width="0.7"/>
<ellipse cx="369.1" cy="201.6" rx="1.1" ry="0.9" fill="#ecdcf0" opacity="0.8"/>
<ellipse cx="374.3" cy="201.7" rx="2.9" ry="2.4" fill="#d4a8d8" opacity="0.85" stroke="#9a58ac" stroke-width="0.7"/>
<ellipse cx="374.3" cy="201.7" rx="1.6" ry="0.9" fill="#ecdcf0" opacity="0.8"/>
<ellipse cx="380.4" cy="201.2" rx="2.2" ry="2.1" fill="#d4a8d8" opacity="0.85" stroke="#9a58ac" stroke-width="0.7"/>
<ellipse cx="380.4" cy="201.2" rx="1.2" ry="0.8" fill="#ecdcf0" opacity="0.8"/>
<ellipse cx="385.0" cy="202.2" rx="2.2" ry="1.9" fill="#d4a8d8" opacity="0.85" stroke="#9a58ac" stroke-width="0.7"/>
<ellipse cx="385.0" cy="202.2" rx="1.2" ry="0.8" fill="#ecdcf0" opacity="0.8"/>
<ellipse cx="391.0" cy="201.3" rx="2.7" ry="2.1" fill="#d4a8d8" opacity="0.85" stroke="#9a58ac" stroke-width="0.7"/>
<ellipse cx="391.0" cy="201.3" rx="1.5" ry="0.9" fill="#ecdcf0" opacity="0.8"/>
<ellipse cx="396.8" cy="201.5" rx="2.0" ry="1.9" fill="#d4a8d8" opacity="0.85" stroke="#9a58ac" stroke-width="0.7"/>
<ellipse cx="396.8" cy="201.5" rx="1.1" ry="0.8" fill="#ecdcf0" opacity="0.8"/>
<ellipse cx="402.8" cy="202.0" rx="2.7" ry="1.9" fill="#d4a8d8" opacity="0.85" stroke="#9a58ac" stroke-width="0.7"/>
<ellipse cx="402.8" cy="202.0" rx="1.5" ry="0.8" fill="#ecdcf0" opacity="0.8"/>
<ellipse cx="281.6" cy="206.3" rx="2.4" ry="2.0" fill="#d4a8d8" opacity="0.85" stroke="#9a58ac" stroke-width="0.7"/>
<ellipse cx="281.6" cy="206.3" rx="1.3" ry="0.8" fill="#ecdcf0" opacity="0.8"/>
<ellipse cx="287.6" cy="206.8" rx="2.5" ry="2.0" fill="#d4a8d8" opacity="0.85" stroke="#9a58ac" stroke-width="0.7"/>
<ellipse cx="287.6" cy="206.8" rx="1.4" ry="0.8" fill="#ecdcf0" opacity="0.8"/>
<ellipse cx="293.6" cy="206.4" rx="2.8" ry="2.1" fill="#d4a8d8" opacity="0.85" stroke="#9a58ac" stroke-width="0.7"/>
<ellipse cx="293.6" cy="206.4" rx="1.5" ry="0.9" fill="#ecdcf0" opacity="0.8"/>
<ellipse cx="298.3" cy="206.6" rx="2.4" ry="2.0" fill="#d4a8d8" opacity="0.85" stroke="#9a58ac" stroke-width="0.7"/>
<ellipse cx="298.3" cy="206.6" rx="1.3" ry="0.8" fill="#ecdcf0" opacity="0.8"/>
<ellipse cx="304.5" cy="206.6" rx="2.2" ry="2.3" fill="#d4a8d8" opacity="0.85" stroke="#9a58ac" stroke-width="0.7"/>
<ellipse cx="304.5" cy="206.6" rx="1.2" ry="0.9" fill="#ecdcf0" opacity="0.8"/>
<ellipse cx="309.7" cy="207.1" rx="2.7" ry="2.2" fill="#d4a8d8" opacity="0.85" stroke="#9a58ac" stroke-width="0.7"/>
<ellipse cx="309.7" cy="207.1" rx="1.5" ry="0.9" fill="#ecdcf0" opacity="0.8"/>
<ellipse cx="315.5" cy="207.3" rx="2.3" ry="2.4" fill="#d4a8d8" opacity="0.85" stroke="#9a58ac" stroke-width="0.7"/>
<ellipse cx="315.5" cy="207.3" rx="1.3" ry="1.0" fill="#ecdcf0" opacity="0.8"/>
<ellipse cx="320.7" cy="206.7" rx="2.5" ry="1.7" fill="#d4a8d8" opacity="0.85" stroke="#9a58ac" stroke-width="0.7"/>
<ellipse cx="320.7" cy="206.7" rx="1.4" ry="0.7" fill="#ecdcf0" opacity="0.8"/>
<ellipse cx="327.2" cy="206.3" rx="2.5" ry="1.8" fill="#d4a8d8" opacity="0.85" stroke="#9a58ac" stroke-width="0.7"/>
<ellipse cx="327.2" cy="206.3" rx="1.4" ry="0.7" fill="#ecdcf0" opacity="0.8"/>
<ellipse cx="332.9" cy="206.9" rx="2.7" ry="2.1" fill="#d4a8d8" opacity="0.85" stroke="#9a58ac" stroke-width="0.7"/>
<ellipse cx="332.9" cy="206.9" rx="1.5" ry="0.8" fill="#ecdcf0" opacity="0.8"/>
<ellipse cx="338.2" cy="207.0" rx="2.2" ry="1.9" fill="#d4a8d8" opacity="0.85" stroke="#9a58ac" stroke-width="0.7"/>
<ellipse cx="338.2" cy="207.0" rx="1.2" ry="0.7" fill="#ecdcf0" opacity="0.8"/>
<ellipse cx="344.0" cy="206.4" rx="2.8" ry="1.9" fill="#d4a8d8" opacity="0.85" stroke="#9a58ac" stroke-width="0.7"/>
<ellipse cx="344.0" cy="206.4" rx="1.5" ry="0.7" fill="#ecdcf0" opacity="0.8"/>
<ellipse cx="348.7" cy="206.3" rx="2.7" ry="2.5" fill="#d4a8d8" opacity="0.85" stroke="#9a58ac" stroke-width="0.7"/>
<ellipse cx="348.7" cy="206.3" rx="1.5" ry="1.0" fill="#ecdcf0" opacity="0.8"/>
<ellipse cx="354.7" cy="207.0" rx="2.2" ry="2.4" fill="#d4a8d8" opacity="0.85" stroke="#9a58ac" stroke-width="0.7"/>
<ellipse cx="354.7" cy="207.0" rx="1.2" ry="1.0" fill="#ecdcf0" opacity="0.8"/>
<ellipse cx="360.6" cy="206.4" rx="2.0" ry="2.3" fill="#d4a8d8" opacity="0.85" stroke="#9a58ac" stroke-width="0.7"/>
<ellipse cx="360.6" cy="206.4" rx="1.1" ry="0.9" fill="#ecdcf0" opacity="0.8"/>
<ellipse cx="365.5" cy="207.2" rx="2.2" ry="1.9" fill="#d4a8d8" opacity="0.85" stroke="#9a58ac" stroke-width="0.7"/>
<ellipse cx="365.5" cy="207.2" rx="1.2" ry="0.8" fill="#ecdcf0" opacity="0.8"/>
<ellipse cx="371.7" cy="206.6" rx="2.5" ry="1.8" fill="#d4a8d8" opacity="0.85" stroke="#9a58ac" stroke-width="0.7"/>
<ellipse cx="371.7" cy="206.6" rx="1.4" ry="0.7" fill="#ecdcf0" opacity="0.8"/>
<ellipse cx="377.7" cy="206.6" rx="2.7" ry="1.8" fill="#d4a8d8" opacity="0.85" stroke="#9a58ac" stroke-width="0.7"/>
<ellipse cx="377.7" cy="206.6" rx="1.5" ry="0.7" fill="#ecdcf0" opacity="0.8"/>
<ellipse cx="383.2" cy="207.4" rx="2.3" ry="1.7" fill="#d4a8d8" opacity="0.85" stroke="#9a58ac" stroke-width="0.7"/>
<ellipse cx="383.2" cy="207.4" rx="1.3" ry="0.7" fill="#ecdcf0" opacity="0.8"/>
<ellipse cx="388.3" cy="207.0" rx="2.1" ry="2.1" fill="#d4a8d8" opacity="0.85" stroke="#9a58ac" stroke-width="0.7"/>
<ellipse cx="388.3" cy="207.0" rx="1.2" ry="0.9" fill="#ecdcf0" opacity="0.8"/>
<ellipse cx="393.5" cy="206.8" rx="2.6" ry="2.0" fill="#d4a8d8" opacity="0.85" stroke="#9a58ac" stroke-width="0.7"/>
<ellipse cx="393.5" cy="206.8" rx="1.4" ry="0.8" fill="#ecdcf0" opacity="0.8"/>
<ellipse cx="399.8" cy="206.3" rx="2.7" ry="1.8" fill="#d4a8d8" opacity="0.85" stroke="#9a58ac" stroke-width="0.7"/>
<ellipse cx="399.8" cy="206.3" rx="1.5" ry="0.7" fill="#ecdcf0" opacity="0.8"/>
<ellipse cx="285.3" cy="212.6" rx="2.8" ry="2.1" fill="#d4a8d8" opacity="0.85" stroke="#9a58ac" stroke-width="0.7"/>
<ellipse cx="285.3" cy="212.6" rx="1.6" ry="0.8" fill="#ecdcf0" opacity="0.8"/>
<ellipse cx="290.1" cy="211.8" rx="2.6" ry="2.1" fill="#d4a8d8" opacity="0.85" stroke="#9a58ac" stroke-width="0.7"/>
<ellipse cx="290.1" cy="211.8" rx="1.5" ry="0.8" fill="#ecdcf0" opacity="0.8"/>
<ellipse cx="296.5" cy="211.5" rx="2.4" ry="2.4" fill="#d4a8d8" opacity="0.85" stroke="#9a58ac" stroke-width="0.7"/>
<ellipse cx="296.5" cy="211.5" rx="1.3" ry="1.0" fill="#ecdcf0" opacity="0.8"/>
<ellipse cx="301.7" cy="212.0" rx="2.0" ry="1.8" fill="#d4a8d8" opacity="0.85" stroke="#9a58ac" stroke-width="0.7"/>
<ellipse cx="301.7" cy="212.0" rx="1.1" ry="0.7" fill="#ecdcf0" opacity="0.8"/>
<ellipse cx="306.9" cy="212.5" rx="2.7" ry="1.9" fill="#d4a8d8" opacity="0.85" stroke="#9a58ac" stroke-width="0.7"/>
<ellipse cx="306.9" cy="212.5" rx="1.5" ry="0.7" fill="#ecdcf0" opacity="0.8"/>
<ellipse cx="313.3" cy="211.4" rx="2.5" ry="2.5" fill="#d4a8d8" opacity="0.85" stroke="#9a58ac" stroke-width="0.7"/>
<ellipse cx="313.3" cy="211.4" rx="1.4" ry="1.0" fill="#ecdcf0" opacity="0.8"/>
<ellipse cx="318.2" cy="212.5" rx="2.6" ry="1.7" fill="#d4a8d8" opacity="0.85" stroke="#9a58ac" stroke-width="0.7"/>
<ellipse cx="318.2" cy="212.5" rx="1.4" ry="0.7" fill="#ecdcf0" opacity="0.8"/>
<ellipse cx="323.8" cy="211.9" rx="2.2" ry="2.3" fill="#d4a8d8" opacity="0.85" stroke="#9a58ac" stroke-width="0.7"/>
<ellipse cx="323.8" cy="211.9" rx="1.2" ry="0.9" fill="#ecdcf0" opacity="0.8"/>
<ellipse cx="329.2" cy="212.3" rx="2.2" ry="1.7" fill="#d4a8d8" opacity="0.85" stroke="#9a58ac" stroke-width="0.7"/>
<ellipse cx="329.2" cy="212.3" rx="1.2" ry="0.7" fill="#ecdcf0" opacity="0.8"/>
<ellipse cx="335.3" cy="211.5" rx="2.4" ry="2.3" fill="#d4a8d8" opacity="0.85" stroke="#9a58ac" stroke-width="0.7"/>
<ellipse cx="335.3" cy="211.5" rx="1.3" ry="0.9" fill="#ecdcf0" opacity="0.8"/>
<ellipse cx="340.9" cy="212.0" rx="2.0" ry="2.1" fill="#d4a8d8" opacity="0.85" stroke="#9a58ac" stroke-width="0.7"/>
<ellipse cx="340.9" cy="212.0" rx="1.1" ry="0.8" fill="#ecdcf0" opacity="0.8"/>
<ellipse cx="345.9" cy="212.2" rx="2.0" ry="2.2" fill="#d4a8d8" opacity="0.85" stroke="#9a58ac" stroke-width="0.7"/>
<ellipse cx="345.9" cy="212.2" rx="1.1" ry="0.9" fill="#ecdcf0" opacity="0.8"/>
<ellipse cx="351.8" cy="211.8" rx="2.6" ry="1.8" fill="#d4a8d8" opacity="0.85" stroke="#9a58ac" stroke-width="0.7"/>
<ellipse cx="351.8" cy="211.8" rx="1.4" ry="0.7" fill="#ecdcf0" opacity="0.8"/>
<ellipse cx="357.2" cy="212.5" rx="2.2" ry="2.4" fill="#d4a8d8" opacity="0.85" stroke="#9a58ac" stroke-width="0.7"/>
<ellipse cx="357.2" cy="212.5" rx="1.2" ry="1.0" fill="#ecdcf0" opacity="0.8"/>
<ellipse cx="363.6" cy="212.0" rx="2.1" ry="1.8" fill="#d4a8d8" opacity="0.85" stroke="#9a58ac" stroke-width="0.7"/>
<ellipse cx="363.6" cy="212.0" rx="1.1" ry="0.7" fill="#ecdcf0" opacity="0.8"/>
<ellipse cx="369.3" cy="211.5" rx="2.4" ry="2.1" fill="#d4a8d8" opacity="0.85" stroke="#9a58ac" stroke-width="0.7"/>
<ellipse cx="369.3" cy="211.5" rx="1.3" ry="0.9" fill="#ecdcf0" opacity="0.8"/>
<ellipse cx="373.9" cy="212.0" rx="2.1" ry="2.1" fill="#d4a8d8" opacity="0.85" stroke="#9a58ac" stroke-width="0.7"/>
<ellipse cx="373.9" cy="212.0" rx="1.1" ry="0.9" fill="#ecdcf0" opacity="0.8"/>
<ellipse cx="380.0" cy="211.8" rx="2.1" ry="2.0" fill="#d4a8d8" opacity="0.85" stroke="#9a58ac" stroke-width="0.7"/>
<ellipse cx="380.0" cy="211.8" rx="1.2" ry="0.8" fill="#ecdcf0" opacity="0.8"/>
<ellipse cx="385.2" cy="211.6" rx="2.2" ry="2.4" fill="#d4a8d8" opacity="0.85" stroke="#9a58ac" stroke-width="0.7"/>
<ellipse cx="385.2" cy="211.6" rx="1.2" ry="1.0" fill="#ecdcf0" opacity="0.8"/>
<ellipse cx="391.2" cy="212.5" rx="1.9" ry="2.5" fill="#d4a8d8" opacity="0.85" stroke="#9a58ac" stroke-width="0.7"/>
<ellipse cx="391.2" cy="212.5" rx="1.1" ry="1.0" fill="#ecdcf0" opacity="0.8"/>
<ellipse cx="396.8" cy="212.3" rx="2.5" ry="2.3" fill="#d4a8d8" opacity="0.85" stroke="#9a58ac" stroke-width="0.7"/>
<ellipse cx="396.8" cy="212.3" rx="1.4" ry="0.9" fill="#ecdcf0" opacity="0.8"/>
<ellipse cx="402.1" cy="212.3" rx="2.1" ry="1.9" fill="#d4a8d8" opacity="0.85" stroke="#9a58ac" stroke-width="0.7"/>
<ellipse cx="402.1" cy="212.3" rx="1.1" ry="0.8" fill="#ecdcf0" opacity="0.8"/>
<ellipse cx="281.4" cy="217.1" rx="2.4" ry="1.9" fill="#d4a8d8" opacity="0.85" stroke="#9a58ac" stroke-width="0.7"/>
<ellipse cx="281.4" cy="217.1" rx="1.3" ry="0.8" fill="#ecdcf0" opacity="0.8"/>
<ellipse cx="288.1" cy="216.7" rx="2.5" ry="1.9" fill="#d4a8d8" opacity="0.85" stroke="#9a58ac" stroke-width="0.7"/>
<ellipse cx="288.1" cy="216.7" rx="1.4" ry="0.8" fill="#ecdcf0" opacity="0.8"/>
<ellipse cx="293.3" cy="217.5" rx="2.6" ry="1.7" fill="#d4a8d8" opacity="0.85" stroke="#9a58ac" stroke-width="0.7"/>
<ellipse cx="293.3" cy="217.5" rx="1.4" ry="0.7" fill="#ecdcf0" opacity="0.8"/>
<ellipse cx="298.5" cy="217.3" rx="2.9" ry="1.7" fill="#d4a8d8" opacity="0.85" stroke="#9a58ac" stroke-width="0.7"/>
<ellipse cx="298.5" cy="217.3" rx="1.6" ry="0.7" fill="#ecdcf0" opacity="0.8"/>
<ellipse cx="304.5" cy="217.4" rx="2.7" ry="2.0" fill="#d4a8d8" opacity="0.85" stroke="#9a58ac" stroke-width="0.7"/>
<ellipse cx="304.5" cy="217.4" rx="1.5" ry="0.8" fill="#ecdcf0" opacity="0.8"/>
<ellipse cx="310.4" cy="217.2" rx="2.8" ry="1.7" fill="#d4a8d8" opacity="0.85" stroke="#9a58ac" stroke-width="0.7"/>
<ellipse cx="310.4" cy="217.2" rx="1.5" ry="0.7" fill="#ecdcf0" opacity="0.8"/>
<ellipse cx="316.1" cy="217.1" rx="2.3" ry="1.8" fill="#d4a8d8" opacity="0.85" stroke="#9a58ac" stroke-width="0.7"/>
<ellipse cx="316.1" cy="217.1" rx="1.3" ry="0.7" fill="#ecdcf0" opacity="0.8"/>
<ellipse cx="320.9" cy="217.5" rx="2.6" ry="1.8" fill="#d4a8d8" opacity="0.85" stroke="#9a58ac" stroke-width="0.7"/>
<ellipse cx="320.9" cy="217.5" rx="1.4" ry="0.7" fill="#ecdcf0" opacity="0.8"/>
<ellipse cx="326.6" cy="216.8" rx="2.1" ry="1.9" fill="#d4a8d8" opacity="0.85" stroke="#9a58ac" stroke-width="0.7"/>
<ellipse cx="326.6" cy="216.8" rx="1.2" ry="0.7" fill="#ecdcf0" opacity="0.8"/>
<ellipse cx="332.2" cy="217.8" rx="2.9" ry="2.3" fill="#d4a8d8" opacity="0.85" stroke="#9a58ac" stroke-width="0.7"/>
<ellipse cx="332.2" cy="217.8" rx="1.6" ry="0.9" fill="#ecdcf0" opacity="0.8"/>
<ellipse cx="338.0" cy="217.2" rx="2.7" ry="2.4" fill="#d4a8d8" opacity="0.85" stroke="#9a58ac" stroke-width="0.7"/>
<ellipse cx="338.0" cy="217.2" rx="1.5" ry="1.0" fill="#ecdcf0" opacity="0.8"/>
<ellipse cx="343.9" cy="217.4" rx="2.1" ry="2.2" fill="#d4a8d8" opacity="0.85" stroke="#9a58ac" stroke-width="0.7"/>
<ellipse cx="343.9" cy="217.4" rx="1.2" ry="0.9" fill="#ecdcf0" opacity="0.8"/>
<ellipse cx="349.6" cy="217.5" rx="2.0" ry="2.3" fill="#d4a8d8" opacity="0.85" stroke="#9a58ac" stroke-width="0.7"/>
<ellipse cx="349.6" cy="217.5" rx="1.1" ry="0.9" fill="#ecdcf0" opacity="0.8"/>
<ellipse cx="354.6" cy="216.8" rx="2.8" ry="2.2" fill="#d4a8d8" opacity="0.85" stroke="#9a58ac" stroke-width="0.7"/>
<ellipse cx="354.6" cy="216.8" rx="1.6" ry="0.9" fill="#ecdcf0" opacity="0.8"/>
<ellipse cx="360.7" cy="216.8" rx="2.7" ry="2.5" fill="#d4a8d8" opacity="0.85" stroke="#9a58ac" stroke-width="0.7"/>
<ellipse cx="360.7" cy="216.8" rx="1.5" ry="1.0" fill="#ecdcf0" opacity="0.8"/>
<ellipse cx="366.5" cy="217.5" rx="2.7" ry="2.4" fill="#d4a8d8" opacity="0.85" stroke="#9a58ac" stroke-width="0.7"/>
<ellipse cx="366.5" cy="217.5" rx="1.5" ry="0.9" fill="#ecdcf0" opacity="0.8"/>
<ellipse cx="371.7" cy="217.1" rx="2.7" ry="2.3" fill="#d4a8d8" opacity="0.85" stroke="#9a58ac" stroke-width="0.7"/>
<ellipse cx="371.7" cy="217.1" rx="1.5" ry="0.9" fill="#ecdcf0" opacity="0.8"/>
<ellipse cx="377.6" cy="217.0" rx="2.8" ry="2.1" fill="#d4a8d8" opacity="0.85" stroke="#9a58ac" stroke-width="0.7"/>
<ellipse cx="377.6" cy="217.0" rx="1.6" ry="0.9" fill="#ecdcf0" opacity="0.8"/>
<ellipse cx="383.3" cy="216.7" rx="2.8" ry="2.3" fill="#d4a8d8" opacity="0.85" stroke="#9a58ac" stroke-width="0.7"/>
<ellipse cx="383.3" cy="216.7" rx="1.6" ry="0.9" fill="#ecdcf0" opacity="0.8"/>
<ellipse cx="388.1" cy="217.6" rx="2.1" ry="1.8" fill="#d4a8d8" opacity="0.85" stroke="#9a58ac" stroke-width="0.7"/>
<ellipse cx="388.1" cy="217.6" rx="1.2" ry="0.7" fill="#ecdcf0" opacity="0.8"/>
<ellipse cx="393.9" cy="216.9" rx="2.4" ry="2.4" fill="#d4a8d8" opacity="0.85" stroke="#9a58ac" stroke-width="0.7"/>
<ellipse cx="393.9" cy="216.9" rx="1.3" ry="1.0" fill="#ecdcf0" opacity="0.8"/>
<ellipse cx="399.8" cy="217.5" rx="2.3" ry="2.3" fill="#d4a8d8" opacity="0.85" stroke="#9a58ac" stroke-width="0.7"/>
<ellipse cx="399.8" cy="217.5" rx="1.3" ry="0.9" fill="#ecdcf0" opacity="0.8"/>
<ellipse cx="285.2" cy="222.6" rx="2.8" ry="2.4" fill="#d4a8d8" opacity="0.85" stroke="#9a58ac" stroke-width="0.7"/>
<ellipse cx="285.2" cy="222.6" rx="1.6" ry="0.9" fill="#ecdcf0" opacity="0.8"/>
<ellipse cx="290.3" cy="221.9" rx="2.5" ry="2.4" fill="#d4a8d8" opacity="0.85" stroke="#9a58ac" stroke-width="0.7"/>
<ellipse cx="290.3" cy="221.9" rx="1.4" ry="1.0" fill="#ecdcf0" opacity="0.8"/>
<ellipse cx="295.8" cy="222.5" rx="2.7" ry="2.3" fill="#d4a8d8" opacity="0.85" stroke="#9a58ac" stroke-width="0.7"/>
<ellipse cx="295.8" cy="222.5" rx="1.5" ry="0.9" fill="#ecdcf0" opacity="0.8"/>
<ellipse cx="301.0" cy="222.4" rx="1.9" ry="1.8" fill="#d4a8d8" opacity="0.85" stroke="#9a58ac" stroke-width="0.7"/>
<ellipse cx="301.0" cy="222.4" rx="1.1" ry="0.7" fill="#ecdcf0" opacity="0.8"/>
<ellipse cx="307.6" cy="222.3" rx="2.5" ry="2.1" fill="#d4a8d8" opacity="0.85" stroke="#9a58ac" stroke-width="0.7"/>
<ellipse cx="307.6" cy="222.3" rx="1.4" ry="0.8" fill="#ecdcf0" opacity="0.8"/>
<ellipse cx="312.6" cy="222.1" rx="2.3" ry="2.4" fill="#d4a8d8" opacity="0.85" stroke="#9a58ac" stroke-width="0.7"/>
<ellipse cx="312.6" cy="222.1" rx="1.2" ry="1.0" fill="#ecdcf0" opacity="0.8"/>
<ellipse cx="318.5" cy="222.2" rx="2.0" ry="1.9" fill="#d4a8d8" opacity="0.85" stroke="#9a58ac" stroke-width="0.7"/>
<ellipse cx="318.5" cy="222.2" rx="1.1" ry="0.8" fill="#ecdcf0" opacity="0.8"/>
<ellipse cx="324.2" cy="222.3" rx="2.6" ry="2.4" fill="#d4a8d8" opacity="0.85" stroke="#9a58ac" stroke-width="0.7"/>
<ellipse cx="324.2" cy="222.3" rx="1.4" ry="0.9" fill="#ecdcf0" opacity="0.8"/>
<ellipse cx="329.1" cy="222.6" rx="2.0" ry="2.4" fill="#d4a8d8" opacity="0.85" stroke="#9a58ac" stroke-width="0.7"/>
<ellipse cx="329.1" cy="222.6" rx="1.1" ry="0.9" fill="#ecdcf0" opacity="0.8"/>
<ellipse cx="334.8" cy="222.1" rx="2.8" ry="2.0" fill="#d4a8d8" opacity="0.85" stroke="#9a58ac" stroke-width="0.7"/>
<ellipse cx="334.8" cy="222.1" rx="1.6" ry="0.8" fill="#ecdcf0" opacity="0.8"/>
<ellipse cx="340.5" cy="222.9" rx="2.5" ry="2.4" fill="#d4a8d8" opacity="0.85" stroke="#9a58ac" stroke-width="0.7"/>
<ellipse cx="340.5" cy="222.9" rx="1.4" ry="1.0" fill="#ecdcf0" opacity="0.8"/>
<ellipse cx="346.3" cy="222.4" rx="2.8" ry="2.1" fill="#d4a8d8" opacity="0.85" stroke="#9a58ac" stroke-width="0.7"/>
<ellipse cx="346.3" cy="222.4" rx="1.6" ry="0.8" fill="#ecdcf0" opacity="0.8"/>
<ellipse cx="352.6" cy="222.0" rx="2.7" ry="1.8" fill="#d4a8d8" opacity="0.85" stroke="#9a58ac" stroke-width="0.7"/>
<ellipse cx="352.6" cy="222.0" rx="1.5" ry="0.7" fill="#ecdcf0" opacity="0.8"/>
<ellipse cx="357.6" cy="221.8" rx="2.1" ry="2.5" fill="#d4a8d8" opacity="0.85" stroke="#9a58ac" stroke-width="0.7"/>
<ellipse cx="357.6" cy="221.8" rx="1.1" ry="1.0" fill="#ecdcf0" opacity="0.8"/>
<ellipse cx="363.1" cy="222.8" rx="2.2" ry="2.0" fill="#d4a8d8" opacity="0.85" stroke="#9a58ac" stroke-width="0.7"/>
<ellipse cx="363.1" cy="222.8" rx="1.2" ry="0.8" fill="#ecdcf0" opacity="0.8"/>
<ellipse cx="368.3" cy="222.5" rx="2.7" ry="2.1" fill="#d4a8d8" opacity="0.85" stroke="#9a58ac" stroke-width="0.7"/>
<ellipse cx="368.3" cy="222.5" rx="1.5" ry="0.8" fill="#ecdcf0" opacity="0.8"/>
<ellipse cx="374.3" cy="222.9" rx="2.8" ry="2.2" fill="#d4a8d8" opacity="0.85" stroke="#9a58ac" stroke-width="0.7"/>
<ellipse cx="374.3" cy="222.9" rx="1.5" ry="0.9" fill="#ecdcf0" opacity="0.8"/>
<ellipse cx="379.5" cy="222.5" rx="2.3" ry="2.5" fill="#d4a8d8" opacity="0.85" stroke="#9a58ac" stroke-width="0.7"/>
<ellipse cx="379.5" cy="222.5" rx="1.3" ry="1.0" fill="#ecdcf0" opacity="0.8"/>
<ellipse cx="385.4" cy="222.6" rx="2.5" ry="2.0" fill="#d4a8d8" opacity="0.85" stroke="#9a58ac" stroke-width="0.7"/>
<ellipse cx="385.4" cy="222.6" rx="1.4" ry="0.8" fill="#ecdcf0" opacity="0.8"/>
<ellipse cx="391.2" cy="222.6" rx="2.8" ry="2.1" fill="#d4a8d8" opacity="0.85" stroke="#9a58ac" stroke-width="0.7"/>
<ellipse cx="391.2" cy="222.6" rx="1.5" ry="0.8" fill="#ecdcf0" opacity="0.8"/>
<ellipse cx="396.6" cy="223.0" rx="2.0" ry="2.4" fill="#d4a8d8" opacity="0.85" stroke="#9a58ac" stroke-width="0.7"/>
<ellipse cx="396.6" cy="223.0" rx="1.1" ry="1.0" fill="#ecdcf0" opacity="0.8"/>
<ellipse cx="402.6" cy="222.5" rx="2.3" ry="2.3" fill="#d4a8d8" opacity="0.85" stroke="#9a58ac" stroke-width="0.7"/>
<ellipse cx="402.6" cy="222.5" rx="1.3" ry="0.9" fill="#ecdcf0" opacity="0.8"/>
<ellipse cx="282.5" cy="227.9" rx="2.6" ry="1.7" fill="#d4a8d8" opacity="0.85" stroke="#9a58ac" stroke-width="0.7"/>
<ellipse cx="282.5" cy="227.9" rx="1.5" ry="0.7" fill="#ecdcf0" opacity="0.8"/>
<ellipse cx="287.4" cy="227.2" rx="2.8" ry="2.4" fill="#d4a8d8" opacity="0.85" stroke="#9a58ac" stroke-width="0.7"/>
<ellipse cx="287.4" cy="227.2" rx="1.6" ry="1.0" fill="#ecdcf0" opacity="0.8"/>
<ellipse cx="292.8" cy="227.7" rx="2.5" ry="1.7" fill="#d4a8d8" opacity="0.85" stroke="#9a58ac" stroke-width="0.7"/>
<ellipse cx="292.8" cy="227.7" rx="1.4" ry="0.7" fill="#ecdcf0" opacity="0.8"/>
<ellipse cx="298.7" cy="227.9" rx="2.5" ry="1.9" fill="#d4a8d8" opacity="0.85" stroke="#9a58ac" stroke-width="0.7"/>
<ellipse cx="298.7" cy="227.9" rx="1.4" ry="0.8" fill="#ecdcf0" opacity="0.8"/>
<ellipse cx="304.7" cy="227.3" rx="2.4" ry="2.0" fill="#d4a8d8" opacity="0.85" stroke="#9a58ac" stroke-width="0.7"/>
<ellipse cx="304.7" cy="227.3" rx="1.3" ry="0.8" fill="#ecdcf0" opacity="0.8"/>
<ellipse cx="310.6" cy="227.8" rx="2.7" ry="2.2" fill="#d4a8d8" opacity="0.85" stroke="#9a58ac" stroke-width="0.7"/>
<ellipse cx="310.6" cy="227.8" rx="1.5" ry="0.9" fill="#ecdcf0" opacity="0.8"/>
<ellipse cx="315.5" cy="228.2" rx="2.6" ry="2.3" fill="#d4a8d8" opacity="0.85" stroke="#9a58ac" stroke-width="0.7"/>
<ellipse cx="315.5" cy="228.2" rx="1.4" ry="0.9" fill="#ecdcf0" opacity="0.8"/>
<ellipse cx="320.9" cy="227.2" rx="2.5" ry="2.4" fill="#d4a8d8" opacity="0.85" stroke="#9a58ac" stroke-width="0.7"/>
<ellipse cx="320.9" cy="227.2" rx="1.4" ry="0.9" fill="#ecdcf0" opacity="0.8"/>
<ellipse cx="327.2" cy="227.4" rx="2.1" ry="2.1" fill="#d4a8d8" opacity="0.85" stroke="#9a58ac" stroke-width="0.7"/>
<ellipse cx="327.2" cy="227.4" rx="1.1" ry="0.8" fill="#ecdcf0" opacity="0.8"/>
<ellipse cx="332.9" cy="227.2" rx="2.6" ry="1.8" fill="#d4a8d8" opacity="0.85" stroke="#9a58ac" stroke-width="0.7"/>
<ellipse cx="332.9" cy="227.2" rx="1.4" ry="0.7" fill="#ecdcf0" opacity="0.8"/>
<ellipse cx="337.8" cy="227.1" rx="2.2" ry="2.0" fill="#d4a8d8" opacity="0.85" stroke="#9a58ac" stroke-width="0.7"/>
<ellipse cx="337.8" cy="227.1" rx="1.2" ry="0.8" fill="#ecdcf0" opacity="0.8"/>
<ellipse cx="344.2" cy="228.2" rx="2.1" ry="1.9" fill="#d4a8d8" opacity="0.85" stroke="#9a58ac" stroke-width="0.7"/>
<ellipse cx="344.2" cy="228.2" rx="1.2" ry="0.8" fill="#ecdcf0" opacity="0.8"/>
<ellipse cx="349.7" cy="227.2" rx="2.2" ry="2.0" fill="#d4a8d8" opacity="0.85" stroke="#9a58ac" stroke-width="0.7"/>
<ellipse cx="349.7" cy="227.2" rx="1.2" ry="0.8" fill="#ecdcf0" opacity="0.8"/>
<ellipse cx="354.3" cy="227.3" rx="2.3" ry="2.0" fill="#d4a8d8" opacity="0.85" stroke="#9a58ac" stroke-width="0.7"/>
<ellipse cx="354.3" cy="227.3" rx="1.3" ry="0.8" fill="#ecdcf0" opacity="0.8"/>
<ellipse cx="361.0" cy="227.3" rx="2.1" ry="2.4" fill="#d4a8d8" opacity="0.85" stroke="#9a58ac" stroke-width="0.7"/>
<ellipse cx="361.0" cy="227.3" rx="1.2" ry="1.0" fill="#ecdcf0" opacity="0.8"/>
<ellipse cx="365.9" cy="228.0" rx="2.5" ry="2.3" fill="#d4a8d8" opacity="0.85" stroke="#9a58ac" stroke-width="0.7"/>
<ellipse cx="365.9" cy="228.0" rx="1.4" ry="0.9" fill="#ecdcf0" opacity="0.8"/>
<ellipse cx="371.4" cy="227.2" rx="2.6" ry="2.1" fill="#d4a8d8" opacity="0.85" stroke="#9a58ac" stroke-width="0.7"/>
<ellipse cx="371.4" cy="227.2" rx="1.5" ry="0.8" fill="#ecdcf0" opacity="0.8"/>
<ellipse cx="377.3" cy="227.8" rx="2.6" ry="1.9" fill="#d4a8d8" opacity="0.85" stroke="#9a58ac" stroke-width="0.7"/>
<ellipse cx="377.3" cy="227.8" rx="1.5" ry="0.8" fill="#ecdcf0" opacity="0.8"/>
<ellipse cx="382.6" cy="228.1" rx="2.4" ry="1.9" fill="#d4a8d8" opacity="0.85" stroke="#9a58ac" stroke-width="0.7"/>
<ellipse cx="382.6" cy="228.1" rx="1.3" ry="0.8" fill="#ecdcf0" opacity="0.8"/>
<ellipse cx="388.6" cy="227.3" rx="2.7" ry="1.7" fill="#d4a8d8" opacity="0.85" stroke="#9a58ac" stroke-width="0.7"/>
<ellipse cx="388.6" cy="227.3" rx="1.5" ry="0.7" fill="#ecdcf0" opacity="0.8"/>
<ellipse cx="394.4" cy="227.7" rx="2.3" ry="2.5" fill="#d4a8d8" opacity="0.85" stroke="#9a58ac" stroke-width="0.7"/>
<ellipse cx="394.4" cy="227.7" rx="1.2" ry="1.0" fill="#ecdcf0" opacity="0.8"/>
<ellipse cx="399.3" cy="227.3" rx="2.0" ry="2.1" fill="#d4a8d8" opacity="0.85" stroke="#9a58ac" stroke-width="0.7"/>
<ellipse cx="399.3" cy="227.3" rx="1.1" ry="0.9" fill="#ecdcf0" opacity="0.8"/>
<ellipse cx="285.1" cy="233.0" rx="2.3" ry="2.4" fill="#d4a8d8" opacity="0.85" stroke="#9a58ac" stroke-width="0.7"/>
<ellipse cx="285.1" cy="233.0" rx="1.3" ry="0.9" fill="#ecdcf0" opacity="0.8"/>
<ellipse cx="289.9" cy="232.6" rx="2.5" ry="2.5" fill="#d4a8d8" opacity="0.85" stroke="#9a58ac" stroke-width="0.7"/>
<ellipse cx="289.9" cy="232.6" rx="1.4" ry="1.0" fill="#ecdcf0" opacity="0.8"/>
<ellipse cx="296.2" cy="233.0" rx="2.7" ry="2.0" fill="#d4a8d8" opacity="0.85" stroke="#9a58ac" stroke-width="0.7"/>
<ellipse cx="296.2" cy="233.0" rx="1.5" ry="0.8" fill="#ecdcf0" opacity="0.8"/>
<ellipse cx="302.1" cy="233.1" rx="2.2" ry="2.0" fill="#d4a8d8" opacity="0.85" stroke="#9a58ac" stroke-width="0.7"/>
<ellipse cx="302.1" cy="233.1" rx="1.2" ry="0.8" fill="#ecdcf0" opacity="0.8"/>
<ellipse cx="307.6" cy="232.6" rx="2.1" ry="2.4" fill="#d4a8d8" opacity="0.85" stroke="#9a58ac" stroke-width="0.7"/>
<ellipse cx="307.6" cy="232.6" rx="1.2" ry="1.0" fill="#ecdcf0" opacity="0.8"/>
<ellipse cx="312.8" cy="232.8" rx="2.6" ry="2.4" fill="#d4a8d8" opacity="0.85" stroke="#9a58ac" stroke-width="0.7"/>
<ellipse cx="312.8" cy="232.8" rx="1.4" ry="1.0" fill="#ecdcf0" opacity="0.8"/>
<ellipse cx="318.0" cy="232.6" rx="2.0" ry="2.0" fill="#d4a8d8" opacity="0.85" stroke="#9a58ac" stroke-width="0.7"/>
<ellipse cx="318.0" cy="232.6" rx="1.1" ry="0.8" fill="#ecdcf0" opacity="0.8"/>
<ellipse cx="324.0" cy="233.2" rx="2.6" ry="2.2" fill="#d4a8d8" opacity="0.85" stroke="#9a58ac" stroke-width="0.7"/>
<ellipse cx="324.0" cy="233.2" rx="1.4" ry="0.9" fill="#ecdcf0" opacity="0.8"/>
<ellipse cx="329.5" cy="232.9" rx="2.2" ry="2.4" fill="#d4a8d8" opacity="0.85" stroke="#9a58ac" stroke-width="0.7"/>
<ellipse cx="329.5" cy="232.9" rx="1.2" ry="1.0" fill="#ecdcf0" opacity="0.8"/>
<ellipse cx="335.5" cy="233.2" rx="2.1" ry="2.2" fill="#d4a8d8" opacity="0.85" stroke="#9a58ac" stroke-width="0.7"/>
<ellipse cx="335.5" cy="233.2" rx="1.1" ry="0.9" fill="#ecdcf0" opacity="0.8"/>
<ellipse cx="341.1" cy="232.8" rx="2.8" ry="2.4" fill="#d4a8d8" opacity="0.85" stroke="#9a58ac" stroke-width="0.7"/>
<ellipse cx="341.1" cy="232.8" rx="1.5" ry="1.0" fill="#ecdcf0" opacity="0.8"/>
<ellipse cx="346.7" cy="233.2" rx="2.5" ry="2.4" fill="#d4a8d8" opacity="0.85" stroke="#9a58ac" stroke-width="0.7"/>
<ellipse cx="346.7" cy="233.2" rx="1.4" ry="1.0" fill="#ecdcf0" opacity="0.8"/>
<ellipse cx="351.6" cy="233.0" rx="2.6" ry="2.2" fill="#d4a8d8" opacity="0.85" stroke="#9a58ac" stroke-width="0.7"/>
<ellipse cx="351.6" cy="233.0" rx="1.4" ry="0.9" fill="#ecdcf0" opacity="0.8"/>
<ellipse cx="357.3" cy="232.3" rx="2.5" ry="2.4" fill="#d4a8d8" opacity="0.85" stroke="#9a58ac" stroke-width="0.7"/>
<ellipse cx="357.3" cy="232.3" rx="1.4" ry="0.9" fill="#ecdcf0" opacity="0.8"/>
<ellipse cx="362.9" cy="232.5" rx="2.1" ry="1.8" fill="#d4a8d8" opacity="0.85" stroke="#9a58ac" stroke-width="0.7"/>
<ellipse cx="362.9" cy="232.5" rx="1.2" ry="0.7" fill="#ecdcf0" opacity="0.8"/>
<ellipse cx="369.0" cy="233.4" rx="2.7" ry="2.0" fill="#d4a8d8" opacity="0.85" stroke="#9a58ac" stroke-width="0.7"/>
<ellipse cx="369.0" cy="233.4" rx="1.5" ry="0.8" fill="#ecdcf0" opacity="0.8"/>
<ellipse cx="374.6" cy="232.3" rx="2.7" ry="2.0" fill="#d4a8d8" opacity="0.85" stroke="#9a58ac" stroke-width="0.7"/>
<ellipse cx="374.6" cy="232.3" rx="1.5" ry="0.8" fill="#ecdcf0" opacity="0.8"/>
<ellipse cx="379.4" cy="233.0" rx="2.1" ry="1.9" fill="#d4a8d8" opacity="0.85" stroke="#9a58ac" stroke-width="0.7"/>
<ellipse cx="379.4" cy="233.0" rx="1.1" ry="0.8" fill="#ecdcf0" opacity="0.8"/>
<ellipse cx="385.1" cy="232.7" rx="2.5" ry="2.4" fill="#d4a8d8" opacity="0.85" stroke="#9a58ac" stroke-width="0.7"/>
<ellipse cx="385.1" cy="232.7" rx="1.3" ry="0.9" fill="#ecdcf0" opacity="0.8"/>
<ellipse cx="390.6" cy="233.2" rx="2.0" ry="1.9" fill="#d4a8d8" opacity="0.85" stroke="#9a58ac" stroke-width="0.7"/>
<ellipse cx="390.6" cy="233.2" rx="1.1" ry="0.7" fill="#ecdcf0" opacity="0.8"/>
<ellipse cx="397.0" cy="232.6" rx="2.2" ry="2.2" fill="#d4a8d8" opacity="0.85" stroke="#9a58ac" stroke-width="0.7"/>
<ellipse cx="397.0" cy="232.6" rx="1.2" ry="0.9" fill="#ecdcf0" opacity="0.8"/>
<ellipse cx="402.1" cy="233.2" rx="2.1" ry="2.4" fill="#d4a8d8" opacity="0.85" stroke="#9a58ac" stroke-width="0.7"/>
<ellipse cx="402.1" cy="233.2" rx="1.2" ry="1.0" fill="#ecdcf0" opacity="0.8"/>
<ellipse cx="282.2" cy="230.0" rx="3.4" ry="1.2" fill="#d4a6d6" opacity="0.75" transform="rotate(-70 282.2 230.0)"/>
<ellipse cx="285.2" cy="230.0" rx="4.1" ry="0.9" fill="#d4a6d6" opacity="0.75" transform="rotate(-70 285.2 230.0)"/>
<ellipse cx="289.3" cy="230.2" rx="4.3" ry="1.1" fill="#d4a6d6" opacity="0.75" transform="rotate(-70 289.3 230.2)"/>
<ellipse cx="292.8" cy="230.1" rx="3.7" ry="1.3" fill="#d4a6d6" opacity="0.75" transform="rotate(-70 292.8 230.1)"/>
<ellipse cx="296.8" cy="230.2" rx="5.0" ry="1.0" fill="#d4a6d6" opacity="0.75" transform="rotate(-70 296.8 230.2)"/>
<ellipse cx="300.4" cy="229.7" rx="4.2" ry="0.9" fill="#d4a6d6" opacity="0.75" transform="rotate(-70 300.4 229.7)"/>
<ellipse cx="303.6" cy="230.1" rx="4.6" ry="1.1" fill="#d4a6d6" opacity="0.75" transform="rotate(-70 303.6 230.1)"/>
<ellipse cx="307.1" cy="229.8" rx="4.0" ry="1.0" fill="#d4a6d6" opacity="0.75" transform="rotate(-70 307.1 229.8)"/>
<ellipse cx="310.6" cy="230.2" rx="4.2" ry="1.1" fill="#d4a6d6" opacity="0.75" transform="rotate(-70 310.6 230.2)"/>
<ellipse cx="314.2" cy="230.2" rx="3.7" ry="1.0" fill="#d4a6d6" opacity="0.75" transform="rotate(-70 314.2 230.2)"/>
<ellipse cx="318.0" cy="230.2" rx="5.0" ry="1.2" fill="#d4a6d6" opacity="0.75" transform="rotate(-70 318.0 230.2)"/>
<ellipse cx="322.0" cy="230.3" rx="4.6" ry="1.2" fill="#d4a6d6" opacity="0.75" transform="rotate(-70 322.0 230.3)"/>
<ellipse cx="324.9" cy="229.8" rx="3.4" ry="1.3" fill="#d4a6d6" opacity="0.75" transform="rotate(-70 324.9 229.8)"/>
<ellipse cx="329.0" cy="230.1" rx="3.8" ry="1.0" fill="#d4a6d6" opacity="0.75" transform="rotate(-70 329.0 230.1)"/>
<ellipse cx="332.1" cy="230.1" rx="5.0" ry="1.0" fill="#d4a6d6" opacity="0.75" transform="rotate(-70 332.1 230.1)"/>
<ellipse cx="335.6" cy="229.7" rx="4.0" ry="1.3" fill="#d4a6d6" opacity="0.75" transform="rotate(-70 335.6 229.7)"/>
<ellipse cx="339.8" cy="230.0" rx="3.5" ry="0.9" fill="#d4a6d6" opacity="0.75" transform="rotate(-70 339.8 230.0)"/>
<ellipse cx="342.9" cy="230.2" rx="4.2" ry="1.3" fill="#d4a6d6" opacity="0.75" transform="rotate(-70 342.9 230.2)"/>
<ellipse cx="347.1" cy="230.2" rx="4.2" ry="1.2" fill="#d4a6d6" opacity="0.75" transform="rotate(-70 347.1 230.2)"/>
<ellipse cx="350.1" cy="229.7" rx="4.3" ry="1.1" fill="#d4a6d6" opacity="0.75" transform="rotate(-70 350.1 229.7)"/>
<ellipse cx="353.8" cy="229.8" rx="3.4" ry="1.3" fill="#d4a6d6" opacity="0.75" transform="rotate(-70 353.8 229.8)"/>
<ellipse cx="357.8" cy="230.4" rx="5.0" ry="1.1" fill="#d4a6d6" opacity="0.75" transform="rotate(-70 357.8 230.4)"/>
<ellipse cx="361.4" cy="229.9" rx="4.7" ry="1.3" fill="#d4a6d6" opacity="0.75" transform="rotate(-70 361.4 229.9)"/>
<ellipse cx="364.5" cy="229.6" rx="3.7" ry="1.1" fill="#d4a6d6" opacity="0.75" transform="rotate(-70 364.5 229.6)"/>
<ellipse cx="368.3" cy="229.6" rx="4.8" ry="1.2" fill="#d4a6d6" opacity="0.75" transform="rotate(-70 368.3 229.6)"/>
<ellipse cx="372.0" cy="229.6" rx="4.9" ry="1.1" fill="#d4a6d6" opacity="0.75" transform="rotate(-70 372.0 229.6)"/>
<ellipse cx="375.3" cy="229.9" rx="4.4" ry="1.3" fill="#d4a6d6" opacity="0.75" transform="rotate(-70 375.3 229.9)"/>
<ellipse cx="379.2" cy="230.1" rx="3.7" ry="1.0" fill="#d4a6d6" opacity="0.75" transform="rotate(-70 379.2 230.1)"/>
<ellipse cx="383.1" cy="229.9" rx="3.5" ry="1.1" fill="#d4a6d6" opacity="0.75" transform="rotate(-70 383.1 229.9)"/>
<ellipse cx="386.1" cy="229.8" rx="4.1" ry="1.1" fill="#d4a6d6" opacity="0.75" transform="rotate(-70 386.1 229.8)"/>
<ellipse cx="390.1" cy="230.2" rx="4.1" ry="0.9" fill="#d4a6d6" opacity="0.75" transform="rotate(-70 390.1 230.2)"/>
<ellipse cx="393.8" cy="229.6" rx="4.2" ry="1.1" fill="#d4a6d6" opacity="0.75" transform="rotate(-70 393.8 229.6)"/>
<ellipse cx="397.3" cy="230.2" rx="3.8" ry="1.2" fill="#d4a6d6" opacity="0.75" transform="rotate(-70 397.3 230.2)"/>
<ellipse cx="401.0" cy="230.0" rx="3.6" ry="1.3" fill="#d4a6d6" opacity="0.75" transform="rotate(-70 401.0 230.0)"/>
<ellipse cx="283.9" cy="235.7" rx="3.8" ry="1.3" fill="#d4a6d6" opacity="0.75" transform="rotate(-70 283.9 235.7)"/>
<ellipse cx="287.2" cy="235.9" rx="4.7" ry="1.2" fill="#d4a6d6" opacity="0.75" transform="rotate(-70 287.2 235.9)"/>
<ellipse cx="291.1" cy="236.2" rx="3.4" ry="0.9" fill="#d4a6d6" opacity="0.75" transform="rotate(-70 291.1 236.2)"/>
<ellipse cx="295.0" cy="236.2" rx="3.4" ry="0.9" fill="#d4a6d6" opacity="0.75" transform="rotate(-70 295.0 236.2)"/>
<ellipse cx="298.0" cy="236.3" rx="3.7" ry="1.2" fill="#d4a6d6" opacity="0.75" transform="rotate(-70 298.0 236.3)"/>
<ellipse cx="302.1" cy="236.1" rx="4.9" ry="1.0" fill="#d4a6d6" opacity="0.75" transform="rotate(-70 302.1 236.1)"/>
<ellipse cx="305.1" cy="235.6" rx="4.6" ry="0.9" fill="#d4a6d6" opacity="0.75" transform="rotate(-70 305.1 235.6)"/>
<ellipse cx="309.4" cy="236.2" rx="3.7" ry="1.2" fill="#d4a6d6" opacity="0.75" transform="rotate(-70 309.4 236.2)"/>
<ellipse cx="312.3" cy="236.0" rx="3.5" ry="1.2" fill="#d4a6d6" opacity="0.75" transform="rotate(-70 312.3 236.0)"/>
<ellipse cx="316.5" cy="236.3" rx="3.4" ry="1.3" fill="#d4a6d6" opacity="0.75" transform="rotate(-70 316.5 236.3)"/>
<ellipse cx="319.8" cy="236.3" rx="4.2" ry="1.2" fill="#d4a6d6" opacity="0.75" transform="rotate(-70 319.8 236.3)"/>
<ellipse cx="323.5" cy="236.2" rx="3.5" ry="0.9" fill="#d4a6d6" opacity="0.75" transform="rotate(-70 323.5 236.2)"/>
<ellipse cx="327.0" cy="235.8" rx="4.0" ry="0.9" fill="#d4a6d6" opacity="0.75" transform="rotate(-70 327.0 235.8)"/>
<ellipse cx="330.8" cy="235.6" rx="4.8" ry="1.2" fill="#d4a6d6" opacity="0.75" transform="rotate(-70 330.8 235.6)"/>
<ellipse cx="334.2" cy="235.7" rx="4.5" ry="1.0" fill="#d4a6d6" opacity="0.75" transform="rotate(-70 334.2 235.7)"/>
<ellipse cx="337.7" cy="235.7" rx="5.0" ry="1.1" fill="#d4a6d6" opacity="0.75" transform="rotate(-70 337.7 235.7)"/>
<ellipse cx="341.3" cy="235.7" rx="4.6" ry="1.3" fill="#d4a6d6" opacity="0.75" transform="rotate(-70 341.3 235.7)"/>
<ellipse cx="345.3" cy="235.7" rx="4.0" ry="1.0" fill="#d4a6d6" opacity="0.75" transform="rotate(-70 345.3 235.7)"/>
<ellipse cx="348.8" cy="235.7" rx="4.4" ry="1.3" fill="#d4a6d6" opacity="0.75" transform="rotate(-70 348.8 235.7)"/>
<ellipse cx="352.4" cy="235.6" rx="3.5" ry="0.9" fill="#d4a6d6" opacity="0.75" transform="rotate(-70 352.4 235.6)"/>
<ellipse cx="356.0" cy="236.1" rx="4.2" ry="1.1" fill="#d4a6d6" opacity="0.75" transform="rotate(-70 356.0 236.1)"/>
<ellipse cx="359.3" cy="236.1" rx="4.4" ry="1.3" fill="#d4a6d6" opacity="0.75" transform="rotate(-70 359.3 236.1)"/>
<ellipse cx="363.2" cy="236.2" rx="4.9" ry="1.2" fill="#d4a6d6" opacity="0.75" transform="rotate(-70 363.2 236.2)"/>
<ellipse cx="366.8" cy="235.6" rx="4.5" ry="1.3" fill="#d4a6d6" opacity="0.75" transform="rotate(-70 366.8 235.6)"/>
<ellipse cx="370.1" cy="236.3" rx="3.7" ry="1.3" fill="#d4a6d6" opacity="0.75" transform="rotate(-70 370.1 236.3)"/>
<ellipse cx="373.8" cy="236.2" rx="3.8" ry="1.0" fill="#d4a6d6" opacity="0.75" transform="rotate(-70 373.8 236.2)"/>
<ellipse cx="377.3" cy="235.9" rx="3.5" ry="1.1" fill="#d4a6d6" opacity="0.75" transform="rotate(-70 377.3 235.9)"/>
<ellipse cx="381.4" cy="236.1" rx="4.9" ry="1.2" fill="#d4a6d6" opacity="0.75" transform="rotate(-70 381.4 236.1)"/>
<ellipse cx="384.9" cy="236.4" rx="4.6" ry="1.0" fill="#d4a6d6" opacity="0.75" transform="rotate(-70 384.9 236.4)"/>
<ellipse cx="388.0" cy="235.9" rx="3.4" ry="1.0" fill="#d4a6d6" opacity="0.75" transform="rotate(-70 388.0 235.9)"/>
<ellipse cx="392.1" cy="236.3" rx="3.9" ry="1.2" fill="#d4a6d6" opacity="0.75" transform="rotate(-70 392.1 236.3)"/>
<ellipse cx="395.6" cy="236.3" rx="4.7" ry="1.1" fill="#d4a6d6" opacity="0.75" transform="rotate(-70 395.6 236.3)"/>
<ellipse cx="398.7" cy="236.3" rx="3.9" ry="1.2" fill="#d4a6d6" opacity="0.75" transform="rotate(-70 398.7 236.3)"/>
<ellipse cx="402.5" cy="236.0" rx="5.0" ry="1.0" fill="#d4a6d6" opacity="0.75" transform="rotate(-70 402.5 236.0)"/>
<ellipse cx="282.0" cy="242.1" rx="4.3" ry="1.3" fill="#d4a6d6" opacity="0.75" transform="rotate(-70 282.0 242.1)"/>
<ellipse cx="285.5" cy="242.3" rx="4.5" ry="1.3" fill="#d4a6d6" opacity="0.75" transform="rotate(-70 285.5 242.3)"/>
<ellipse cx="288.9" cy="241.8" rx="3.8" ry="1.3" fill="#d4a6d6" opacity="0.75" transform="rotate(-70 288.9 241.8)"/>
<ellipse cx="292.4" cy="241.8" rx="4.6" ry="1.3" fill="#d4a6d6" opacity="0.75" transform="rotate(-70 292.4 241.8)"/>
<ellipse cx="296.1" cy="242.0" rx="4.5" ry="1.2" fill="#d4a6d6" opacity="0.75" transform="rotate(-70 296.1 242.0)"/>
<ellipse cx="300.2" cy="242.2" rx="3.8" ry="1.0" fill="#d4a6d6" opacity="0.75" transform="rotate(-70 300.2 242.2)"/>
<ellipse cx="303.2" cy="242.2" rx="3.7" ry="1.0" fill="#d4a6d6" opacity="0.75" transform="rotate(-70 303.2 242.2)"/>
<ellipse cx="307.6" cy="242.1" rx="4.4" ry="1.2" fill="#d4a6d6" opacity="0.75" transform="rotate(-70 307.6 242.1)"/>
<ellipse cx="310.9" cy="242.2" rx="3.9" ry="0.9" fill="#d4a6d6" opacity="0.75" transform="rotate(-70 310.9 242.2)"/>
<ellipse cx="314.1" cy="241.6" rx="4.0" ry="0.9" fill="#d4a6d6" opacity="0.75" transform="rotate(-70 314.1 241.6)"/>
<ellipse cx="317.7" cy="242.0" rx="5.0" ry="1.2" fill="#d4a6d6" opacity="0.75" transform="rotate(-70 317.7 242.0)"/>
<ellipse cx="321.4" cy="242.2" rx="3.7" ry="0.9" fill="#d4a6d6" opacity="0.75" transform="rotate(-70 321.4 242.2)"/>
<ellipse cx="325.0" cy="241.9" rx="4.5" ry="1.1" fill="#d4a6d6" opacity="0.75" transform="rotate(-70 325.0 241.9)"/>
<ellipse cx="329.0" cy="241.7" rx="4.9" ry="1.0" fill="#d4a6d6" opacity="0.75" transform="rotate(-70 329.0 241.7)"/>
<ellipse cx="332.7" cy="241.6" rx="4.8" ry="1.0" fill="#d4a6d6" opacity="0.75" transform="rotate(-70 332.7 241.6)"/>
<ellipse cx="336.3" cy="242.2" rx="4.5" ry="1.0" fill="#d4a6d6" opacity="0.75" transform="rotate(-70 336.3 242.2)"/>
<ellipse cx="339.2" cy="241.8" rx="4.9" ry="0.9" fill="#d4a6d6" opacity="0.75" transform="rotate(-70 339.2 241.8)"/>
<ellipse cx="343.3" cy="242.1" rx="4.5" ry="1.0" fill="#d4a6d6" opacity="0.75" transform="rotate(-70 343.3 242.1)"/>
<ellipse cx="346.5" cy="241.7" rx="5.0" ry="1.0" fill="#d4a6d6" opacity="0.75" transform="rotate(-70 346.5 241.7)"/>
<ellipse cx="350.5" cy="242.1" rx="3.7" ry="0.9" fill="#d4a6d6" opacity="0.75" transform="rotate(-70 350.5 242.1)"/>
<ellipse cx="353.6" cy="242.3" rx="3.6" ry="1.3" fill="#d4a6d6" opacity="0.75" transform="rotate(-70 353.6 242.3)"/>
<ellipse cx="357.5" cy="242.2" rx="3.6" ry="1.2" fill="#d4a6d6" opacity="0.75" transform="rotate(-70 357.5 242.2)"/>
<ellipse cx="361.0" cy="241.9" rx="4.2" ry="0.9" fill="#d4a6d6" opacity="0.75" transform="rotate(-70 361.0 241.9)"/>
<ellipse cx="364.6" cy="242.2" rx="3.8" ry="1.0" fill="#d4a6d6" opacity="0.75" transform="rotate(-70 364.6 242.2)"/>
<ellipse cx="368.6" cy="241.8" rx="3.7" ry="1.0" fill="#d4a6d6" opacity="0.75" transform="rotate(-70 368.6 241.8)"/>
<ellipse cx="371.9" cy="241.9" rx="4.4" ry="1.1" fill="#d4a6d6" opacity="0.75" transform="rotate(-70 371.9 241.9)"/>
<ellipse cx="375.9" cy="241.6" rx="4.5" ry="1.2" fill="#d4a6d6" opacity="0.75" transform="rotate(-70 375.9 241.6)"/>
<ellipse cx="379.0" cy="241.6" rx="4.1" ry="0.9" fill="#d4a6d6" opacity="0.75" transform="rotate(-70 379.0 241.6)"/>
<ellipse cx="382.8" cy="242.2" rx="3.5" ry="0.9" fill="#d4a6d6" opacity="0.75" transform="rotate(-70 382.8 242.2)"/>
<ellipse cx="386.4" cy="241.7" rx="3.7" ry="1.1" fill="#d4a6d6" opacity="0.75" transform="rotate(-70 386.4 241.7)"/>
<ellipse cx="389.7" cy="241.7" rx="4.0" ry="1.1" fill="#d4a6d6" opacity="0.75" transform="rotate(-70 389.7 241.7)"/>
<ellipse cx="393.9" cy="242.0" rx="3.5" ry="1.0" fill="#d4a6d6" opacity="0.75" transform="rotate(-70 393.9 242.0)"/>
<ellipse cx="397.4" cy="242.1" rx="4.8" ry="1.3" fill="#d4a6d6" opacity="0.75" transform="rotate(-70 397.4 242.1)"/>
<ellipse cx="401.1" cy="241.7" rx="4.9" ry="1.1" fill="#d4a6d6" opacity="0.75" transform="rotate(-70 401.1 241.7)"/>
<ellipse cx="283.6" cy="247.7" rx="4.8" ry="1.0" fill="#d4a6d6" opacity="0.75" transform="rotate(-70 283.6 247.7)"/>
<ellipse cx="287.1" cy="247.8" rx="4.9" ry="1.1" fill="#d4a6d6" opacity="0.75" transform="rotate(-70 287.1 247.8)"/>
<ellipse cx="291.2" cy="247.7" rx="4.1" ry="1.0" fill="#d4a6d6" opacity="0.75" transform="rotate(-70 291.2 247.7)"/>
<ellipse cx="294.4" cy="248.1" rx="4.0" ry="0.9" fill="#d4a6d6" opacity="0.75" transform="rotate(-70 294.4 248.1)"/>
<ellipse cx="298.6" cy="248.0" rx="3.7" ry="0.9" fill="#d4a6d6" opacity="0.75" transform="rotate(-70 298.6 248.0)"/>
<ellipse cx="301.9" cy="248.0" rx="3.4" ry="1.1" fill="#d4a6d6" opacity="0.75" transform="rotate(-70 301.9 248.0)"/>
<ellipse cx="305.6" cy="248.0" rx="3.8" ry="1.1" fill="#d4a6d6" opacity="0.75" transform="rotate(-70 305.6 248.0)"/>
<ellipse cx="309.1" cy="248.1" rx="3.6" ry="1.2" fill="#d4a6d6" opacity="0.75" transform="rotate(-70 309.1 248.1)"/>
<ellipse cx="313.0" cy="248.2" rx="4.8" ry="1.0" fill="#d4a6d6" opacity="0.75" transform="rotate(-70 313.0 248.2)"/>
<ellipse cx="316.5" cy="247.7" rx="3.7" ry="1.1" fill="#d4a6d6" opacity="0.75" transform="rotate(-70 316.5 247.7)"/>
<ellipse cx="320.1" cy="247.7" rx="3.7" ry="0.9" fill="#d4a6d6" opacity="0.75" transform="rotate(-70 320.1 247.7)"/>
<ellipse cx="323.4" cy="247.7" rx="3.7" ry="1.2" fill="#d4a6d6" opacity="0.75" transform="rotate(-70 323.4 247.7)"/>
<ellipse cx="327.1" cy="248.4" rx="4.0" ry="1.2" fill="#d4a6d6" opacity="0.75" transform="rotate(-70 327.1 248.4)"/>
<ellipse cx="330.2" cy="248.4" rx="3.8" ry="1.1" fill="#d4a6d6" opacity="0.75" transform="rotate(-70 330.2 248.4)"/>
<ellipse cx="334.2" cy="248.4" rx="4.2" ry="1.3" fill="#d4a6d6" opacity="0.75" transform="rotate(-70 334.2 248.4)"/>
<ellipse cx="337.9" cy="247.8" rx="4.8" ry="1.0" fill="#d4a6d6" opacity="0.75" transform="rotate(-70 337.9 247.8)"/>
<ellipse cx="341.8" cy="248.0" rx="3.7" ry="1.3" fill="#d4a6d6" opacity="0.75" transform="rotate(-70 341.8 248.0)"/>
<ellipse cx="344.9" cy="247.9" rx="3.9" ry="1.2" fill="#d4a6d6" opacity="0.75" transform="rotate(-70 344.9 247.9)"/>
<ellipse cx="348.2" cy="247.9" rx="3.6" ry="1.2" fill="#d4a6d6" opacity="0.75" transform="rotate(-70 348.2 247.9)"/>
<ellipse cx="351.8" cy="248.1" rx="3.8" ry="1.1" fill="#d4a6d6" opacity="0.75" transform="rotate(-70 351.8 248.1)"/>
<ellipse cx="355.8" cy="248.2" rx="3.6" ry="1.0" fill="#d4a6d6" opacity="0.75" transform="rotate(-70 355.8 248.2)"/>
<ellipse cx="359.1" cy="248.4" rx="3.6" ry="0.9" fill="#d4a6d6" opacity="0.75" transform="rotate(-70 359.1 248.4)"/>
<ellipse cx="363.0" cy="248.1" rx="4.8" ry="0.9" fill="#d4a6d6" opacity="0.75" transform="rotate(-70 363.0 248.1)"/>
<ellipse cx="366.4" cy="247.7" rx="4.3" ry="1.1" fill="#d4a6d6" opacity="0.75" transform="rotate(-70 366.4 247.7)"/>
<ellipse cx="370.1" cy="248.3" rx="4.5" ry="1.3" fill="#d4a6d6" opacity="0.75" transform="rotate(-70 370.1 248.3)"/>
<ellipse cx="374.2" cy="247.8" rx="4.9" ry="1.1" fill="#d4a6d6" opacity="0.75" transform="rotate(-70 374.2 247.8)"/>
<ellipse cx="377.0" cy="248.3" rx="3.5" ry="0.9" fill="#d4a6d6" opacity="0.75" transform="rotate(-70 377.0 248.3)"/>
<ellipse cx="380.8" cy="247.8" rx="5.0" ry="1.3" fill="#d4a6d6" opacity="0.75" transform="rotate(-70 380.8 247.8)"/>
<ellipse cx="384.5" cy="248.0" rx="4.8" ry="1.2" fill="#d4a6d6" opacity="0.75" transform="rotate(-70 384.5 248.0)"/>
<ellipse cx="388.3" cy="248.0" rx="3.6" ry="1.0" fill="#d4a6d6" opacity="0.75" transform="rotate(-70 388.3 248.0)"/>
<ellipse cx="391.9" cy="248.1" rx="4.7" ry="1.3" fill="#d4a6d6" opacity="0.75" transform="rotate(-70 391.9 248.1)"/>
<ellipse cx="395.8" cy="247.8" rx="3.5" ry="1.3" fill="#d4a6d6" opacity="0.75" transform="rotate(-70 395.8 247.8)"/>
<ellipse cx="399.1" cy="247.7" rx="4.5" ry="1.0" fill="#d4a6d6" opacity="0.75" transform="rotate(-70 399.1 247.7)"/>
<ellipse cx="402.4" cy="247.9" rx="4.2" ry="1.2" fill="#d4a6d6" opacity="0.75" transform="rotate(-70 402.4 247.9)"/>
<ellipse cx="281.7" cy="254.2" rx="4.4" ry="1.1" fill="#d4a6d6" opacity="0.75" transform="rotate(-70 281.7 254.2)"/>
<ellipse cx="285.7" cy="254.2" rx="3.4" ry="1.1" fill="#d4a6d6" opacity="0.75" transform="rotate(-70 285.7 254.2)"/>
<ellipse cx="289.3" cy="254.2" rx="4.4" ry="1.0" fill="#d4a6d6" opacity="0.75" transform="rotate(-70 289.3 254.2)"/>
<ellipse cx="293.2" cy="254.2" rx="3.8" ry="1.1" fill="#d4a6d6" opacity="0.75" transform="rotate(-70 293.2 254.2)"/>
<ellipse cx="296.8" cy="253.8" rx="4.0" ry="1.3" fill="#d4a6d6" opacity="0.75" transform="rotate(-70 296.8 253.8)"/>
<ellipse cx="300.3" cy="253.8" rx="4.6" ry="1.0" fill="#d4a6d6" opacity="0.75" transform="rotate(-70 300.3 253.8)"/>
<ellipse cx="303.7" cy="254.2" rx="3.6" ry="1.0" fill="#d4a6d6" opacity="0.75" transform="rotate(-70 303.7 254.2)"/>
<ellipse cx="307.0" cy="253.8" rx="3.4" ry="0.9" fill="#d4a6d6" opacity="0.75" transform="rotate(-70 307.0 253.8)"/>
<ellipse cx="310.7" cy="253.9" rx="3.5" ry="1.1" fill="#d4a6d6" opacity="0.75" transform="rotate(-70 310.7 253.9)"/>
<ellipse cx="314.8" cy="254.1" rx="4.0" ry="1.2" fill="#d4a6d6" opacity="0.75" transform="rotate(-70 314.8 254.1)"/>
<ellipse cx="317.9" cy="253.7" rx="4.2" ry="0.9" fill="#d4a6d6" opacity="0.75" transform="rotate(-70 317.9 253.7)"/>
<ellipse cx="321.7" cy="253.7" rx="4.0" ry="1.3" fill="#d4a6d6" opacity="0.75" transform="rotate(-70 321.7 253.7)"/>
<ellipse cx="325.4" cy="254.3" rx="4.4" ry="1.2" fill="#d4a6d6" opacity="0.75" transform="rotate(-70 325.4 254.3)"/>
<ellipse cx="329.0" cy="254.4" rx="3.7" ry="1.2" fill="#d4a6d6" opacity="0.75" transform="rotate(-70 329.0 254.4)"/>
<ellipse cx="332.2" cy="253.8" rx="4.7" ry="1.1" fill="#d4a6d6" opacity="0.75" transform="rotate(-70 332.2 253.8)"/>
<ellipse cx="336.3" cy="254.3" rx="4.3" ry="1.0" fill="#d4a6d6" opacity="0.75" transform="rotate(-70 336.3 254.3)"/>
<ellipse cx="339.2" cy="254.0" rx="4.6" ry="1.0" fill="#d4a6d6" opacity="0.75" transform="rotate(-70 339.2 254.0)"/>
<ellipse cx="342.9" cy="253.6" rx="3.7" ry="1.2" fill="#d4a6d6" opacity="0.75" transform="rotate(-70 342.9 253.6)"/>
<ellipse cx="346.4" cy="253.8" rx="3.8" ry="1.2" fill="#d4a6d6" opacity="0.75" transform="rotate(-70 346.4 253.8)"/>
<ellipse cx="350.8" cy="253.6" rx="3.6" ry="1.3" fill="#d4a6d6" opacity="0.75" transform="rotate(-70 350.8 253.6)"/>
<ellipse cx="354.4" cy="253.7" rx="3.9" ry="1.1" fill="#d4a6d6" opacity="0.75" transform="rotate(-70 354.4 253.7)"/>
<ellipse cx="357.5" cy="253.9" rx="4.2" ry="1.0" fill="#d4a6d6" opacity="0.75" transform="rotate(-70 357.5 253.9)"/>
<ellipse cx="360.8" cy="253.7" rx="3.6" ry="0.9" fill="#d4a6d6" opacity="0.75" transform="rotate(-70 360.8 253.7)"/>
<ellipse cx="364.9" cy="254.2" rx="3.8" ry="1.2" fill="#d4a6d6" opacity="0.75" transform="rotate(-70 364.9 254.2)"/>
<ellipse cx="368.6" cy="253.9" rx="4.2" ry="1.0" fill="#d4a6d6" opacity="0.75" transform="rotate(-70 368.6 253.9)"/>
<ellipse cx="372.3" cy="254.0" rx="3.4" ry="0.9" fill="#d4a6d6" opacity="0.75" transform="rotate(-70 372.3 254.0)"/>
<ellipse cx="375.8" cy="253.9" rx="4.6" ry="1.0" fill="#d4a6d6" opacity="0.75" transform="rotate(-70 375.8 253.9)"/>
<ellipse cx="379.4" cy="254.2" rx="3.5" ry="1.1" fill="#d4a6d6" opacity="0.75" transform="rotate(-70 379.4 254.2)"/>
<ellipse cx="382.6" cy="254.2" rx="4.7" ry="1.2" fill="#d4a6d6" opacity="0.75" transform="rotate(-70 382.6 254.2)"/>
<ellipse cx="386.2" cy="253.7" rx="4.5" ry="1.1" fill="#d4a6d6" opacity="0.75" transform="rotate(-70 386.2 253.7)"/>
<ellipse cx="389.7" cy="253.8" rx="4.3" ry="0.9" fill="#d4a6d6" opacity="0.75" transform="rotate(-70 389.7 253.8)"/>
<ellipse cx="393.7" cy="253.8" rx="3.8" ry="1.1" fill="#d4a6d6" opacity="0.75" transform="rotate(-70 393.7 253.8)"/>
<ellipse cx="397.2" cy="254.2" rx="3.4" ry="1.2" fill="#d4a6d6" opacity="0.75" transform="rotate(-70 397.2 254.2)"/>
<ellipse cx="400.6" cy="253.8" rx="4.4" ry="1.2" fill="#d4a6d6" opacity="0.75" transform="rotate(-70 400.6 253.8)"/>
<ellipse cx="283.9" cy="260.3" rx="3.7" ry="1.0" fill="#d4a6d6" opacity="0.75" transform="rotate(-70 283.9 260.3)"/>
<ellipse cx="287.5" cy="259.8" rx="3.6" ry="1.0" fill="#d4a6d6" opacity="0.75" transform="rotate(-70 287.5 259.8)"/>
<ellipse cx="291.2" cy="260.3" rx="4.6" ry="1.3" fill="#d4a6d6" opacity="0.75" transform="rotate(-70 291.2 260.3)"/>
<ellipse cx="294.8" cy="259.8" rx="3.9" ry="1.2" fill="#d4a6d6" opacity="0.75" transform="rotate(-70 294.8 259.8)"/>
<ellipse cx="297.8" cy="260.1" rx="3.5" ry="0.9" fill="#d4a6d6" opacity="0.75" transform="rotate(-70 297.8 260.1)"/>
<ellipse cx="301.8" cy="259.7" rx="4.9" ry="1.3" fill="#d4a6d6" opacity="0.75" transform="rotate(-70 301.8 259.7)"/>
<ellipse cx="305.4" cy="259.8" rx="3.6" ry="1.1" fill="#d4a6d6" opacity="0.75" transform="rotate(-70 305.4 259.8)"/>
<ellipse cx="309.0" cy="259.9" rx="4.6" ry="1.1" fill="#d4a6d6" opacity="0.75" transform="rotate(-70 309.0 259.9)"/>
<ellipse cx="312.8" cy="259.7" rx="3.5" ry="1.1" fill="#d4a6d6" opacity="0.75" transform="rotate(-70 312.8 259.7)"/>
<ellipse cx="316.2" cy="259.8" rx="4.5" ry="1.0" fill="#d4a6d6" opacity="0.75" transform="rotate(-70 316.2 259.8)"/>
<ellipse cx="319.7" cy="260.0" rx="4.6" ry="1.2" fill="#d4a6d6" opacity="0.75" transform="rotate(-70 319.7 260.0)"/>
<ellipse cx="323.3" cy="260.0" rx="4.9" ry="1.3" fill="#d4a6d6" opacity="0.75" transform="rotate(-70 323.3 260.0)"/>
<ellipse cx="327.1" cy="259.7" rx="4.1" ry="1.2" fill="#d4a6d6" opacity="0.75" transform="rotate(-70 327.1 259.7)"/>
<ellipse cx="330.4" cy="259.6" rx="5.0" ry="1.3" fill="#d4a6d6" opacity="0.75" transform="rotate(-70 330.4 259.6)"/>
<ellipse cx="333.9" cy="260.0" rx="4.4" ry="1.0" fill="#d4a6d6" opacity="0.75" transform="rotate(-70 333.9 260.0)"/>
<ellipse cx="337.5" cy="260.2" rx="4.7" ry="1.1" fill="#d4a6d6" opacity="0.75" transform="rotate(-70 337.5 260.2)"/>
<ellipse cx="341.1" cy="259.9" rx="3.5" ry="1.3" fill="#d4a6d6" opacity="0.75" transform="rotate(-70 341.1 259.9)"/>
<ellipse cx="344.6" cy="259.8" rx="4.7" ry="0.9" fill="#d4a6d6" opacity="0.75" transform="rotate(-70 344.6 259.8)"/>
<ellipse cx="348.3" cy="259.7" rx="3.6" ry="1.1" fill="#d4a6d6" opacity="0.75" transform="rotate(-70 348.3 259.7)"/>
<ellipse cx="352.5" cy="259.7" rx="3.7" ry="1.2" fill="#d4a6d6" opacity="0.75" transform="rotate(-70 352.5 259.7)"/>
<ellipse cx="355.7" cy="259.9" rx="3.6" ry="1.0" fill="#d4a6d6" opacity="0.75" transform="rotate(-70 355.7 259.9)"/>
<ellipse cx="359.8" cy="259.7" rx="3.8" ry="1.2" fill="#d4a6d6" opacity="0.75" transform="rotate(-70 359.8 259.7)"/>
<ellipse cx="363.3" cy="260.3" rx="4.2" ry="1.3" fill="#d4a6d6" opacity="0.75" transform="rotate(-70 363.3 260.3)"/>
<ellipse cx="366.7" cy="259.8" rx="4.1" ry="1.2" fill="#d4a6d6" opacity="0.75" transform="rotate(-70 366.7 259.8)"/>
<ellipse cx="370.4" cy="259.7" rx="3.7" ry="1.3" fill="#d4a6d6" opacity="0.75" transform="rotate(-70 370.4 259.7)"/>
<ellipse cx="373.5" cy="260.3" rx="3.9" ry="1.0" fill="#d4a6d6" opacity="0.75" transform="rotate(-70 373.5 260.3)"/>
<ellipse cx="377.2" cy="260.0" rx="5.0" ry="0.9" fill="#d4a6d6" opacity="0.75" transform="rotate(-70 377.2 260.0)"/>
<ellipse cx="381.3" cy="259.9" rx="3.7" ry="1.2" fill="#d4a6d6" opacity="0.75" transform="rotate(-70 381.3 259.9)"/>
<ellipse cx="384.5" cy="259.8" rx="4.1" ry="1.2" fill="#d4a6d6" opacity="0.75" transform="rotate(-70 384.5 259.8)"/>
<ellipse cx="388.5" cy="260.1" rx="3.4" ry="1.2" fill="#d4a6d6" opacity="0.75" transform="rotate(-70 388.5 260.1)"/>
<ellipse cx="391.9" cy="260.3" rx="5.0" ry="1.0" fill="#d4a6d6" opacity="0.75" transform="rotate(-70 391.9 260.3)"/>
<ellipse cx="395.7" cy="260.3" rx="3.8" ry="1.0" fill="#d4a6d6" opacity="0.75" transform="rotate(-70 395.7 260.3)"/>
<ellipse cx="398.9" cy="259.9" rx="4.0" ry="0.9" fill="#d4a6d6" opacity="0.75" transform="rotate(-70 398.9 259.9)"/>
<ellipse cx="402.4" cy="260.3" rx="4.0" ry="1.2" fill="#d4a6d6" opacity="0.75" transform="rotate(-70 402.4 260.3)"/>
<ellipse cx="282.3" cy="266.2" rx="3.8" ry="1.3" fill="#d4a6d6" opacity="0.75" transform="rotate(-70 282.3 266.2)"/>
<ellipse cx="285.8" cy="266.4" rx="4.6" ry="1.2" fill="#d4a6d6" opacity="0.75" transform="rotate(-70 285.8 266.4)"/>
<ellipse cx="289.5" cy="265.8" rx="4.5" ry="1.0" fill="#d4a6d6" opacity="0.75" transform="rotate(-70 289.5 265.8)"/>
<ellipse cx="293.1" cy="265.7" rx="4.3" ry="1.0" fill="#d4a6d6" opacity="0.75" transform="rotate(-70 293.1 265.7)"/>
<ellipse cx="296.7" cy="265.9" rx="4.8" ry="1.3" fill="#d4a6d6" opacity="0.75" transform="rotate(-70 296.7 265.9)"/>
<ellipse cx="300.3" cy="265.7" rx="4.9" ry="1.2" fill="#d4a6d6" opacity="0.75" transform="rotate(-70 300.3 265.7)"/>
<ellipse cx="303.7" cy="266.1" rx="3.4" ry="1.3" fill="#d4a6d6" opacity="0.75" transform="rotate(-70 303.7 266.1)"/>
<ellipse cx="307.2" cy="266.0" rx="3.9" ry="1.2" fill="#d4a6d6" opacity="0.75" transform="rotate(-70 307.2 266.0)"/>
<ellipse cx="311.0" cy="266.3" rx="3.7" ry="1.0" fill="#d4a6d6" opacity="0.75" transform="rotate(-70 311.0 266.3)"/>
<ellipse cx="314.2" cy="265.7" rx="3.9" ry="0.9" fill="#d4a6d6" opacity="0.75" transform="rotate(-70 314.2 265.7)"/>
<ellipse cx="318.2" cy="265.8" rx="3.5" ry="0.9" fill="#d4a6d6" opacity="0.75" transform="rotate(-70 318.2 265.8)"/>
<ellipse cx="321.8" cy="265.8" rx="4.1" ry="1.1" fill="#d4a6d6" opacity="0.75" transform="rotate(-70 321.8 265.8)"/>
<ellipse cx="325.4" cy="266.4" rx="3.9" ry="1.2" fill="#d4a6d6" opacity="0.75" transform="rotate(-70 325.4 266.4)"/>
<ellipse cx="329.1" cy="266.0" rx="4.9" ry="1.2" fill="#d4a6d6" opacity="0.75" transform="rotate(-70 329.1 266.0)"/>
<ellipse cx="332.2" cy="266.3" rx="4.3" ry="0.9" fill="#d4a6d6" opacity="0.75" transform="rotate(-70 332.2 266.3)"/>
<ellipse cx="336.1" cy="266.3" rx="4.2" ry="1.1" fill="#d4a6d6" opacity="0.75" transform="rotate(-70 336.1 266.3)"/>
<ellipse cx="339.5" cy="266.3" rx="4.5" ry="1.0" fill="#d4a6d6" opacity="0.75" transform="rotate(-70 339.5 266.3)"/>
<ellipse cx="343.1" cy="265.9" rx="5.0" ry="1.2" fill="#d4a6d6" opacity="0.75" transform="rotate(-70 343.1 265.9)"/>
<ellipse cx="346.5" cy="266.3" rx="3.4" ry="1.1" fill="#d4a6d6" opacity="0.75" transform="rotate(-70 346.5 266.3)"/>
<ellipse cx="350.3" cy="266.2" rx="4.1" ry="0.9" fill="#d4a6d6" opacity="0.75" transform="rotate(-70 350.3 266.2)"/>
<ellipse cx="354.0" cy="266.3" rx="4.7" ry="1.0" fill="#d4a6d6" opacity="0.75" transform="rotate(-70 354.0 266.3)"/>
<ellipse cx="357.4" cy="266.2" rx="4.7" ry="1.0" fill="#d4a6d6" opacity="0.75" transform="rotate(-70 357.4 266.2)"/>
<ellipse cx="361.5" cy="266.4" rx="4.1" ry="1.0" fill="#d4a6d6" opacity="0.75" transform="rotate(-70 361.5 266.4)"/>
<ellipse cx="365.0" cy="266.3" rx="3.7" ry="1.0" fill="#d4a6d6" opacity="0.75" transform="rotate(-70 365.0 266.3)"/>
<ellipse cx="368.3" cy="266.2" rx="3.7" ry="1.1" fill="#d4a6d6" opacity="0.75" transform="rotate(-70 368.3 266.2)"/>
<ellipse cx="372.0" cy="266.1" rx="3.6" ry="1.3" fill="#d4a6d6" opacity="0.75" transform="rotate(-70 372.0 266.1)"/>
<ellipse cx="376.0" cy="266.0" rx="4.7" ry="1.0" fill="#d4a6d6" opacity="0.75" transform="rotate(-70 376.0 266.0)"/>
<ellipse cx="379.5" cy="266.0" rx="4.6" ry="1.3" fill="#d4a6d6" opacity="0.75" transform="rotate(-70 379.5 266.0)"/>
<ellipse cx="382.7" cy="266.3" rx="3.7" ry="0.9" fill="#d4a6d6" opacity="0.75" transform="rotate(-70 382.7 266.3)"/>
<ellipse cx="386.4" cy="266.3" rx="4.9" ry="1.3" fill="#d4a6d6" opacity="0.75" transform="rotate(-70 386.4 266.3)"/>
<ellipse cx="390.0" cy="266.3" rx="4.3" ry="0.9" fill="#d4a6d6" opacity="0.75" transform="rotate(-70 390.0 266.3)"/>
<ellipse cx="393.7" cy="266.2" rx="4.1" ry="1.1" fill="#d4a6d6" opacity="0.75" transform="rotate(-70 393.7 266.2)"/>
<ellipse cx="397.0" cy="265.8" rx="4.1" ry="1.1" fill="#d4a6d6" opacity="0.75" transform="rotate(-70 397.0 265.8)"/>
<ellipse cx="400.8" cy="265.7" rx="3.4" ry="1.0" fill="#d4a6d6" opacity="0.75" transform="rotate(-70 400.8 265.7)"/>
<ellipse cx="284.0" cy="272.2" rx="3.8" ry="1.0" fill="#d4a6d6" opacity="0.75" transform="rotate(-70 284.0 272.2)"/>
<ellipse cx="287.4" cy="271.7" rx="4.4" ry="1.3" fill="#d4a6d6" opacity="0.75" transform="rotate(-70 287.4 271.7)"/>
<ellipse cx="290.8" cy="272.1" rx="4.6" ry="1.2" fill="#d4a6d6" opacity="0.75" transform="rotate(-70 290.8 272.1)"/>
<ellipse cx="294.8" cy="272.2" rx="3.8" ry="1.2" fill="#d4a6d6" opacity="0.75" transform="rotate(-70 294.8 272.2)"/>
<ellipse cx="298.5" cy="271.6" rx="4.9" ry="1.1" fill="#d4a6d6" opacity="0.75" transform="rotate(-70 298.5 271.6)"/>
<ellipse cx="301.5" cy="271.7" rx="4.7" ry="1.2" fill="#d4a6d6" opacity="0.75" transform="rotate(-70 301.5 271.7)"/>
<ellipse cx="305.1" cy="272.0" rx="4.4" ry="1.3" fill="#d4a6d6" opacity="0.75" transform="rotate(-70 305.1 272.0)"/>
<ellipse cx="308.9" cy="272.2" rx="3.8" ry="1.0" fill="#d4a6d6" opacity="0.75" transform="rotate(-70 308.9 272.2)"/>
<ellipse cx="312.3" cy="271.9" rx="4.4" ry="1.0" fill="#d4a6d6" opacity="0.75" transform="rotate(-70 312.3 271.9)"/>
<ellipse cx="315.9" cy="271.8" rx="3.5" ry="1.0" fill="#d4a6d6" opacity="0.75" transform="rotate(-70 315.9 271.8)"/>
<ellipse cx="319.7" cy="272.0" rx="3.7" ry="1.1" fill="#d4a6d6" opacity="0.75" transform="rotate(-70 319.7 272.0)"/>
<ellipse cx="323.4" cy="272.4" rx="4.2" ry="1.3" fill="#d4a6d6" opacity="0.75" transform="rotate(-70 323.4 272.4)"/>
<ellipse cx="327.0" cy="271.8" rx="4.4" ry="0.9" fill="#d4a6d6" opacity="0.75" transform="rotate(-70 327.0 271.8)"/>
<ellipse cx="330.3" cy="271.7" rx="4.5" ry="1.3" fill="#d4a6d6" opacity="0.75" transform="rotate(-70 330.3 271.7)"/>
<ellipse cx="334.1" cy="271.9" rx="4.1" ry="1.0" fill="#d4a6d6" opacity="0.75" transform="rotate(-70 334.1 271.9)"/>
<ellipse cx="338.0" cy="271.9" rx="3.6" ry="1.3" fill="#d4a6d6" opacity="0.75" transform="rotate(-70 338.0 271.9)"/>
<ellipse cx="341.5" cy="271.6" rx="4.8" ry="1.2" fill="#d4a6d6" opacity="0.75" transform="rotate(-70 341.5 271.6)"/>
<ellipse cx="344.9" cy="272.1" rx="4.9" ry="1.1" fill="#d4a6d6" opacity="0.75" transform="rotate(-70 344.9 272.1)"/>
<ellipse cx="348.5" cy="271.8" rx="4.3" ry="1.2" fill="#d4a6d6" opacity="0.75" transform="rotate(-70 348.5 271.8)"/>
<ellipse cx="352.4" cy="272.4" rx="3.6" ry="1.0" fill="#d4a6d6" opacity="0.75" transform="rotate(-70 352.4 272.4)"/>
<ellipse cx="356.1" cy="272.2" rx="4.4" ry="1.2" fill="#d4a6d6" opacity="0.75" transform="rotate(-70 356.1 272.2)"/>
<ellipse cx="359.3" cy="272.4" rx="4.3" ry="1.1" fill="#d4a6d6" opacity="0.75" transform="rotate(-70 359.3 272.4)"/>
<ellipse cx="362.7" cy="271.7" rx="4.9" ry="1.2" fill="#d4a6d6" opacity="0.75" transform="rotate(-70 362.7 271.7)"/>
<ellipse cx="366.2" cy="271.9" rx="4.2" ry="1.1" fill="#d4a6d6" opacity="0.75" transform="rotate(-70 366.2 271.9)"/>
<ellipse cx="370.1" cy="272.3" rx="3.9" ry="1.1" fill="#d4a6d6" opacity="0.75" transform="rotate(-70 370.1 272.3)"/>
<ellipse cx="374.1" cy="272.1" rx="4.2" ry="1.0" fill="#d4a6d6" opacity="0.75" transform="rotate(-70 374.1 272.1)"/>
<ellipse cx="377.3" cy="272.1" rx="4.7" ry="1.0" fill="#d4a6d6" opacity="0.75" transform="rotate(-70 377.3 272.1)"/>
<ellipse cx="380.9" cy="271.9" rx="4.0" ry="1.3" fill="#d4a6d6" opacity="0.75" transform="rotate(-70 380.9 271.9)"/>
<ellipse cx="384.6" cy="271.8" rx="3.9" ry="1.2" fill="#d4a6d6" opacity="0.75" transform="rotate(-70 384.6 271.8)"/>
<ellipse cx="387.9" cy="272.2" rx="3.4" ry="1.0" fill="#d4a6d6" opacity="0.75" transform="rotate(-70 387.9 272.2)"/>
<ellipse cx="391.4" cy="272.2" rx="3.6" ry="1.0" fill="#d4a6d6" opacity="0.75" transform="rotate(-70 391.4 272.2)"/>
<ellipse cx="395.0" cy="271.8" rx="4.6" ry="1.2" fill="#d4a6d6" opacity="0.75" transform="rotate(-70 395.0 271.8)"/>
<ellipse cx="399.3" cy="272.4" rx="4.3" ry="1.3" fill="#d4a6d6" opacity="0.75" transform="rotate(-70 399.3 272.4)"/>
<ellipse cx="402.3" cy="272.3" rx="4.1" ry="1.0" fill="#d4a6d6" opacity="0.75" transform="rotate(-70 402.3 272.3)"/>
</g>
<ellipse cx="300" cy="199" rx="9" ry="6" fill="#c2b2d6" opacity="0.95" transform="rotate(-20 300 199)"/>
<polygon points="280.4,231.5 348.0,204.5 403.0,184.6 403.0,193.0 348.0,212.0 280.4,242.0" fill="#d873b8"/>
<polyline points="280.40,236.00 348.00,208.00 403.00,188.50" fill="none" stroke="#e898cc" stroke-width="1.5" stroke-linejoin="round"/>
<polygon points="403.0,221.0 403.0,232.0 376.0,249.0 361.0,258.0 346.0,270.8 328.0,270.8 344.0,258.0 360.0,248.0 376.0,239.0" fill="#d478b8"/>
<polyline points="403.00,226.50 376.00,244.00 360.00,253.00 338.00,270.80" fill="none" stroke="#f6e8f2" stroke-width="0.8" stroke-linejoin="round"/>
<polyline points="280.40,276.00 296.00,270.60 308.00,260.00 317.00,249.60 324.50,245.00 335.00,239.00 344.00,234.50 360.50,223.80 378.00,215.00 390.50,208.80 403.00,204.00" fill="none" stroke="#f8f6fa" stroke-width="2.3" stroke-linejoin="round"/>
<polyline points="312.00,255.00 312.99,259.72" fill="none" stroke="#f4f0f6" stroke-width="0.9" stroke-linejoin="round"/>
<polyline points="320.00,247.50 319.54,250.69" fill="none" stroke="#f4f0f6" stroke-width="0.9" stroke-linejoin="round"/>
<polyline points="330.00,242.00 331.49,246.51" fill="none" stroke="#f4f0f6" stroke-width="0.9" stroke-linejoin="round"/>
<polyline points="352.00,229.00 352.39,233.95" fill="none" stroke="#f4f0f6" stroke-width="0.9" stroke-linejoin="round"/>
<polyline points="370.00,219.00 368.15,222.11" fill="none" stroke="#f4f0f6" stroke-width="0.9" stroke-linejoin="round"/>
<polyline points="385.00,212.00 383.50,215.04" fill="none" stroke="#f4f0f6" stroke-width="0.9" stroke-linejoin="round"/>
</g></g>
<text x="341.40" y="234.50" font-size="13" text-anchor="start" fill="#111" textLength="4.60" lengthAdjust="spacingAndGlyphs" style="stroke-width:0.7px">L</text>
<line x1="37.50" y1="318.40" x2="37.50" y2="403.80" stroke="#1a1a1a" stroke-width="1.1"/>
<line x1="37.00" y1="403.30" x2="119.30" y2="403.30" stroke="#1a1a1a" stroke-width="1.1"/>
<line x1="34.50" y1="320.90" x2="37.50" y2="320.90" stroke="#1a1a1a" stroke-width="1"/>
<text x="31.70" y="323.60" font-size="7.8" text-anchor="end" fill="#231f20">3</text>
<line x1="34.50" y1="341.70" x2="37.50" y2="341.70" stroke="#1a1a1a" stroke-width="1"/>
<text x="31.70" y="344.40" font-size="7.8" text-anchor="end" fill="#231f20">2</text>
<line x1="34.50" y1="362.30" x2="37.50" y2="362.30" stroke="#1a1a1a" stroke-width="1"/>
<text x="31.70" y="365.00" font-size="7.8" text-anchor="end" fill="#231f20">1</text>
<line x1="34.50" y1="382.80" x2="37.50" y2="382.80" stroke="#1a1a1a" stroke-width="1"/>
<text x="31.70" y="385.50" font-size="7.8" text-anchor="end" fill="#231f20">0</text>
<line x1="34.50" y1="403.40" x2="37.50" y2="403.40" stroke="#1a1a1a" stroke-width="1"/>
<text x="31.70" y="406.10" font-size="7.8" text-anchor="end" fill="#231f20">-1</text>
<line x1="57.80" y1="403.30" x2="57.80" y2="406.30" stroke="#1a1a1a" stroke-width="1"/>
<line x1="98.70" y1="403.30" x2="98.70" y2="406.30" stroke="#1a1a1a" stroke-width="1"/>
<text x="57.80" y="416.90" font-size="8.2" text-anchor="middle" fill="#231f20" textLength="26.60" lengthAdjust="spacingAndGlyphs">TCD-BM</text>
<text x="98.70" y="416.90" font-size="8.2" text-anchor="middle" fill="#231f20" textLength="26.60" lengthAdjust="spacingAndGlyphs">TCD-BM</text>
<text x="97.50" y="425.60" font-size="8.2" text-anchor="middle" fill="#231f20" textLength="10.00" lengthAdjust="spacingAndGlyphs">+ T</text>
<text transform="translate(18.80,361.00) rotate(-90)" font-size="9.4" text-anchor="middle" fill="#231f20" textLength="39.50" lengthAdjust="spacingAndGlyphs" style="stroke-width:0.28px">Crypt loss</text>
<rect x="43.00" y="381.10" width="3.4" height="3.4" fill="#9e1a30"/>
<rect x="44.17" y="381.10" width="3.4" height="3.4" fill="#9e1a30"/>
<rect x="45.33" y="381.10" width="3.4" height="3.4" fill="#9e1a30"/>
<rect x="46.50" y="381.10" width="3.4" height="3.4" fill="#9e1a30"/>
<rect x="52.65" y="381.45" width="2.7" height="2.7" fill="#fff" stroke="#223a7a" stroke-width="0.9"/>
<rect x="55.05" y="381.45" width="2.7" height="2.7" fill="#fff" stroke="#223a7a" stroke-width="0.9"/>
<rect x="57.45" y="381.45" width="2.7" height="2.7" fill="#fff" stroke="#223a7a" stroke-width="0.9"/>
<rect x="59.85" y="381.45" width="2.7" height="2.7" fill="#fff" stroke="#223a7a" stroke-width="0.9"/>
<rect x="65.50" y="381.10" width="3.4" height="3.4" fill="#223a7a"/>
<rect x="67.30" y="381.10" width="3.4" height="3.4" fill="#223a7a"/>
<rect x="69.10" y="381.10" width="3.4" height="3.4" fill="#223a7a"/>
<line x1="43.00" y1="382.80" x2="50.00" y2="382.80" stroke="#1a1a1a" stroke-width="0.9"/>
<line x1="52.50" y1="382.80" x2="62.50" y2="382.80" stroke="#1a1a1a" stroke-width="0.9"/>
<line x1="65.50" y1="382.80" x2="72.50" y2="382.80" stroke="#1a1a1a" stroke-width="0.9"/>
<rect x="82.30" y="324.10" width="3.4" height="3.4" fill="#9e1a30"/>
<rect x="87.70" y="329.00" width="3.4" height="3.4" fill="#9e1a30"/>
<rect x="86.80" y="331.30" width="3.4" height="3.4" fill="#9e1a30"/>
<rect x="81.80" y="333.30" width="3.4" height="3.4" fill="#9e1a30"/>
<rect x="84.30" y="333.80" width="3.4" height="3.4" fill="#9e1a30"/>
<rect x="88.80" y="333.30" width="3.4" height="3.4" fill="#9e1a30"/>
<rect x="83.30" y="336.30" width="3.4" height="3.4" fill="#9e1a30"/>
<rect x="86.30" y="337.80" width="3.4" height="3.4" fill="#9e1a30"/>
<rect x="85.10" y="339.30" width="3.4" height="3.4" fill="#9e1a30"/>
<line x1="82.40" y1="334.40" x2="91.30" y2="334.40" stroke="#1a1a1a" stroke-width="0.9"/>
<rect x="93.85" y="373.95" width="2.7" height="2.7" fill="#fff" stroke="#223a7a" stroke-width="0.9"/>
<rect x="96.15" y="376.15" width="2.7" height="2.7" fill="#fff" stroke="#223a7a" stroke-width="0.9"/>
<rect x="97.65" y="377.15" width="2.7" height="2.7" fill="#fff" stroke="#223a7a" stroke-width="0.9"/>
<rect x="99.85" y="375.45" width="2.7" height="2.7" fill="#fff" stroke="#223a7a" stroke-width="0.9"/>
<rect x="101.65" y="373.45" width="2.7" height="2.7" fill="#fff" stroke="#223a7a" stroke-width="0.9"/>
<rect x="95.65" y="378.15" width="2.7" height="2.7" fill="#fff" stroke="#223a7a" stroke-width="0.9"/>
<line x1="95.00" y1="378.00" x2="102.00" y2="378.00" stroke="#1a1a1a" stroke-width="0.9"/>
<rect x="106.30" y="378.60" width="3.4" height="3.4" fill="#223a7a"/>
<rect x="108.30" y="378.60" width="3.4" height="3.4" fill="#223a7a"/>
<rect x="110.30" y="378.60" width="3.4" height="3.4" fill="#223a7a"/>
<line x1="106.50" y1="380.30" x2="113.50" y2="380.30" stroke="#1a1a1a" stroke-width="0.9"/>
<path d="M45.30,318.50 V315.70 H86.10 V318.50" fill="none" stroke="#1a1a1a" stroke-width="0.8"/>
<path d="M87.30,318.50 V315.70 H98.60 V318.50" fill="none" stroke="#1a1a1a" stroke-width="0.8"/>
<path d="M87.30,311.20 V308.40 H110.70 V311.20" fill="none" stroke="#1a1a1a" stroke-width="0.8"/>
<circle cx="62.60" cy="312.50" r="0.95" fill="#333"/><circle cx="65.50" cy="312.50" r="0.95" fill="#333"/><circle cx="68.40" cy="312.50" r="0.95" fill="#333"/>
<circle cx="90.00" cy="312.50" r="0.95" fill="#333"/><circle cx="92.90" cy="312.50" r="0.95" fill="#333"/><circle cx="95.80" cy="312.50" r="0.95" fill="#333"/>
<circle cx="96.20" cy="305.40" r="0.95" fill="#333"/><circle cx="99.10" cy="305.40" r="0.95" fill="#333"/><circle cx="102.00" cy="305.40" r="0.95" fill="#333"/>
<line x1="163.70" y1="318.40" x2="163.70" y2="403.80" stroke="#1a1a1a" stroke-width="1.1"/>
<line x1="163.20" y1="403.30" x2="245.50" y2="403.30" stroke="#1a1a1a" stroke-width="1.1"/>
<line x1="160.70" y1="321.10" x2="163.70" y2="321.10" stroke="#1a1a1a" stroke-width="1"/>
<text x="157.90" y="323.80" font-size="7.8" text-anchor="end" fill="#231f20">10</text>
<line x1="160.70" y1="334.80" x2="163.70" y2="334.80" stroke="#1a1a1a" stroke-width="1"/>
<text x="157.90" y="337.50" font-size="7.8" text-anchor="end" fill="#231f20">8</text>
<line x1="160.70" y1="348.50" x2="163.70" y2="348.50" stroke="#1a1a1a" stroke-width="1"/>
<text x="157.90" y="351.20" font-size="7.8" text-anchor="end" fill="#231f20">6</text>
<line x1="160.70" y1="362.20" x2="163.70" y2="362.20" stroke="#1a1a1a" stroke-width="1"/>
<text x="157.90" y="364.90" font-size="7.8" text-anchor="end" fill="#231f20">4</text>
<line x1="160.70" y1="375.90" x2="163.70" y2="375.90" stroke="#1a1a1a" stroke-width="1"/>
<text x="157.90" y="378.60" font-size="7.8" text-anchor="end" fill="#231f20">2</text>
<line x1="160.70" y1="389.60" x2="163.70" y2="389.60" stroke="#1a1a1a" stroke-width="1"/>
<text x="157.90" y="392.30" font-size="7.8" text-anchor="end" fill="#231f20">0</text>
<line x1="160.70" y1="403.30" x2="163.70" y2="403.30" stroke="#1a1a1a" stroke-width="1"/>
<text x="157.90" y="406.00" font-size="7.8" text-anchor="end" fill="#231f20">-2</text>
<line x1="184.00" y1="403.30" x2="184.00" y2="406.30" stroke="#1a1a1a" stroke-width="1"/>
<line x1="224.90" y1="403.30" x2="224.90" y2="406.30" stroke="#1a1a1a" stroke-width="1"/>
<text x="184.00" y="416.90" font-size="8.2" text-anchor="middle" fill="#231f20" textLength="26.60" lengthAdjust="spacingAndGlyphs">TCD-BM</text>
<text x="224.90" y="416.90" font-size="8.2" text-anchor="middle" fill="#231f20" textLength="26.60" lengthAdjust="spacingAndGlyphs">TCD-BM</text>
<text x="223.70" y="425.60" font-size="8.2" text-anchor="middle" fill="#231f20" textLength="10.00" lengthAdjust="spacingAndGlyphs">+ T</text>
<text transform="translate(144.30,360.60) rotate(-90)" font-size="9.4" text-anchor="middle" fill="#231f20" textLength="88.20" lengthAdjust="spacingAndGlyphs" style="stroke-width:0.28px">Apoptotic cells / crypt</text>
<rect x="167.80" y="384.80" width="3.4" height="3.4" fill="#9e1a30"/>
<rect x="169.80" y="387.30" width="3.4" height="3.4" fill="#9e1a30"/>
<rect x="171.80" y="385.80" width="3.4" height="3.4" fill="#9e1a30"/>
<rect x="173.80" y="384.30" width="3.4" height="3.4" fill="#9e1a30"/>
<rect x="170.30" y="388.80" width="3.4" height="3.4" fill="#9e1a30"/>
<rect x="168.30" y="386.80" width="3.4" height="3.4" fill="#9e1a30"/>
<rect x="172.80" y="383.80" width="3.4" height="3.4" fill="#9e1a30"/>
<line x1="168.50" y1="387.20" x2="177.20" y2="387.20" stroke="#1a1a1a" stroke-width="0.9"/>
<rect x="180.15" y="384.15" width="2.7" height="2.7" fill="#fff" stroke="#223a7a" stroke-width="0.9"/>
<rect x="183.15" y="385.15" width="2.7" height="2.7" fill="#fff" stroke="#223a7a" stroke-width="0.9"/>
<rect x="185.15" y="383.15" width="2.7" height="2.7" fill="#fff" stroke="#223a7a" stroke-width="0.9"/>
<rect x="181.65" y="387.45" width="2.7" height="2.7" fill="#fff" stroke="#223a7a" stroke-width="0.9"/>
<line x1="180.00" y1="386.50" x2="188.50" y2="386.50" stroke="#1a1a1a" stroke-width="0.9"/>
<rect x="191.80" y="384.30" width="3.4" height="3.4" fill="#223a7a"/>
<rect x="194.30" y="384.80" width="3.4" height="3.4" fill="#223a7a"/>
<rect x="192.80" y="387.80" width="3.4" height="3.4" fill="#223a7a"/>
<rect x="193.50" y="386.30" width="3.4" height="3.4" fill="#223a7a"/>
<line x1="192.00" y1="387.40" x2="198.50" y2="387.40" stroke="#1a1a1a" stroke-width="0.9"/>
<rect x="214.00" y="327.40" width="3.4" height="3.4" fill="#9e1a30"/>
<rect x="210.00" y="331.40" width="3.4" height="3.4" fill="#9e1a30"/>
<rect x="211.60" y="338.70" width="3.4" height="3.4" fill="#9e1a30"/>
<rect x="212.80" y="340.50" width="3.4" height="3.4" fill="#9e1a30"/>
<rect x="210.30" y="341.30" width="3.4" height="3.4" fill="#9e1a30"/>
<rect x="212.40" y="345.10" width="3.4" height="3.4" fill="#9e1a30"/>
<rect x="212.40" y="349.20" width="3.4" height="3.4" fill="#9e1a30"/>
<rect x="212.40" y="359.70" width="3.4" height="3.4" fill="#9e1a30"/>
<line x1="210.00" y1="343.30" x2="218.10" y2="343.30" stroke="#1a1a1a" stroke-width="0.9"/>
<rect x="223.75" y="361.35" width="2.7" height="2.7" fill="#fff" stroke="#223a7a" stroke-width="0.9"/>
<rect x="221.65" y="364.85" width="2.7" height="2.7" fill="#fff" stroke="#223a7a" stroke-width="0.9"/>
<rect x="225.65" y="366.55" width="2.7" height="2.7" fill="#fff" stroke="#223a7a" stroke-width="0.9"/>
<rect x="223.75" y="382.35" width="2.7" height="2.7" fill="#fff" stroke="#223a7a" stroke-width="0.9"/>
<line x1="221.40" y1="370.30" x2="228.60" y2="370.30" stroke="#1a1a1a" stroke-width="0.9"/>
<rect x="232.80" y="364.80" width="3.4" height="3.4" fill="#223a7a"/>
<rect x="235.80" y="364.30" width="3.4" height="3.4" fill="#223a7a"/>
<rect x="233.30" y="367.30" width="3.4" height="3.4" fill="#223a7a"/>
<rect x="236.30" y="367.80" width="3.4" height="3.4" fill="#223a7a"/>
<rect x="232.80" y="370.30" width="3.4" height="3.4" fill="#223a7a"/>
<rect x="235.30" y="370.80" width="3.4" height="3.4" fill="#223a7a"/>
<rect x="234.30" y="372.30" width="3.4" height="3.4" fill="#223a7a"/>
<rect x="234.70" y="379.90" width="3.4" height="3.4" fill="#223a7a"/>
<line x1="232.70" y1="371.90" x2="239.90" y2="371.90" stroke="#1a1a1a" stroke-width="0.9"/>
<path d="M171.30,318.50 V315.70 H212.80 V318.50" fill="none" stroke="#1a1a1a" stroke-width="0.8"/>
<path d="M213.30,318.50 V315.70 H225.40 V318.50" fill="none" stroke="#1a1a1a" stroke-width="0.8"/>
<path d="M213.30,311.20 V308.40 H237.50 V311.20" fill="none" stroke="#1a1a1a" stroke-width="0.8"/>
<circle cx="188.60" cy="312.50" r="0.95" fill="#333"/><circle cx="191.50" cy="312.50" r="0.95" fill="#333"/><circle cx="194.40" cy="312.50" r="0.95" fill="#333"/>
<circle cx="216.30" cy="312.50" r="0.95" fill="#333"/><circle cx="219.20" cy="312.50" r="0.95" fill="#333"/><circle cx="222.10" cy="312.50" r="0.95" fill="#333"/>
<circle cx="222.60" cy="305.40" r="0.95" fill="#333"/><circle cx="225.50" cy="305.40" r="0.95" fill="#333"/><circle cx="228.40" cy="305.40" r="0.95" fill="#333"/>
<rect x="150.70" y="433.00" width="4.0" height="4.0" fill="#9e1a30"/>
<text x="157.50" y="437.60" font-size="7.4" text-anchor="start" fill="#231f20" textLength="13.50" lengthAdjust="spacingAndGlyphs">VEH</text>
<rect x="179.05" y="433.35" width="3.3" height="3.3" fill="#fff" stroke="#223a7a" stroke-width="0.9"/>
<text x="186.00" y="437.60" font-size="7.4" text-anchor="start" fill="#231f20" textLength="26.70" lengthAdjust="spacingAndGlyphs">ICA(100)</text>
<rect x="221.20" y="433.00" width="4.0" height="4.0" fill="#223a7a"/>
<text x="228.80" y="437.60" font-size="7.4" text-anchor="start" fill="#231f20" textLength="26.40" lengthAdjust="spacingAndGlyphs">ICA(150)</text>
<line x1="290.80" y1="318.40" x2="290.80" y2="403.80" stroke="#1a1a1a" stroke-width="1.1"/>
<line x1="290.30" y1="403.30" x2="372.60" y2="403.30" stroke="#1a1a1a" stroke-width="1.1"/>
<line x1="287.80" y1="321.20" x2="290.80" y2="321.20" stroke="#1a1a1a" stroke-width="1"/>
<text x="285.00" y="323.90" font-size="7.8" text-anchor="end" fill="#231f20">3</text>
<line x1="287.80" y1="341.80" x2="290.80" y2="341.80" stroke="#1a1a1a" stroke-width="1"/>
<text x="285.00" y="344.50" font-size="7.8" text-anchor="end" fill="#231f20">2</text>
<line x1="287.80" y1="362.40" x2="290.80" y2="362.40" stroke="#1a1a1a" stroke-width="1"/>
<text x="285.00" y="365.10" font-size="7.8" text-anchor="end" fill="#231f20">1</text>
<line x1="287.80" y1="383.00" x2="290.80" y2="383.00" stroke="#1a1a1a" stroke-width="1"/>
<text x="285.00" y="385.70" font-size="7.8" text-anchor="end" fill="#231f20">0</text>
<line x1="287.80" y1="403.60" x2="290.80" y2="403.60" stroke="#1a1a1a" stroke-width="1"/>
<text x="285.00" y="406.30" font-size="7.8" text-anchor="end" fill="#231f20">-1</text>
<line x1="311.10" y1="403.30" x2="311.10" y2="406.30" stroke="#1a1a1a" stroke-width="1"/>
<line x1="352.00" y1="403.30" x2="352.00" y2="406.30" stroke="#1a1a1a" stroke-width="1"/>
<text x="311.10" y="416.90" font-size="8.2" text-anchor="middle" fill="#231f20" textLength="26.60" lengthAdjust="spacingAndGlyphs">TCD-BM</text>
<text x="352.00" y="416.90" font-size="8.2" text-anchor="middle" fill="#231f20" textLength="26.60" lengthAdjust="spacingAndGlyphs">TCD-BM</text>
<text x="350.80" y="425.60" font-size="8.2" text-anchor="middle" fill="#231f20" textLength="10.00" lengthAdjust="spacingAndGlyphs">+ T</text>
<text transform="translate(272.50,361.10) rotate(-90)" font-size="9.4" text-anchor="middle" fill="#231f20" textLength="54.20" lengthAdjust="spacingAndGlyphs" style="stroke-width:0.28px">Inflammation</text>
<rect x="296.80" y="377.30" width="3.4" height="3.4" fill="#9e1a30"/>
<rect x="299.80" y="377.30" width="3.4" height="3.4" fill="#9e1a30"/>
<rect x="296.80" y="380.30" width="3.4" height="3.4" fill="#9e1a30"/>
<rect x="299.80" y="380.30" width="3.4" height="3.4" fill="#9e1a30"/>
<line x1="297.00" y1="381.00" x2="303.50" y2="381.00" stroke="#1a1a1a" stroke-width="0.9"/>
<rect x="306.65" y="380.65" width="2.7" height="2.7" fill="#fff" stroke="#223a7a" stroke-width="0.9"/>
<rect x="309.65" y="381.15" width="2.7" height="2.7" fill="#fff" stroke="#223a7a" stroke-width="0.9"/>
<rect x="312.65" y="380.15" width="2.7" height="2.7" fill="#fff" stroke="#223a7a" stroke-width="0.9"/>
<line x1="306.30" y1="382.00" x2="316.00" y2="382.00" stroke="#1a1a1a" stroke-width="0.9"/>
<rect x="319.80" y="378.30" width="3.4" height="3.4" fill="#223a7a"/>
<rect x="322.50" y="378.30" width="3.4" height="3.4" fill="#223a7a"/>
<rect x="319.80" y="381.10" width="3.4" height="3.4" fill="#223a7a"/>
<rect x="322.50" y="381.10" width="3.4" height="3.4" fill="#223a7a"/>
<line x1="320.00" y1="381.50" x2="326.00" y2="381.50" stroke="#1a1a1a" stroke-width="0.9"/>
<rect x="340.30" y="321.30" width="3.4" height="3.4" fill="#9e1a30"/>
<rect x="340.80" y="324.30" width="3.4" height="3.4" fill="#9e1a30"/>
<rect x="339.60" y="326.80" width="3.4" height="3.4" fill="#9e1a30"/>
<rect x="340.30" y="328.80" width="3.4" height="3.4" fill="#9e1a30"/>
<rect x="339.40" y="337.90" width="3.4" height="3.4" fill="#9e1a30"/>
<rect x="339.40" y="344.30" width="3.4" height="3.4" fill="#9e1a30"/>
<rect x="339.40" y="354.50" width="3.4" height="3.4" fill="#9e1a30"/>
<line x1="337.40" y1="334.70" x2="344.80" y2="334.70" stroke="#1a1a1a" stroke-width="0.9"/>
<rect x="349.15" y="359.15" width="2.7" height="2.7" fill="#fff" stroke="#223a7a" stroke-width="0.9"/>
<rect x="351.65" y="359.65" width="2.7" height="2.7" fill="#fff" stroke="#223a7a" stroke-width="0.9"/>
<rect x="354.15" y="355.15" width="2.7" height="2.7" fill="#fff" stroke="#223a7a" stroke-width="0.9"/>
<rect x="350.65" y="357.65" width="2.7" height="2.7" fill="#fff" stroke="#223a7a" stroke-width="0.9"/>
<line x1="349.50" y1="360.60" x2="356.00" y2="360.60" stroke="#1a1a1a" stroke-width="0.9"/>
<rect x="358.80" y="359.80" width="3.4" height="3.4" fill="#223a7a"/>
<rect x="361.30" y="362.30" width="3.4" height="3.4" fill="#223a7a"/>
<rect x="364.30" y="361.80" width="3.4" height="3.4" fill="#223a7a"/>
<rect x="366.30" y="360.80" width="3.4" height="3.4" fill="#223a7a"/>
<rect x="363.30" y="364.30" width="3.4" height="3.4" fill="#223a7a"/>
<rect x="360.30" y="363.80" width="3.4" height="3.4" fill="#223a7a"/>
<rect x="362.00" y="374.60" width="3.4" height="3.4" fill="#223a7a"/>
<line x1="360.00" y1="364.60" x2="368.50" y2="364.60" stroke="#1a1a1a" stroke-width="0.9"/>
<path d="M300.40,318.10 V315.30 H341.10 V318.10" fill="none" stroke="#1a1a1a" stroke-width="0.8"/>
<path d="M341.60,318.10 V315.30 H353.70 V318.10" fill="none" stroke="#1a1a1a" stroke-width="0.8"/>
<path d="M341.60,310.90 V308.10 H366.10 V310.90" fill="none" stroke="#1a1a1a" stroke-width="0.8"/>
<circle cx="317.80" cy="312.10" r="0.95" fill="#333"/><circle cx="320.70" cy="312.10" r="0.95" fill="#333"/><circle cx="323.60" cy="312.10" r="0.95" fill="#333"/>
<circle cx="344.70" cy="312.10" r="0.95" fill="#333"/><circle cx="347.60" cy="312.10" r="0.95" fill="#333"/><circle cx="350.50" cy="312.10" r="0.95" fill="#333"/>
<circle cx="350.90" cy="305.10" r="0.95" fill="#333"/><circle cx="353.80" cy="305.10" r="0.95" fill="#333"/><circle cx="356.70" cy="305.10" r="0.95" fill="#333"/>
<line x1="418.60" y1="318.60" x2="418.60" y2="403.80" stroke="#1a1a1a" stroke-width="1.1"/>
<line x1="418.10" y1="403.30" x2="500.40" y2="403.30" stroke="#1a1a1a" stroke-width="1.1"/>
<line x1="415.60" y1="321.75" x2="418.60" y2="321.75" stroke="#1a1a1a" stroke-width="1"/>
<text x="412.80" y="324.45" font-size="7.8" text-anchor="end" fill="#231f20">3</text>
<line x1="415.60" y1="342.20" x2="418.60" y2="342.20" stroke="#1a1a1a" stroke-width="1"/>
<text x="412.80" y="344.90" font-size="7.8" text-anchor="end" fill="#231f20">2</text>
<line x1="415.60" y1="362.65" x2="418.60" y2="362.65" stroke="#1a1a1a" stroke-width="1"/>
<text x="412.80" y="365.35" font-size="7.8" text-anchor="end" fill="#231f20">1</text>
<line x1="415.60" y1="383.10" x2="418.60" y2="383.10" stroke="#1a1a1a" stroke-width="1"/>
<text x="412.80" y="385.80" font-size="7.8" text-anchor="end" fill="#231f20">0</text>
<line x1="415.60" y1="403.55" x2="418.60" y2="403.55" stroke="#1a1a1a" stroke-width="1"/>
<text x="412.80" y="406.25" font-size="7.8" text-anchor="end" fill="#231f20">-1</text>
<line x1="438.90" y1="403.30" x2="438.90" y2="406.30" stroke="#1a1a1a" stroke-width="1"/>
<line x1="479.80" y1="403.30" x2="479.80" y2="406.30" stroke="#1a1a1a" stroke-width="1"/>
<text x="438.90" y="416.90" font-size="8.2" text-anchor="middle" fill="#231f20" textLength="26.60" lengthAdjust="spacingAndGlyphs">TCD-BM</text>
<text x="479.80" y="416.90" font-size="8.2" text-anchor="middle" fill="#231f20" textLength="26.60" lengthAdjust="spacingAndGlyphs">TCD-BM</text>
<text x="478.60" y="425.60" font-size="8.2" text-anchor="middle" fill="#231f20" textLength="10.00" lengthAdjust="spacingAndGlyphs">+ T</text>
<text transform="translate(399.6,361) rotate(-90)" font-size="9.4" style="stroke-width:0.28px" text-anchor="middle" fill="#231f20" textLength="76.2" lengthAdjust="spacingAndGlyphs">CFU / g MLN (x10<tspan font-size="5.5" dy="-3.5">6</tspan><tspan dy="3.5">)</tspan></text>
<rect x="422.80" y="381.40" width="3.4" height="3.4" fill="#9e1a30"/>
<rect x="424.97" y="381.40" width="3.4" height="3.4" fill="#9e1a30"/>
<rect x="427.13" y="381.40" width="3.4" height="3.4" fill="#9e1a30"/>
<rect x="429.30" y="381.40" width="3.4" height="3.4" fill="#9e1a30"/>
<rect x="434.15" y="381.75" width="2.7" height="2.7" fill="#fff" stroke="#223a7a" stroke-width="0.9"/>
<rect x="436.48" y="381.75" width="2.7" height="2.7" fill="#fff" stroke="#223a7a" stroke-width="0.9"/>
<rect x="438.82" y="381.75" width="2.7" height="2.7" fill="#fff" stroke="#223a7a" stroke-width="0.9"/>
<rect x="441.15" y="381.75" width="2.7" height="2.7" fill="#fff" stroke="#223a7a" stroke-width="0.9"/>
<rect x="446.30" y="381.40" width="3.4" height="3.4" fill="#223a7a"/>
<rect x="448.55" y="381.40" width="3.4" height="3.4" fill="#223a7a"/>
<rect x="450.80" y="381.40" width="3.4" height="3.4" fill="#223a7a"/>
<line x1="423.50" y1="383.10" x2="432.00" y2="383.10" stroke="#1a1a1a" stroke-width="0.9"/>
<line x1="434.30" y1="383.10" x2="443.60" y2="383.10" stroke="#1a1a1a" stroke-width="0.9"/>
<line x1="446.80" y1="383.10" x2="453.70" y2="383.10" stroke="#1a1a1a" stroke-width="0.9"/>
<rect x="466.60" y="328.20" width="3.4" height="3.4" fill="#9e1a30"/>
<rect x="464.50" y="333.50" width="3.4" height="3.4" fill="#9e1a30"/>
<rect x="468.70" y="337.10" width="3.4" height="3.4" fill="#9e1a30"/>
<rect x="466.60" y="358.40" width="3.4" height="3.4" fill="#9e1a30"/>
<rect x="466.60" y="369.40" width="3.4" height="3.4" fill="#9e1a30"/>
<rect x="465.80" y="377.50" width="3.4" height="3.4" fill="#9e1a30"/>
<rect x="467.30" y="380.50" width="3.4" height="3.4" fill="#9e1a30"/>
<line x1="465.00" y1="360.10" x2="472.30" y2="360.10" stroke="#1a1a1a" stroke-width="0.9"/>
<rect x="478.25" y="354.35" width="2.7" height="2.7" fill="#fff" stroke="#223a7a" stroke-width="0.9"/>
<rect x="477.15" y="378.65" width="2.7" height="2.7" fill="#fff" stroke="#223a7a" stroke-width="0.9"/>
<rect x="478.65" y="381.45" width="2.7" height="2.7" fill="#fff" stroke="#223a7a" stroke-width="0.9"/>
<line x1="475.90" y1="375.40" x2="483.60" y2="375.40" stroke="#1a1a1a" stroke-width="0.9"/>
<rect x="489.30" y="373.80" width="3.4" height="3.4" fill="#223a7a"/>
<rect x="488.30" y="377.30" width="3.4" height="3.4" fill="#223a7a"/>
<rect x="490.30" y="378.80" width="3.4" height="3.4" fill="#223a7a"/>
<rect x="488.80" y="380.80" width="3.4" height="3.4" fill="#223a7a"/>
<line x1="487.50" y1="379.20" x2="494.50" y2="379.20" stroke="#1a1a1a" stroke-width="0.9"/>
<path d="M425.50,319.00 V316.20 H466.30 V319.00" fill="none" stroke="#1a1a1a" stroke-width="0.8"/>
<path d="M466.80,319.00 V316.20 H490.10 V319.00" fill="none" stroke="#1a1a1a" stroke-width="0.8"/>
<circle cx="444.25" cy="313.20" r="0.95" fill="#333"/><circle cx="447.15" cy="313.20" r="0.95" fill="#333"/>
<circle cx="478.50" cy="313.20" r="0.95" fill="#333"/>
<rect x="405.90" y="433.00" width="4.0" height="4.0" fill="#9e1a30"/>
<text x="412.80" y="437.60" font-size="7.4" text-anchor="start" fill="#231f20" textLength="13.50" lengthAdjust="spacingAndGlyphs">VEH</text>
<rect x="434.55" y="433.35" width="3.3" height="3.3" fill="#fff" stroke="#223a7a" stroke-width="0.9"/>
<text x="440.80" y="437.60" font-size="7.4" text-anchor="start" fill="#231f20" textLength="26.70" lengthAdjust="spacingAndGlyphs">ICA(100)</text>
<rect x="477.00" y="433.00" width="4.0" height="4.0" fill="#223a7a"/>
<text x="484.20" y="437.60" font-size="7.4" text-anchor="start" fill="#231f20" textLength="26.40" lengthAdjust="spacingAndGlyphs">ICA(150)</text>
<text x="39.60" y="482.80" font-size="8.4" text-anchor="middle" fill="#231f20" textLength="26.90" lengthAdjust="spacingAndGlyphs">TCD-BM</text>
<text x="39.60" y="491.60" font-size="8.4" text-anchor="middle" fill="#231f20" textLength="25.40" lengthAdjust="spacingAndGlyphs">Control</text>
<text x="136.00" y="477.10" font-size="8.4" text-anchor="middle" fill="#231f20" textLength="39.60" lengthAdjust="spacingAndGlyphs">TCD-BM + T</text>
<line x1="89.20" y1="481.60" x2="187.30" y2="481.60" stroke="#1a1a1a" stroke-width="0.9"/>
<text x="102.00" y="492.40" font-size="8.4" text-anchor="middle" fill="#231f20" textLength="13.10" lengthAdjust="spacingAndGlyphs">VEH</text>
<text x="163.50" y="492.40" font-size="8.4" text-anchor="middle" fill="#231f20" textLength="11.50" lengthAdjust="spacingAndGlyphs">ICA</text>
<defs><clipPath id="hp"><rect x="7.5" y="497.4" width="190.3" height="65.3"/></clipPath>
<linearGradient id="hbg" x1="0" y1="0" x2="0" y2="1"><stop offset="0" stop-color="#636361"/><stop offset="0.5" stop-color="#535351"/><stop offset="1" stop-color="#4a4a48"/></linearGradient>
<radialGradient id="agar" cx="0.5" cy="0.5" r="0.5"><stop offset="0" stop-color="#b02238"/><stop offset="0.8" stop-color="#a61c31"/><stop offset="1" stop-color="#8a1426"/></radialGradient>
<radialGradient id="sheen" cx="0.5" cy="0.5" r="0.5"><stop offset="0" stop-color="#f0dedc" stop-opacity="0.95"/><stop offset="0.55" stop-color="#e8c6c6" stop-opacity="0.85"/><stop offset="0.85" stop-color="#d48894" stop-opacity="0.45"/><stop offset="1" stop-color="#c23a4a" stop-opacity="0"/></radialGradient>
<radialGradient id="sheen2" cx="0.5" cy="0.5" r="0.5"><stop offset="0" stop-color="#f0c8cc" stop-opacity="0.55"/><stop offset="1" stop-color="#c23a4a" stop-opacity="0"/></radialGradient>
</defs>
<g clip-path="url(#hp)">
<rect x="7.5" y="497.4" width="190.3" height="65.3" fill="url(#hbg)"/>
<rect x="7.5" y="497.4" width="64.5" height="65.3" fill="#6c6963" opacity="0.85"/>
<circle cx="40.4" cy="530.5" r="29.7" fill="#747472" stroke="#b8b8b6" stroke-width="1"/>
<circle cx="40.4" cy="530.5" r="27.5" fill="none" stroke="#cfcfcf" stroke-width="1"/>
<circle cx="40.4" cy="530.5" r="26.2" fill="url(#agar)"/>
<circle cx="103.6" cy="530.3" r="30.2" fill="#747472" stroke="#b8b8b6" stroke-width="1"/>
<circle cx="103.6" cy="530.3" r="28.0" fill="none" stroke="#cfcfcf" stroke-width="1"/>
<circle cx="103.6" cy="530.3" r="26.7" fill="url(#agar)"/>
<circle cx="166.4" cy="531" r="29.9" fill="#747472" stroke="#b8b8b6" stroke-width="1"/>
<circle cx="166.4" cy="531" r="27.7" fill="none" stroke="#cfcfcf" stroke-width="1"/>
<circle cx="166.4" cy="531" r="26.4" fill="url(#agar)"/>
<ellipse cx="39" cy="531" rx="24" ry="21" fill="url(#sheen)" transform="rotate(-20 39 531)"/>
<ellipse cx="93" cy="522" rx="14" ry="9" fill="url(#sheen2)" transform="rotate(-30 93 522)"/>
<circle cx="86.1" cy="535.7" r="0.97" fill="#ecd2d8"/>
<circle cx="86.5" cy="534.0" r="0.86" fill="#ecd2d8"/>
<circle cx="110.6" cy="546.4" r="0.87" fill="#ecd2d8"/>
<circle cx="105.6" cy="523.1" r="0.76" fill="#ecd2d8"/>
<circle cx="122.2" cy="542.2" r="0.89" fill="#ecd2d8"/>
<circle cx="127.0" cy="536.6" r="0.99" fill="#ecd2d8"/>
<circle cx="92.7" cy="514.5" r="0.71" fill="#ecd2d8"/>
<circle cx="121.3" cy="532.0" r="0.67" fill="#ecd2d8"/>
<circle cx="108.0" cy="541.5" r="0.66" fill="#ecd2d8"/>
<circle cx="87.8" cy="534.0" r="0.94" fill="#ecd2d8"/>
<circle cx="84.1" cy="527.9" r="0.82" fill="#ecd2d8"/>
<circle cx="94.9" cy="516.2" r="0.75" fill="#ecd2d8"/>
<circle cx="128.0" cy="529.9" r="0.94" fill="#ecd2d8"/>
<circle cx="100.0" cy="517.0" r="0.73" fill="#ecd2d8"/>
<circle cx="102.0" cy="536.6" r="0.92" fill="#ecd2d8"/>
<circle cx="85.3" cy="543.5" r="0.79" fill="#ecd2d8"/>
<circle cx="125.4" cy="524.4" r="0.65" fill="#ecd2d8"/>
<circle cx="109.5" cy="552.9" r="0.81" fill="#ecd2d8"/>
<circle cx="118.9" cy="528.4" r="0.68" fill="#ecd2d8"/>
<circle cx="88.7" cy="514.6" r="0.74" fill="#ecd2d8"/>
<circle cx="115.7" cy="537.7" r="0.99" fill="#ecd2d8"/>
<circle cx="104.0" cy="521.9" r="0.74" fill="#ecd2d8"/>
<circle cx="108.4" cy="533.9" r="0.93" fill="#ecd2d8"/>
<circle cx="111.6" cy="546.8" r="0.81" fill="#ecd2d8"/>
<circle cx="111.2" cy="549.8" r="0.70" fill="#ecd2d8"/>
<circle cx="98.4" cy="523.7" r="0.80" fill="#ecd2d8"/>
<circle cx="106.5" cy="542.7" r="0.99" fill="#ecd2d8"/>
<circle cx="108.0" cy="517.5" r="0.96" fill="#ecd2d8"/>
<circle cx="107.4" cy="545.2" r="0.95" fill="#ecd2d8"/>
<circle cx="98.7" cy="524.3" r="1.00" fill="#ecd2d8"/>
<circle cx="106.5" cy="542.4" r="0.92" fill="#ecd2d8"/>
<circle cx="97.3" cy="542.0" r="0.68" fill="#ecd2d8"/>
<circle cx="119.4" cy="540.3" r="0.74" fill="#ecd2d8"/>
<circle cx="91.6" cy="521.4" r="0.81" fill="#ecd2d8"/>
<circle cx="120.1" cy="526.0" r="0.85" fill="#ecd2d8"/>
<circle cx="110.6" cy="522.5" r="0.70" fill="#ecd2d8"/>
<circle cx="122.2" cy="518.2" r="0.74" fill="#ecd2d8"/>
<circle cx="111.4" cy="549.9" r="0.98" fill="#ecd2d8"/>
<circle cx="111.5" cy="552.8" r="0.96" fill="#ecd2d8"/>
<circle cx="90.9" cy="520.7" r="0.69" fill="#ecd2d8"/>
<circle cx="126.9" cy="536.1" r="0.73" fill="#ecd2d8"/>
<circle cx="100.1" cy="518.4" r="0.94" fill="#ecd2d8"/>
<circle cx="92.7" cy="522.7" r="0.71" fill="#ecd2d8"/>
<circle cx="102.4" cy="524.0" r="0.73" fill="#ecd2d8"/>
<circle cx="82.5" cy="522.1" r="0.87" fill="#ecd2d8"/>
<circle cx="99.2" cy="553.3" r="0.72" fill="#ecd2d8"/>
<circle cx="116.2" cy="531.6" r="0.81" fill="#ecd2d8"/>
<circle cx="113.2" cy="534.1" r="0.78" fill="#ecd2d8"/>
<circle cx="95.6" cy="526.4" r="0.78" fill="#ecd2d8"/>
<circle cx="122.4" cy="514.9" r="0.88" fill="#ecd2d8"/>
<circle cx="96.8" cy="512.8" r="0.70" fill="#ecd2d8"/>
<circle cx="106.8" cy="531.0" r="0.97" fill="#ecd2d8"/>
<circle cx="96.3" cy="507.4" r="0.66" fill="#ecd2d8"/>
<circle cx="92.4" cy="517.5" r="0.91" fill="#ecd2d8"/>
<circle cx="93.3" cy="552.5" r="0.68" fill="#ecd2d8"/>
<circle cx="83.4" cy="524.3" r="0.97" fill="#ecd2d8"/>
<circle cx="101.9" cy="509.8" r="0.93" fill="#ecd2d8"/>
<circle cx="116.1" cy="522.9" r="0.89" fill="#ecd2d8"/>
<circle cx="122.2" cy="517.0" r="0.80" fill="#ecd2d8"/>
<circle cx="109.3" cy="508.3" r="0.85" fill="#ecd2d8"/>
<circle cx="92.9" cy="519.6" r="0.85" fill="#ecd2d8"/>
<circle cx="98.2" cy="525.9" r="0.87" fill="#ecd2d8"/>
<circle cx="126.6" cy="529.3" r="0.90" fill="#ecd2d8"/>
<circle cx="87.5" cy="543.8" r="0.85" fill="#ecd2d8"/>
<circle cx="82.7" cy="538.5" r="0.68" fill="#ecd2d8"/>
<circle cx="103.6" cy="526.1" r="0.86" fill="#ecd2d8"/>
<circle cx="91.9" cy="531.7" r="0.89" fill="#ecd2d8"/>
<circle cx="84.4" cy="530.6" r="0.97" fill="#ecd2d8"/>
<circle cx="103.5" cy="532.9" r="0.76" fill="#ecd2d8"/>
<circle cx="98.8" cy="520.4" r="0.71" fill="#ecd2d8"/>
<circle cx="120.1" cy="519.2" r="0.80" fill="#ecd2d8"/>
<circle cx="114.5" cy="521.5" r="0.88" fill="#ecd2d8"/>
<circle cx="108.7" cy="545.5" r="0.93" fill="#ecd2d8"/>
<circle cx="123.3" cy="518.5" r="0.78" fill="#ecd2d8"/>
<circle cx="91.7" cy="523.4" r="0.70" fill="#ecd2d8"/>
<circle cx="81.2" cy="530.8" r="0.95" fill="#ecd2d8"/>
<circle cx="97.8" cy="507.1" r="0.75" fill="#ecd2d8"/>
<circle cx="111.6" cy="544.7" r="0.75" fill="#ecd2d8"/>
<circle cx="107.1" cy="545.7" r="0.87" fill="#ecd2d8"/>
<circle cx="89.9" cy="530.8" r="0.94" fill="#ecd2d8"/>
<circle cx="120.0" cy="528.4" r="0.68" fill="#ecd2d8"/>
<circle cx="126.0" cy="534.8" r="0.66" fill="#ecd2d8"/>
<circle cx="98.8" cy="512.4" r="0.76" fill="#ecd2d8"/>
<circle cx="104.5" cy="527.0" r="0.70" fill="#ecd2d8"/>
<circle cx="99.9" cy="531.4" r="0.94" fill="#ecd2d8"/>
<circle cx="104.3" cy="539.5" r="0.67" fill="#ecd2d8"/>
<circle cx="92.3" cy="518.4" r="0.87" fill="#ecd2d8"/>
<circle cx="91.2" cy="512.1" r="0.99" fill="#ecd2d8"/>
<circle cx="99.2" cy="520.3" r="0.82" fill="#ecd2d8"/>
<circle cx="104.7" cy="532.6" r="0.82" fill="#ecd2d8"/>
<circle cx="101.3" cy="520.2" r="0.75" fill="#ecd2d8"/>
<circle cx="92.0" cy="547.2" r="0.83" fill="#ecd2d8"/>
<circle cx="87.6" cy="516.3" r="0.79" fill="#ecd2d8"/>
<circle cx="109.7" cy="507.8" r="0.68" fill="#ecd2d8"/>
<circle cx="122.6" cy="521.7" r="0.70" fill="#ecd2d8"/>
<circle cx="148.2" cy="536.5" r="0.97" fill="#ecd2d8"/>
<circle cx="153.5" cy="543.7" r="0.96" fill="#ecd2d8"/>
<circle cx="173.2" cy="508.7" r="0.81" fill="#ecd2d8"/>
<circle cx="160.1" cy="522.2" r="0.90" fill="#ecd2d8"/>
<circle cx="174.4" cy="513.5" r="0.90" fill="#ecd2d8"/>
<circle cx="171.6" cy="553.2" r="0.99" fill="#ecd2d8"/>
<circle cx="183.8" cy="528.5" r="0.93" fill="#ecd2d8"/>
<circle cx="156.6" cy="551.7" r="0.95" fill="#ecd2d8"/>
<circle cx="162.4" cy="536.6" r="0.80" fill="#ecd2d8"/>
<circle cx="146.4" cy="524.5" r="0.82" fill="#ecd2d8"/>
<circle cx="187.6" cy="534.8" r="0.67" fill="#ecd2d8"/>
<circle cx="169.5" cy="521.5" r="0.77" fill="#ecd2d8"/>
<circle cx="168.5" cy="522.3" r="0.70" fill="#ecd2d8"/>
<circle cx="146.1" cy="528.9" r="0.94" fill="#ecd2d8"/>
<circle cx="157.7" cy="509.3" r="0.82" fill="#ecd2d8"/>
<circle cx="173.1" cy="528.8" r="0.73" fill="#ecd2d8"/>
<circle cx="153.7" cy="528.8" r="0.91" fill="#ecd2d8"/>
<circle cx="155.2" cy="517.7" r="0.95" fill="#ecd2d8"/>
<circle cx="153.9" cy="526.1" r="0.78" fill="#ecd2d8"/>
<circle cx="179.2" cy="512.2" r="0.72" fill="#ecd2d8"/>
<circle cx="180.4" cy="512.0" r="0.83" fill="#ecd2d8"/>
<circle cx="156.8" cy="526.2" r="0.84" fill="#ecd2d8"/>
<circle cx="147.7" cy="530.6" r="0.66" fill="#ecd2d8"/>
<circle cx="183.3" cy="527.7" r="0.79" fill="#ecd2d8"/>
<circle cx="172.1" cy="513.9" r="0.82" fill="#ecd2d8"/>
<circle cx="164.2" cy="525.3" r="0.84" fill="#ecd2d8"/>
<circle cx="146.3" cy="543.1" r="0.97" fill="#ecd2d8"/>
<circle cx="164.4" cy="547.4" r="0.69" fill="#ecd2d8"/>
<circle cx="146.6" cy="539.8" r="0.97" fill="#ecd2d8"/>
<circle cx="153.0" cy="533.0" r="0.72" fill="#ecd2d8"/>
<circle cx="26.2" cy="517.5" r="0.70" fill="#ecd2d8"/>
<circle cx="41.0" cy="527.5" r="0.72" fill="#ecd2d8"/>
<circle cx="42.8" cy="546.9" r="0.76" fill="#ecd2d8"/>
<circle cx="30.7" cy="542.9" r="0.69" fill="#ecd2d8"/>
<circle cx="39.6" cy="523.5" r="0.83" fill="#ecd2d8"/>
<circle cx="40.4" cy="539.4" r="0.84" fill="#ecd2d8"/>
</g>
<line x1="252.10" y1="476.30" x2="252.10" y2="561.60" stroke="#1a1a1a" stroke-width="1.1"/>
<line x1="251.60" y1="561.20" x2="375.00" y2="561.20" stroke="#1a1a1a" stroke-width="1.1"/>
<line x1="249.10" y1="479.41" x2="252.10" y2="479.41" stroke="#1a1a1a" stroke-width="1"/>
<text x="246.30" y="482.11" font-size="7.8" text-anchor="end" fill="#231f20" textLength="16.20" lengthAdjust="spacingAndGlyphs">1500</text>
<line x1="249.10" y1="506.64" x2="252.10" y2="506.64" stroke="#1a1a1a" stroke-width="1"/>
<text x="246.30" y="509.34" font-size="7.8" text-anchor="end" fill="#231f20" textLength="16.20" lengthAdjust="spacingAndGlyphs">1000</text>
<line x1="249.10" y1="533.87" x2="252.10" y2="533.87" stroke="#1a1a1a" stroke-width="1"/>
<text x="246.30" y="536.57" font-size="7.8" text-anchor="end" fill="#231f20" textLength="12.20" lengthAdjust="spacingAndGlyphs">500</text>
<line x1="249.10" y1="561.10" x2="252.10" y2="561.10" stroke="#1a1a1a" stroke-width="1"/>
<text x="246.30" y="563.80" font-size="7.8" text-anchor="end" fill="#231f20" textLength="4.00" lengthAdjust="spacingAndGlyphs">0</text>
<text transform="translate(223.3,519.7) rotate(-90)" font-size="9.4" style="stroke-width:0.28px" text-anchor="middle" fill="#231f20" textLength="62.3" lengthAdjust="spacingAndGlyphs">TER (ohm*cm<tspan font-size="5.5" dy="-3.5">2</tspan><tspan dy="3.5">)</tspan></text>
<rect x="257" y="526.5" width="20.60" height="34.70" fill="#9b1a2d"/>
<line x1="267.30" y1="525.40" x2="267.30" y2="526.50" stroke="#1a1a1a" stroke-width="0.9"/>
<line x1="263.30" y1="525.40" x2="271.30" y2="525.40" stroke="#1a1a1a" stroke-width="0.9"/>
<rect x="287.9" y="524.4" width="20.40" height="36.80" fill="#26346e"/>
<line x1="298.10" y1="523.30" x2="298.10" y2="524.40" stroke="#1a1a1a" stroke-width="0.9"/>
<line x1="294.10" y1="523.30" x2="302.10" y2="523.30" stroke="#1a1a1a" stroke-width="0.9"/>
<rect x="318.7" y="518.7" width="20.30" height="42.50" fill="#26346e"/>
<line x1="328.85" y1="517.60" x2="328.85" y2="518.70" stroke="#1a1a1a" stroke-width="0.9"/>
<line x1="324.85" y1="517.60" x2="332.85" y2="517.60" stroke="#1a1a1a" stroke-width="0.9"/>
<rect x="349.3" y="502.8" width="20.50" height="58.40" fill="#26346e"/>
<line x1="359.55" y1="501.10" x2="359.55" y2="502.80" stroke="#1a1a1a" stroke-width="0.9"/>
<line x1="355.55" y1="501.10" x2="363.55" y2="501.10" stroke="#1a1a1a" stroke-width="0.9"/>
<text x="267.70" y="574.30" font-size="8.2" text-anchor="middle" fill="#231f20" textLength="13.00" lengthAdjust="spacingAndGlyphs">VEH</text>
<text x="298.50" y="574.30" font-size="8.2" text-anchor="middle" fill="#231f20" textLength="8.00" lengthAdjust="spacingAndGlyphs">25</text>
<text x="329.10" y="574.30" font-size="8.2" text-anchor="middle" fill="#231f20" textLength="8.20" lengthAdjust="spacingAndGlyphs">50</text>
<text x="360.00" y="574.30" font-size="8.2" text-anchor="middle" fill="#231f20" textLength="12.50" lengthAdjust="spacingAndGlyphs">100</text>
<line x1="298.20" y1="579.30" x2="364.30" y2="579.30" stroke="#1a1a1a" stroke-width="0.9"/>
<text x="331.40" y="589.50" font-size="8.2" text-anchor="middle" fill="#231f20" textLength="28.80" lengthAdjust="spacingAndGlyphs">ICA (µm)</text>
<path d="M267.20,482.60 V479.80 H358.60 V482.60" fill="none" stroke="#1a1a1a" stroke-width="0.8"/>
<path d="M267.20,493.00 V490.20 H329.80 V493.00" fill="none" stroke="#1a1a1a" stroke-width="0.8"/>
<circle cx="308.65" cy="476.10" r="0.95" fill="#333"/><circle cx="311.55" cy="476.10" r="0.95" fill="#333"/><circle cx="314.45" cy="476.10" r="0.95" fill="#333"/><circle cx="317.35" cy="476.10" r="0.95" fill="#333"/>
<circle cx="295.60" cy="486.50" r="0.95" fill="#333"/><circle cx="298.50" cy="486.50" r="0.95" fill="#333"/><circle cx="301.40" cy="486.50" r="0.95" fill="#333"/>
<line x1="418.70" y1="478.80" x2="418.70" y2="561.80" stroke="#1a1a1a" stroke-width="1.1"/>
<line x1="418.20" y1="561.30" x2="498.70" y2="561.30" stroke="#1a1a1a" stroke-width="1.1"/>
<line x1="415.70" y1="481.17" x2="418.70" y2="481.17" stroke="#1a1a1a" stroke-width="1"/>
<text x="412.90" y="483.87" font-size="7.8" text-anchor="end" fill="#231f20">2.5</text>
<line x1="415.70" y1="497.20" x2="418.70" y2="497.20" stroke="#1a1a1a" stroke-width="1"/>
<text x="412.90" y="499.90" font-size="7.8" text-anchor="end" fill="#231f20">2.0</text>
<line x1="415.70" y1="513.22" x2="418.70" y2="513.22" stroke="#1a1a1a" stroke-width="1"/>
<text x="412.90" y="515.92" font-size="7.8" text-anchor="end" fill="#231f20">1.5</text>
<line x1="415.70" y1="529.25" x2="418.70" y2="529.25" stroke="#1a1a1a" stroke-width="1"/>
<text x="412.90" y="531.95" font-size="7.8" text-anchor="end" fill="#231f20">1.0</text>
<line x1="415.70" y1="545.27" x2="418.70" y2="545.27" stroke="#1a1a1a" stroke-width="1"/>
<text x="412.90" y="547.98" font-size="7.8" text-anchor="end" fill="#231f20">0.5</text>
<line x1="415.70" y1="561.30" x2="418.70" y2="561.30" stroke="#1a1a1a" stroke-width="1"/>
<text x="412.90" y="564.00" font-size="7.8" text-anchor="end" fill="#231f20">0</text>
<text transform="translate(397.60,520.10) rotate(-90)" font-size="9.4" text-anchor="middle" fill="#231f20" textLength="90.00" lengthAdjust="spacingAndGlyphs" style="stroke-width:0.28px">Fraction of initial value</text>
<rect x="426.3" y="530.8" width="16.40" height="30.50" fill="#9b1a2d"/>
<line x1="434.50" y1="528.70" x2="434.50" y2="530.80" stroke="#1a1a1a" stroke-width="0.9"/>
<line x1="430.40" y1="528.70" x2="438.60" y2="528.70" stroke="#1a1a1a" stroke-width="0.9"/>
<line x1="434.50" y1="561.30" x2="434.50" y2="564.00" stroke="#1a1a1a" stroke-width="1"/>
<rect x="450.5" y="545" width="16.20" height="16.30" fill="#3e1a5a"/>
<line x1="458.60" y1="538.50" x2="458.60" y2="545.00" stroke="#1a1a1a" stroke-width="0.9"/>
<line x1="454.50" y1="538.50" x2="462.70" y2="538.50" stroke="#1a1a1a" stroke-width="0.9"/>
<line x1="458.60" y1="561.30" x2="458.60" y2="564.00" stroke="#1a1a1a" stroke-width="1"/>
<rect x="474.6" y="508.8" width="16.20" height="52.50" fill="#d2821f"/>
<line x1="482.70" y1="489.90" x2="482.70" y2="508.80" stroke="#1a1a1a" stroke-width="0.9"/>
<line x1="478.60" y1="489.90" x2="486.80" y2="489.90" stroke="#1a1a1a" stroke-width="0.9"/>
<line x1="482.70" y1="561.30" x2="482.70" y2="564.00" stroke="#1a1a1a" stroke-width="1"/>
<text x="434.60" y="574.20" font-size="8.4" text-anchor="middle" fill="#231f20" textLength="13.40" lengthAdjust="spacingAndGlyphs">VEH</text>
<text x="458.70" y="574.20" font-size="8.4" text-anchor="middle" fill="#231f20" textLength="18.00" lengthAdjust="spacingAndGlyphs">TNFα</text>
<text x="482.60" y="574.20" font-size="8.4" text-anchor="middle" fill="#231f20" textLength="18.00" lengthAdjust="spacingAndGlyphs">TNFα</text>
<text x="482.60" y="583.40" font-size="8.4" text-anchor="middle" fill="#231f20" textLength="17.20" lengthAdjust="spacingAndGlyphs">+ ICA</text>
<path d="M459,478.8 V475.6 H483.7 V478.8" fill="none" stroke="#1a1a1a" stroke-width="0.8"/>
<circle cx="471.2" cy="472.5" r="0.95" fill="#333"/>
<rect x="0" y="0" width="520" height="1" fill="#000"/>
<rect x="0" y="0" width="1" height="599" fill="#000"/>
<rect x="519" y="0" width="1" height="599" fill="#000"/>
<rect x="518" y="0" width="1" height="599" fill="#000" opacity="0.35"/>
<rect x="0" y="597" width="520" height="2" fill="#000"/>
<rect x="1" y="1" width="517" height="1" fill="#000" opacity="0.1"/>
<rect x="1" y="2" width="1" height="595" fill="#000" opacity="0.1"/>
</svg></body></html>
